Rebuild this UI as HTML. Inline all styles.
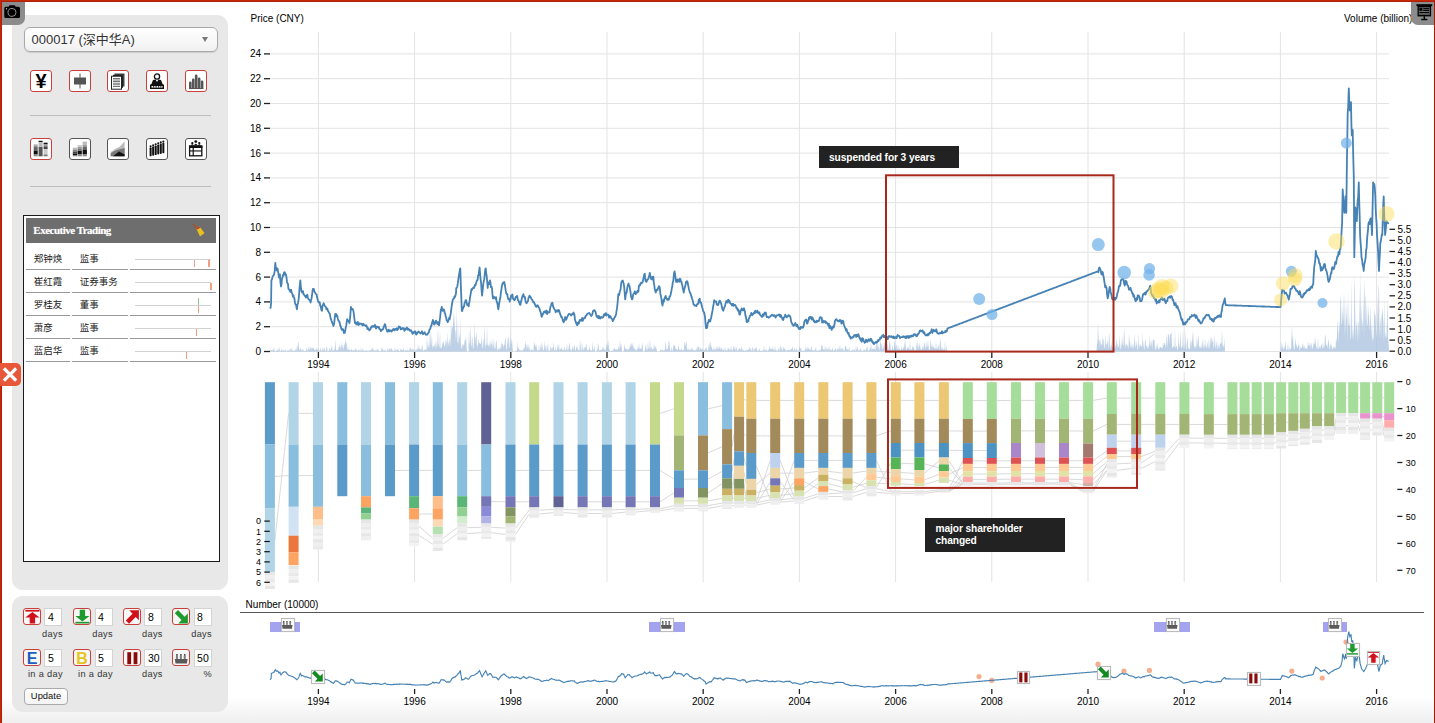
<!DOCTYPE html>
<html><head><meta charset="utf-8"><title>Stock</title>
<style>
*{box-sizing:border-box}
html,body{margin:0;padding:0}
body{width:1435px;height:723px;overflow:hidden;position:relative;background:#fff;font-family:"Liberation Sans","Noto Sans CJK SC",sans-serif;color:#000}
.abs{position:absolute}
#bt{left:0;top:0;width:1435px;height:2px;background:linear-gradient(#c92604 0,#c92604 1px,#a92209 1px)}
#bl{left:0;top:0;width:2px;height:723px;background:linear-gradient(90deg,#cb2503 0,#cb2503 1px,#ab2208 1px)}
#br{left:1434px;top:0;width:1px;height:723px;background:#a31d05}
#botg{left:2px;top:697px;width:1432px;height:26px;background:linear-gradient(#fff,#efefef)}
.panel{background:#e8e8e8;border-radius:11px}
#cam{left:2px;top:2px;width:23px;height:23px;background:#8c8c8c;border-bottom-right-radius:7px}
#pres{left:1411px;top:2px;width:23px;height:22.5px;background:#8c8c8c;border-bottom-left-radius:7px}
#sel{left:23.5px;top:27px;width:194px;height:24.5px;border:1px solid #a9a9a9;border-radius:6px;background:linear-gradient(#fff,#f1f1f1);box-shadow:0 1px 1px rgba(0,0,0,.12)}
#sel span{position:absolute;left:7px;top:1.3px;font-size:13px;color:#333;letter-spacing:0}
#sel i{position:absolute;left:177px;top:9px;width:0;height:0;border-left:3.5px solid transparent;border-right:3.5px solid transparent;border-top:5px solid #777}
.ic{position:absolute;width:22px;height:22px;border:1px solid #c9403a;border-radius:3px;background:#fff}
.ic.gb{border-color:#555}
.ic svg{position:absolute;left:0;top:0}
.sep{position:absolute;left:30px;width:181px;height:1px;background:#bdbdbd}
#tbl{left:23px;top:215px;width:197px;height:346.5px;border:1px solid #1a1a1a;background:#fff}
#thd{left:26.3px;top:218.2px;width:190px;height:25.2px;background:#6e6e6e}
#thd span{position:absolute;left:7px;top:5.5px;font-family:"Liberation Serif",serif;font-weight:bold;font-size:11px;color:#fff;text-shadow:0 0 1px rgba(255,255,255,.5);letter-spacing:-0.5px}
.row{position:absolute;left:26.3px;width:190px;height:23px}
.cell{position:absolute;top:0;height:22.5px;border-bottom:1.2px solid #9a9a9a;background:#fff;font-size:9.5px;line-height:24.6px;color:#222}
.c1{left:0;width:43.6px;padding-left:7.4px}
.c2{left:45.8px;width:55.6px;padding-left:7.6px}
.c3{left:103.9px;width:86.1px}
.tl{position:absolute;left:4.8px;top:11.3px;width:75.7px;height:1.6px;background:#d2d2d2}
.tk1{position:absolute;width:1.6px;background:#f0a080}
#xbtn{left:0;top:363.3px;width:21.3px;height:23px;background:#e9573b;border-radius:0 5px 5px 0}
.bi{position:absolute;width:17.5px;height:17px;border:1px solid #c9403a;border-radius:3px;background:#f7f7f7}
.bi svg{position:absolute;left:0;top:0}
.inp{position:absolute;width:18px;height:18px;border:1px solid #d3d3d3;background:#fff;font-size:10.5px;line-height:16px;padding-left:2.6px;color:#000}
.lb{position:absolute;font-size:9.2px;color:#333;text-align:right;letter-spacing:0.35px}
#upd{left:23.7px;top:687.5px;width:44.6px;height:17px;border:1px solid #aaa;border-radius:4px;background:linear-gradient(#fff,#f4f4f4);font-size:9.4px;line-height:14px;text-align:center;color:#111}
.note{position:absolute;background:#222;color:#fff;font-weight:bold;font-size:10.2px;line-height:12px;letter-spacing:-0.1px}
svg text{font-family:"Liberation Sans",sans-serif}
.al{font-size:10px;fill:#000}
.yl{font-size:9.6px}
.g{stroke:#e3e3e3;stroke-width:1}
.tk{stroke:#222;stroke-width:1.3}
.ob{position:absolute;width:13.5px;height:13.5px;border:1px solid #bbb;background:#fafafa;box-shadow:0 0 1px rgba(0,0,0,.15)}
.ob svg{position:absolute;left:0;top:0}
</style></head>
<body>
<div class="abs" id="botg"></div>
<svg class="abs" style="left:0;top:0" width="1435" height="723" viewBox="0 0 1435 723">
<line x1="270" y1="351.5" x2="1389" y2="351.5" class="g"/>
<line x1="270" y1="326.7" x2="1389" y2="326.7" class="g"/>
<line x1="270" y1="301.9" x2="1389" y2="301.9" class="g"/>
<line x1="270" y1="277.1" x2="1389" y2="277.1" class="g"/>
<line x1="270" y1="252.3" x2="1389" y2="252.3" class="g"/>
<line x1="270" y1="227.5" x2="1389" y2="227.5" class="g"/>
<line x1="270" y1="202.7" x2="1389" y2="202.7" class="g"/>
<line x1="270" y1="177.9" x2="1389" y2="177.9" class="g"/>
<line x1="270" y1="153.1" x2="1389" y2="153.1" class="g"/>
<line x1="270" y1="128.3" x2="1389" y2="128.3" class="g"/>
<line x1="270" y1="103.5" x2="1389" y2="103.5" class="g"/>
<line x1="270" y1="78.7" x2="1389" y2="78.7" class="g"/>
<line x1="270" y1="53.9" x2="1389" y2="53.9" class="g"/>
<line x1="318.4" y1="32" x2="318.4" y2="352" class="g"/>
<line x1="318.4" y1="372" x2="318.4" y2="582" class="g"/>
<line x1="414.6" y1="32" x2="414.6" y2="352" class="g"/>
<line x1="414.6" y1="372" x2="414.6" y2="582" class="g"/>
<line x1="510.8" y1="32" x2="510.8" y2="352" class="g"/>
<line x1="510.8" y1="372" x2="510.8" y2="582" class="g"/>
<line x1="607" y1="32" x2="607" y2="352" class="g"/>
<line x1="607" y1="372" x2="607" y2="582" class="g"/>
<line x1="703.2" y1="32" x2="703.2" y2="352" class="g"/>
<line x1="703.2" y1="372" x2="703.2" y2="582" class="g"/>
<line x1="799.4" y1="32" x2="799.4" y2="352" class="g"/>
<line x1="799.4" y1="372" x2="799.4" y2="582" class="g"/>
<line x1="895.6" y1="32" x2="895.6" y2="352" class="g"/>
<line x1="895.6" y1="372" x2="895.6" y2="582" class="g"/>
<line x1="991.8" y1="32" x2="991.8" y2="352" class="g"/>
<line x1="991.8" y1="372" x2="991.8" y2="582" class="g"/>
<line x1="1088" y1="32" x2="1088" y2="352" class="g"/>
<line x1="1088" y1="372" x2="1088" y2="582" class="g"/>
<line x1="1184.2" y1="32" x2="1184.2" y2="352" class="g"/>
<line x1="1184.2" y1="372" x2="1184.2" y2="582" class="g"/>
<line x1="1280.4" y1="32" x2="1280.4" y2="352" class="g"/>
<line x1="1280.4" y1="372" x2="1280.4" y2="582" class="g"/>
<line x1="1376.6" y1="32" x2="1376.6" y2="352" class="g"/>
<line x1="1376.6" y1="372" x2="1376.6" y2="582" class="g"/>
<path d="M270,351.5 L270,350.4 L270.5,350.1 L271,350.2 L271.5,350.7 L272,348.9 L272.5,351.1 L273,349.2 L273.5,350.7 L274,346.8 L274.5,349.9 L275,351.2 L275.5,350.9 L276,351.1 L276.5,350.9 L277,348.7 L277.5,350 L278,349.9 L278.5,350.9 L279,346.4 L279.5,349.2 L280,351.1 L280.5,351.1 L281,350.4 L281.5,350.4 L282,348.1 L282.5,351.2 L283,350.1 L283.5,350.2 L284,350.3 L284.5,350.6 L285,351.1 L285.5,348.7 L286,351.2 L286.5,351.2 L287,350.6 L287.5,350.6 L288,349.7 L288.5,350.2 L289,351 L289.5,351.1 L290,348.4 L290.5,348.4 L291,351 L291.5,349.6 L292,347.4 L292.5,351.1 L293,350.5 L293.5,351.1 L294,350.5 L294.5,350.4 L295,350.7 L295.5,350 L296,348.3 L296.5,351.2 L297,344.2 L297.5,350.7 L298,341.6 L298.5,342.4 L299,349.5 L299.5,351 L300,346.8 L300.5,349.5 L301,348.4 L301.5,350.7 L302,349.4 L302.5,351.2 L303,347.9 L303.5,350.7 L304,350.4 L304.5,351.2 L305,351 L305.5,351 L306,350.9 L306.5,347.6 L307,349.1 L307.5,349.8 L308,351.2 L308.5,347.5 L309,346.3 L309.5,350.1 L310,349.1 L310.5,346.1 L311,350.5 L311.5,347.1 L312,349.1 L312.5,346.9 L313,349.6 L313.5,347.3 L314,348.7 L314.5,349.7 L315,350.6 L315.5,349.8 L316,350 L316.5,347 L317,350.4 L317.5,349.8 L318,348.1 L318.5,349.2 L319,350.3 L319.5,350.9 L320,350.2 L320.5,347 L321,351.1 L321.5,349.7 L322,351.2 L322.5,349.2 L323,347.5 L323.5,349.7 L324,350.8 L324.5,346.8 L325,350.3 L325.5,350.7 L326,350.7 L326.5,347.6 L327,346.5 L327.5,351.1 L328,350.9 L328.5,350.9 L329,350.3 L329.5,348.2 L330,348.3 L330.5,351 L331,349.5 L331.5,347.9 L332,345 L332.5,351 L333,350.4 L333.5,349.5 L334,350.9 L334.5,349.2 L335,347 L335.5,339.2 L336,349.9 L336.5,350.4 L337,349.9 L337.5,349.9 L338,350.3 L338.5,348.5 L339,345.2 L339.5,344.9 L340,349.4 L340.5,345.1 L341,350 L341.5,341.2 L342,348.6 L342.5,343.7 L343,348.3 L343.5,350 L344,343.6 L344.5,345.9 L345,342.3 L345.5,338.1 L346,344.6 L346.5,341.8 L347,349.2 L347.5,350.1 L348,345.1 L348.5,350.4 L349,349.7 L349.5,349.7 L350,349.2 L350.5,351.2 L351,349.5 L351.5,349.3 L352,350 L352.5,350.4 L353,350.6 L353.5,349.7 L354,350.3 L354.5,349.9 L355,350.9 L355.5,347.7 L356,348.8 L356.5,349.9 L357,350.8 L357.5,350.5 L358,350.8 L358.5,349.9 L359,349.1 L359.5,350.5 L360,350.7 L360.5,350.7 L361,347.3 L361.5,350.8 L362,350.9 L362.5,347.7 L363,350.9 L363.5,350.3 L364,350.4 L364.5,350.6 L365,351.1 L365.5,350.6 L366,350.2 L366.5,349.8 L367,350.7 L367.5,351.1 L368,350.6 L368.5,350.8 L369,350.9 L369.5,350.2 L370,350.3 L370.5,349.7 L371,350.5 L371.5,348.6 L372,350.4 L372.5,348 L373,347.2 L373.5,350.5 L374,349.7 L374.5,351.1 L375,350.3 L375.5,350.6 L376,349.8 L376.5,351.2 L377,347.8 L377.5,350.4 L378,349.3 L378.5,349.7 L379,351.2 L379.5,351.2 L380,350.4 L380.5,350.9 L381,351.2 L381.5,346.7 L382,350.4 L382.5,347.8 L383,349.3 L383.5,350.7 L384,350.6 L384.5,350.8 L385,348.4 L385.5,350.9 L386,350.5 L386.5,351.2 L387,350.9 L387.5,348.5 L388,348.2 L388.5,350.6 L389,350.4 L389.5,348.4 L390,348.2 L390.5,348.9 L391,350.4 L391.5,347.8 L392,349 L392.5,350.4 L393,350.7 L393.5,350.7 L394,351.1 L394.5,349.9 L395,347.8 L395.5,350.6 L396,350.1 L396.5,350.7 L397,349.4 L397.5,349 L398,350.4 L398.5,349.3 L399,350.9 L399.5,351.2 L400,351 L400.5,348.2 L401,350.4 L401.5,349.7 L402,349.4 L402.5,350.6 L403,349.2 L403.5,348.1 L404,350.8 L404.5,350.8 L405,350.8 L405.5,350.2 L406,350.1 L406.5,351 L407,350.1 L407.5,349.7 L408,351.1 L408.5,351.1 L409,349.6 L409.5,348.2 L410,350.7 L410.5,347 L411,348.3 L411.5,350.6 L412,350.3 L412.5,347.7 L413,350.3 L413.5,348.3 L414,350.8 L414.5,350.5 L415,350.8 L415.5,350.3 L416,348.8 L416.5,350.4 L417,349.8 L417.5,349 L418,344.1 L418.5,349.8 L419,346.8 L419.5,348.4 L420,350.5 L420.5,349 L421,348.8 L421.5,349.8 L422,345.2 L422.5,345.5 L423,351 L423.5,350.4 L424,350.1 L424.5,350.3 L425,349.2 L425.5,348.9 L426,350 L426.5,350.6 L427,334 L427.5,349.9 L428,341.2 L428.5,346.2 L429,348.2 L429.5,345.2 L430,325.9 L430.5,345.8 L431,329.6 L431.5,347.6 L432,335.5 L432.5,349.9 L433,345.5 L433.5,346.5 L434,346.3 L434.5,343.6 L435,349.4 L435.5,339.8 L436,349.1 L436.5,340.9 L437,348.8 L437.5,343.1 L438,327.2 L438.5,343.7 L439,345.6 L439.5,347.9 L440,329.7 L440.5,348.5 L441,347.9 L441.5,347.6 L442,346 L442.5,343.1 L443,342.4 L443.5,340.5 L444,345.2 L444.5,347.3 L445,344.2 L445.5,339.3 L446,346.1 L446.5,337.6 L447,349.9 L447.5,330.9 L448,344.7 L448.5,341.1 L449,346.9 L449.5,340.1 L450,338.6 L450.5,348 L451,320.9 L451.5,336.1 L452,325.5 L452.5,329 L453,324.8 L453.5,317.3 L454,312.2 L454.5,322.4 L455,329.6 L455.5,331.7 L456,341.5 L456.5,305.9 L457,342.3 L457.5,342.9 L458,316.5 L458.5,345.5 L459,338.3 L459.5,334.1 L460,343.7 L460.5,316.3 L461,348.9 L461.5,348.2 L462,343.8 L462.5,344.8 L463,348.1 L463.5,343.4 L464,345.7 L464.5,341.2 L465,339.6 L465.5,340.7 L466,334.9 L466.5,345.9 L467,351.5 L467.5,351.5 L468,351.5 L468.5,351.5 L469,328.4 L469.5,343.2 L470,343.7 L470.5,324.2 L471,345.4 L471.5,347.2 L472,335.8 L472.5,340.1 L473,349 L473.5,347.9 L474,340.7 L474.5,321.4 L475,345.1 L475.5,338.2 L476,336.2 L476.5,330.5 L477,349 L477.5,345.1 L478,344.9 L478.5,338.2 L479,343.2 L479.5,342.9 L480,343.2 L480.5,343.9 L481,343.4 L481.5,335.2 L482,347.7 L482.5,348.8 L483,338.6 L483.5,340.4 L484,348 L484.5,324.8 L485,337.6 L485.5,348.4 L486,344.9 L486.5,344.4 L487,325.2 L487.5,344.2 L488,345.5 L488.5,344.4 L489,347.6 L489.5,340.9 L490,348.4 L490.5,344.3 L491,338.9 L491.5,344.3 L492,344.1 L492.5,349.1 L493,337.2 L493.5,347.6 L494,339.3 L494.5,349.1 L495,349 L495.5,347.6 L496,341.5 L496.5,340.7 L497,347.1 L497.5,350.4 L498,350.5 L498.5,348.9 L499,346.9 L499.5,349 L500,350 L500.5,345.7 L501,349.7 L501.5,341.7 L502,344.5 L502.5,343.4 L503,345.1 L503.5,348 L504,344.9 L504.5,345 L505,339.3 L505.5,336.8 L506,348.6 L506.5,350.2 L507,343.9 L507.5,337.2 L508,348.4 L508.5,335.7 L509,338.7 L509.5,346.5 L510,348.8 L510.5,331.8 L511,344.7 L511.5,341.7 L512,338.6 L512.5,347.4 L513,351.5 L513.5,351.5 L514,351.5 L514.5,351.5 L515,351.5 L515.5,351.5 L516,350.1 L516.5,350.6 L517,351.1 L517.5,341.6 L518,350.2 L518.5,346.6 L519,348.9 L519.5,350.2 L520,350.1 L520.5,350.6 L521,350.5 L521.5,350.5 L522,350.3 L522.5,350.4 L523,350.4 L523.5,347.9 L524,350.1 L524.5,347.4 L525,346.2 L525.5,340.8 L526,344 L526.5,350.1 L527,343.3 L527.5,349.3 L528,343.5 L528.5,350.9 L529,343.1 L529.5,348.4 L530,350 L530.5,350.5 L531,350.3 L531.5,350.1 L532,348 L532.5,350.5 L533,350.4 L533.5,351 L534,341 L534.5,344.1 L535,345.8 L535.5,347.1 L536,343.3 L536.5,346.3 L537,349.7 L537.5,349.9 L538,350.8 L538.5,350.9 L539,344.8 L539.5,350.4 L540,350.5 L540.5,344 L541,349.8 L541.5,340.6 L542,350.6 L542.5,343.2 L543,349.9 L543.5,349.7 L544,350.7 L544.5,340.2 L545,348.7 L545.5,344.4 L546,351.1 L546.5,350 L547,343.6 L547.5,350.3 L548,342.2 L548.5,350.7 L549,350.8 L549.5,350.3 L550,350.9 L550.5,345.7 L551,348.1 L551.5,348.2 L552,350.8 L552.5,347.2 L553,348.5 L553.5,341.6 L554,349.4 L554.5,350.6 L555,350.3 L555.5,346 L556,350.9 L556.5,350.1 L557,349.5 L557.5,344 L558,349.8 L558.5,346.7 L559,342.9 L559.5,350.6 L560,348.8 L560.5,349 L561,349.3 L561.5,346.5 L562,349.5 L562.5,349.8 L563,350.2 L563.5,350.4 L564,347.7 L564.5,346.9 L565,350.3 L565.5,349.8 L566,350.6 L566.5,348.1 L567,342.5 L567.5,350.8 L568,349.7 L568.5,349.6 L569,344.9 L569.5,342.2 L570,348.5 L570.5,349.6 L571,350.6 L571.5,350.7 L572,348.6 L572.5,348.6 L573,344.6 L573.5,350.7 L574,347.2 L574.5,344.1 L575,350.3 L575.5,350.5 L576,349.3 L576.5,345.4 L577,349.2 L577.5,345.8 L578,350.9 L578.5,349.5 L579,350.3 L579.5,350.5 L580,339.1 L580.5,345.3 L581,350.7 L581.5,350.1 L582,340.8 L582.5,350.2 L583,346.8 L583.5,350.3 L584,350.1 L584.5,346.9 L585,347.3 L585.5,348.5 L586,343.6 L586.5,345.1 L587,350.4 L587.5,349.1 L588,350.8 L588.5,349.8 L589,349.8 L589.5,345.7 L590,349.5 L590.5,350.6 L591,349.5 L591.5,350.7 L592,350.7 L592.5,341.3 L593,349.7 L593.5,350.6 L594,348.9 L594.5,345.5 L595,351.5 L595.5,351.5 L596,351.5 L596.5,351.5 L597,348.9 L597.5,349.9 L598,342.8 L598.5,345.2 L599,350 L599.5,350.2 L600,350.8 L600.5,349.8 L601,349.7 L601.5,350 L602,349.4 L602.5,346.2 L603,350.7 L603.5,346.5 L604,349.7 L604.5,349 L605,350.1 L605.5,350.6 L606,348.1 L606.5,343.8 L607,348.5 L607.5,340.5 L608,347 L608.5,339.3 L609,348.9 L609.5,349.7 L610,350.9 L610.5,351.1 L611,350.9 L611.5,351.1 L612,350.8 L612.5,350.6 L613,350.4 L613.5,349.4 L614,348.5 L614.5,347.4 L615,349.2 L615.5,349.6 L616,350 L616.5,349.4 L617,348.5 L617.5,350.1 L618,350.3 L618.5,346.5 L619,347.1 L619.5,349.5 L620,339.1 L620.5,348.1 L621,343 L621.5,346.8 L622,351.5 L622.5,351.5 L623,351.5 L623.5,351.5 L624,349.3 L624.5,343.8 L625,348 L625.5,348.4 L626,349.2 L626.5,349.8 L627,348.1 L627.5,350.4 L628,349.1 L628.5,349 L629,350 L629.5,346.8 L630,347 L630.5,343 L631,347.8 L631.5,342 L632,346.2 L632.5,345.6 L633,341.7 L633.5,348 L634,347.9 L634.5,349.9 L635,347.4 L635.5,350.3 L636,350.2 L636.5,349.7 L637,350.7 L637.5,346.7 L638,349.7 L638.5,347.8 L639,343 L639.5,348.6 L640,349 L640.5,348.2 L641,349 L641.5,348.8 L642,345.3 L642.5,342.1 L643,351.5 L643.5,351.5 L644,351.5 L644.5,351.5 L645,348.9 L645.5,346.7 L646,343.3 L646.5,350.1 L647,349.2 L647.5,350.5 L648,340.5 L648.5,348.2 L649,348.5 L649.5,348.8 L650,337.7 L650.5,347 L651,350.6 L651.5,346.3 L652,348.1 L652.5,350.2 L653,348.6 L653.5,349.9 L654,342.6 L654.5,349.8 L655,344.8 L655.5,347.6 L656,347.6 L656.5,348.8 L657,351.5 L657.5,351.5 L658,351.5 L658.5,351.5 L659,351.5 L659.5,351.5 L660,350.8 L660.5,349 L661,350.3 L661.5,350.6 L662,350.1 L662.5,349.8 L663,349.8 L663.5,350.4 L664,350.9 L664.5,349 L665,350.9 L665.5,340.4 L666,344.4 L666.5,349.7 L667,349 L667.5,349.4 L668,347.7 L668.5,342.5 L669,339.5 L669.5,344.8 L670,349.7 L670.5,350.9 L671,350.9 L671.5,346.5 L672,349.4 L672.5,350.9 L673,349.1 L673.5,345.1 L674,345.8 L674.5,345.5 L675,345.2 L675.5,349 L676,348.6 L676.5,349.7 L677,349.2 L677.5,350 L678,350.1 L678.5,344.8 L679,348.1 L679.5,350.4 L680,349 L680.5,350.6 L681,349.6 L681.5,348.2 L682,349.8 L682.5,350.9 L683,349.9 L683.5,349.8 L684,350.2 L684.5,341.6 L685,344.1 L685.5,346.5 L686,341.3 L686.5,341.5 L687,350.2 L687.5,349.7 L688,347.8 L688.5,348.9 L689,350.4 L689.5,349 L690,350.2 L690.5,350.4 L691,347.1 L691.5,348.9 L692,349.8 L692.5,348.2 L693,350 L693.5,350.1 L694,350.8 L694.5,349.7 L695,350.6 L695.5,350.1 L696,349.6 L696.5,349.9 L697,345.8 L697.5,350.1 L698,345.4 L698.5,347.6 L699,346.2 L699.5,350.6 L700,348.8 L700.5,347.2 L701,349.6 L701.5,349.8 L702,348.3 L702.5,348.4 L703,350 L703.5,350 L704,349.7 L704.5,350.3 L705,349.7 L705.5,348.5 L706,347.9 L706.5,346.9 L707,350.2 L707.5,350.8 L708,350.4 L708.5,343.5 L709,350.6 L709.5,344.8 L710,343 L710.5,342 L711,348.5 L711.5,345.3 L712,348 L712.5,350 L713,350 L713.5,349.3 L714,346.7 L714.5,350.5 L715,348.4 L715.5,350.6 L716,346.4 L716.5,350.1 L717,345.3 L717.5,348.7 L718,349.8 L718.5,348.5 L719,345.2 L719.5,349.3 L720,346.5 L720.5,349.2 L721,350.1 L721.5,347.7 L722,347.9 L722.5,350 L723,349.7 L723.5,349.3 L724,350.7 L724.5,350.7 L725,346.4 L725.5,349.4 L726,350.3 L726.5,350.8 L727,349.9 L727.5,350.6 L728,347.1 L728.5,349.8 L729,347.6 L729.5,350.9 L730,349 L730.5,350.2 L731,345.7 L731.5,350 L732,350.5 L732.5,350.6 L733,349.4 L733.5,345.2 L734,349.5 L734.5,348.8 L735,345.4 L735.5,350.7 L736,349.5 L736.5,346.1 L737,350.8 L737.5,350.8 L738,350.3 L738.5,349.8 L739,348.5 L739.5,348.4 L740,348.1 L740.5,350.6 L741,348 L741.5,346.4 L742,350.9 L742.5,349.9 L743,348.7 L743.5,350.3 L744,350.2 L744.5,351.1 L745,350.5 L745.5,350.1 L746,350.8 L746.5,350.6 L747,350.1 L747.5,350.1 L748,350.1 L748.5,349.2 L749,349.7 L749.5,345.6 L750,350.8 L750.5,348.4 L751,348.6 L751.5,350.4 L752,351.1 L752.5,346.4 L753,347.5 L753.5,350.8 L754,351 L754.5,347.3 L755,350.4 L755.5,347 L756,349.1 L756.5,347 L757,350.7 L757.5,350.2 L758,350.5 L758.5,350.5 L759,350.4 L759.5,348.3 L760,350.4 L760.5,350.4 L761,351.1 L761.5,350.8 L762,350.8 L762.5,349.9 L763,350.9 L763.5,350.2 L764,345.4 L764.5,349.8 L765,350.8 L765.5,349.6 L766,350.4 L766.5,348.4 L767,351.2 L767.5,351 L768,350 L768.5,350 L769,349.3 L769.5,345.5 L770,350.2 L770.5,347.8 L771,349 L771.5,348.7 L772,349.9 L772.5,346 L773,350.6 L773.5,347.8 L774,350.7 L774.5,350.1 L775,344.9 L775.5,350.3 L776,350 L776.5,350.2 L777,350.5 L777.5,351 L778,350.5 L778.5,347.8 L779,349.7 L779.5,351.2 L780,345.9 L780.5,346.1 L781,350.7 L781.5,347.4 L782,347.3 L782.5,350.8 L783,350.6 L783.5,345.9 L784,349 L784.5,348.2 L785,348.9 L785.5,350 L786,350.9 L786.5,350.9 L787,350 L787.5,349.9 L788,350.1 L788.5,350.1 L789,350 L789.5,350.5 L790,348.9 L790.5,350.7 L791,347.9 L791.5,348.9 L792,349.6 L792.5,345.2 L793,349.8 L793.5,350.8 L794,350.5 L794.5,347.5 L795,349.3 L795.5,349.8 L796,351 L796.5,347.7 L797,350.4 L797.5,350.4 L798,350.3 L798.5,350.7 L799,349.4 L799.5,345.6 L800,350.3 L800.5,348.1 L801,347.4 L801.5,350.4 L802,351.1 L802.5,350.7 L803,351 L803.5,350.6 L804,350.9 L804.5,350.3 L805,350.3 L805.5,346.7 L806,349.8 L806.5,349.7 L807,346 L807.5,350.4 L808,346.3 L808.5,348.2 L809,350.6 L809.5,348.8 L810,349.5 L810.5,350.5 L811,346 L811.5,346.2 L812,350.6 L812.5,350.3 L813,350.7 L813.5,350 L814,350.3 L814.5,350.6 L815,350.2 L815.5,348.4 L816,347.6 L816.5,350.8 L817,350.8 L817.5,350.6 L818,350.8 L818.5,350.2 L819,350.8 L819.5,349.9 L820,349.2 L820.5,351 L821,349.1 L821.5,344.7 L822,345.5 L822.5,345.5 L823,350.6 L823.5,348.9 L824,349.4 L824.5,350.2 L825,345.5 L825.5,351.2 L826,345.1 L826.5,351.2 L827,348.6 L827.5,349.7 L828,347.5 L828.5,351.2 L829,344.9 L829.5,350 L830,350.8 L830.5,348.6 L831,350 L831.5,350.6 L832,350.1 L832.5,347.1 L833,351.1 L833.5,350.5 L834,350.3 L834.5,349.5 L835,350.3 L835.5,347.1 L836,351.1 L836.5,350.8 L837,348.8 L837.5,349.6 L838,348.6 L838.5,351 L839,345.1 L839.5,350.7 L840,344.4 L840.5,350.9 L841,347.7 L841.5,348.2 L842,350.8 L842.5,348.4 L843,347.7 L843.5,350.5 L844,350.9 L844.5,350.2 L845,347.1 L845.5,345.4 L846,346.2 L846.5,349.1 L847,350.2 L847.5,349.4 L848,348.1 L848.5,349.7 L849,350.9 L849.5,346.1 L850,351.2 L850.5,351 L851,351 L851.5,350.4 L852,349.8 L852.5,349.7 L853,350.2 L853.5,351.1 L854,348.5 L854.5,349.6 L855,351 L855.5,350.6 L856,344.9 L856.5,349.7 L857,349.8 L857.5,346.1 L858,350.2 L858.5,350.2 L859,351.2 L859.5,348.9 L860,351.1 L860.5,348.2 L861,349.3 L861.5,350.8 L862,351.1 L862.5,351.1 L863,350.4 L863.5,349.5 L864,350.8 L864.5,349.2 L865,350.1 L865.5,350.7 L866,350.2 L866.5,346.6 L867,350.3 L867.5,345.1 L868,351 L868.5,350.5 L869,350.7 L869.5,350.1 L870,347.5 L870.5,348.7 L871,341.6 L871.5,349.6 L872,349.7 L872.5,348.7 L873,348.8 L873.5,349.6 L874,347.5 L874.5,348.5 L875,350.2 L875.5,349.2 L876,343.8 L876.5,342.7 L877,349.4 L877.5,340.7 L878,349 L878.5,344.2 L879,349.7 L879.5,350.6 L880,343.7 L880.5,340.4 L881,344.3 L881.5,343.9 L882,349.2 L882.5,349 L883,342.2 L883.5,349.6 L884,345.2 L884.5,341.6 L885,346.2 L885.5,347.8 L886,340.4 L886.5,348.8 L887,347.3 L887.5,338.9 L888,349.8 L888.5,349.5 L889,344.3 L889.5,342.2 L890,340.8 L890.5,348.6 L891,349.9 L891.5,350.8 L892,349.2 L892.5,344.8 L893,348.3 L893.5,350.3 L894,348 L894.5,340.5 L895,341.8 L895.5,348.7 L896,346.4 L896.5,343.9 L897,350.3 L897.5,348.9 L898,344 L898.5,349 L899,349.3 L899.5,348.7 L900,350.3 L900.5,350.8 L901,349 L901.5,346.2 L902,349.7 L902.5,349.6 L903,348.7 L903.5,346.9 L904,347.7 L904.5,340.7 L905,348.8 L905.5,339.1 L906,350 L906.5,349.4 L907,349.1 L907.5,346.7 L908,349.2 L908.5,346.6 L909,348.6 L909.5,350.2 L910,340.7 L910.5,349 L911,350.7 L911.5,348.8 L912,350.1 L912.5,345.6 L913,347.5 L913.5,347.3 L914,347.2 L914.5,350.8 L915,350.1 L915.5,350.3 L916,350.1 L916.5,342.2 L917,348.1 L917.5,340 L918,350.5 L918.5,343.7 L919,349.4 L919.5,342.8 L920,345.4 L920.5,348.7 L921,349.6 L921.5,349.9 L922,349.1 L922.5,345.7 L923,349.2 L923.5,348.1 L924,342.6 L924.5,343.6 L925,347.2 L925.5,349.2 L926,340.2 L926.5,346.6 L927,347.4 L927.5,345.9 L928,339.7 L928.5,346.7 L929,350.2 L929.5,349.2 L930,349.7 L930.5,339.5 L931,342.5 L931.5,348.9 L932,343 L932.5,348.3 L933,344.9 L933.5,347.5 L934,347 L934.5,348.4 L935,348.6 L935.5,349 L936,340.1 L936.5,348.8 L937,348.9 L937.5,348.3 L938,346 L938.5,345 L939,350.2 L939.5,348.9 L940,339.3 L940.5,340.5 L941,345.9 L941.5,350.6 L942,346.2 L942.5,348.7 L943,350.1 L943.5,350 L944,347.5 L944.5,350.5 L945,340.2 L945.5,350.6 L946,350.8 L946.5,345.1 L947,351.5 L947.5,351.5 L948,351.5 L948.5,351.5 L949,351.5 L949.5,351.5 L950,351.5 L950.5,351.5 L951,351.5 L951.5,351.5 L952,351.5 L952.5,351.5 L953,351.5 L953.5,351.5 L954,351.5 L954.5,351.5 L955,351.5 L955.5,351.5 L956,351.5 L956.5,351.5 L957,351.5 L957.5,351.5 L958,351.5 L958.5,351.5 L959,351.5 L959.5,351.5 L960,351.5 L960.5,351.5 L961,351.5 L961.5,351.5 L962,351.5 L962.5,351.5 L963,351.5 L963.5,351.5 L964,351.5 L964.5,351.5 L965,351.5 L965.5,351.5 L966,351.5 L966.5,351.5 L967,351.5 L967.5,351.5 L968,351.5 L968.5,351.5 L969,351.5 L969.5,351.5 L970,351.5 L970.5,351.5 L971,351.5 L971.5,351.5 L972,351.5 L972.5,351.5 L973,351.5 L973.5,351.5 L974,351.5 L974.5,351.5 L975,351.5 L975.5,351.5 L976,351.5 L976.5,351.5 L977,351.5 L977.5,351.5 L978,351.5 L978.5,351.5 L979,351.5 L979.5,351.5 L980,351.5 L980.5,351.5 L981,351.5 L981.5,351.5 L982,351.5 L982.5,351.5 L983,351.5 L983.5,351.5 L984,351.5 L984.5,351.5 L985,351.5 L985.5,351.5 L986,351.5 L986.5,351.5 L987,351.5 L987.5,351.5 L988,351.5 L988.5,351.5 L989,351.5 L989.5,351.5 L990,351.5 L990.5,351.5 L991,351.5 L991.5,351.5 L992,351.5 L992.5,351.5 L993,351.5 L993.5,351.5 L994,351.5 L994.5,351.5 L995,351.5 L995.5,351.5 L996,351.5 L996.5,351.5 L997,351.5 L997.5,351.5 L998,351.5 L998.5,351.5 L999,351.5 L999.5,351.5 L1000,351.5 L1000.5,351.5 L1001,351.5 L1001.5,351.5 L1002,351.5 L1002.5,351.5 L1003,351.5 L1003.5,351.5 L1004,351.5 L1004.5,351.5 L1005,351.5 L1005.5,351.5 L1006,351.5 L1006.5,351.5 L1007,351.5 L1007.5,351.5 L1008,351.5 L1008.5,351.5 L1009,351.5 L1009.5,351.5 L1010,351.5 L1010.5,351.5 L1011,351.5 L1011.5,351.5 L1012,351.5 L1012.5,351.5 L1013,351.5 L1013.5,351.5 L1014,351.5 L1014.5,351.5 L1015,351.5 L1015.5,351.5 L1016,351.5 L1016.5,351.5 L1017,351.5 L1017.5,351.5 L1018,351.5 L1018.5,351.5 L1019,351.5 L1019.5,351.5 L1020,351.5 L1020.5,351.5 L1021,351.5 L1021.5,351.5 L1022,351.5 L1022.5,351.5 L1023,351.5 L1023.5,351.5 L1024,351.5 L1024.5,351.5 L1025,351.5 L1025.5,351.5 L1026,351.5 L1026.5,351.5 L1027,351.5 L1027.5,351.5 L1028,351.5 L1028.5,351.5 L1029,351.5 L1029.5,351.5 L1030,351.5 L1030.5,351.5 L1031,351.5 L1031.5,351.5 L1032,351.5 L1032.5,351.5 L1033,351.5 L1033.5,351.5 L1034,351.5 L1034.5,351.5 L1035,351.5 L1035.5,351.5 L1036,351.5 L1036.5,351.5 L1037,351.5 L1037.5,351.5 L1038,351.5 L1038.5,351.5 L1039,351.5 L1039.5,351.5 L1040,351.5 L1040.5,351.5 L1041,351.5 L1041.5,351.5 L1042,351.5 L1042.5,351.5 L1043,351.5 L1043.5,351.5 L1044,351.5 L1044.5,351.5 L1045,351.5 L1045.5,351.5 L1046,351.5 L1046.5,351.5 L1047,351.5 L1047.5,351.5 L1048,351.5 L1048.5,351.5 L1049,351.5 L1049.5,351.5 L1050,351.5 L1050.5,351.5 L1051,351.5 L1051.5,351.5 L1052,351.5 L1052.5,351.5 L1053,351.5 L1053.5,351.5 L1054,351.5 L1054.5,351.5 L1055,351.5 L1055.5,351.5 L1056,351.5 L1056.5,351.5 L1057,351.5 L1057.5,351.5 L1058,351.5 L1058.5,351.5 L1059,351.5 L1059.5,351.5 L1060,351.5 L1060.5,351.5 L1061,351.5 L1061.5,351.5 L1062,351.5 L1062.5,351.5 L1063,351.5 L1063.5,351.5 L1064,351.5 L1064.5,351.5 L1065,351.5 L1065.5,351.5 L1066,351.5 L1066.5,351.5 L1067,351.5 L1067.5,351.5 L1068,351.5 L1068.5,351.5 L1069,351.5 L1069.5,351.5 L1070,351.5 L1070.5,351.5 L1071,351.5 L1071.5,351.5 L1072,351.5 L1072.5,351.5 L1073,351.5 L1073.5,351.5 L1074,351.5 L1074.5,351.5 L1075,351.5 L1075.5,351.5 L1076,351.5 L1076.5,351.5 L1077,351.5 L1077.5,351.5 L1078,351.5 L1078.5,351.5 L1079,351.5 L1079.5,351.5 L1080,351.5 L1080.5,351.5 L1081,351.5 L1081.5,351.5 L1082,351.5 L1082.5,351.5 L1083,351.5 L1083.5,351.5 L1084,351.5 L1084.5,351.5 L1085,351.5 L1085.5,351.5 L1086,351.5 L1086.5,351.5 L1087,351.5 L1087.5,351.5 L1088,351.5 L1088.5,351.5 L1089,351.5 L1089.5,351.5 L1090,351.5 L1090.5,351.5 L1091,351.5 L1091.5,351.5 L1092,351.5 L1092.5,351.5 L1093,351.5 L1093.5,351.5 L1094,351.5 L1094.5,351.5 L1095,351.5 L1095.5,351.5 L1096,351.5 L1096.5,351.5 L1097,344 L1097.5,342.2 L1098,322 L1098.5,337.7 L1099,341.3 L1099.5,339.4 L1100,347.8 L1100.5,339.2 L1101,344 L1101.5,344.6 L1102,345.5 L1102.5,333.7 L1103,347.6 L1103.5,338.6 L1104,340.1 L1104.5,349 L1105,346.7 L1105.5,333.9 L1106,348.7 L1106.5,343.2 L1107,344.3 L1107.5,339.6 L1108,344.6 L1108.5,349.8 L1109,331.7 L1109.5,336.3 L1110,349.9 L1110.5,344.3 L1111,349.3 L1111.5,341.4 L1112,347.4 L1112.5,346.3 L1113,348.2 L1113.5,349 L1114,349.3 L1114.5,345.7 L1115,349.2 L1115.5,344.2 L1116,347.6 L1116.5,338.2 L1117,342.6 L1117.5,344.9 L1118,347.7 L1118.5,346.5 L1119,345.5 L1119.5,333.7 L1120,349.4 L1120.5,349.1 L1121,342.3 L1121.5,349.1 L1122,335.5 L1122.5,341.4 L1123,345.1 L1123.5,345.9 L1124,328 L1124.5,335.1 L1125,349.7 L1125.5,342.3 L1126,347.6 L1126.5,343.5 L1127,344.7 L1127.5,344.7 L1128,348.8 L1128.5,347.2 L1129,333 L1129.5,340.9 L1130,344.3 L1130.5,348.1 L1131,340.3 L1131.5,348.1 L1132,347.3 L1132.5,343.5 L1133,349.8 L1133.5,347 L1134,342.4 L1134.5,333.3 L1135,347.7 L1135.5,347 L1136,339.6 L1136.5,346.4 L1137,341.2 L1137.5,349.6 L1138,349.9 L1138.5,332.5 L1139,348.8 L1139.5,345.9 L1140,343.5 L1140.5,345.1 L1141,346.9 L1141.5,345.7 L1142,346.7 L1142.5,331.9 L1143,349.1 L1143.5,340.1 L1144,349.8 L1144.5,349 L1145,340 L1145.5,339.8 L1146,346.5 L1146.5,344.8 L1147,348.1 L1147.5,346.3 L1148,349.9 L1148.5,344 L1149,348.9 L1149.5,334 L1150,347.6 L1150.5,340.4 L1151,347.5 L1151.5,343.1 L1152,338.6 L1152.5,349.9 L1153,337.8 L1153.5,340.3 L1154,340.1 L1154.5,340.2 L1155,349.6 L1155.5,350 L1156,344.7 L1156.5,349.9 L1157,342.3 L1157.5,345.3 L1158,349.5 L1158.5,349.5 L1159,345.2 L1159.5,349.6 L1160,347.1 L1160.5,346.7 L1161,347.2 L1161.5,348.2 L1162,347.3 L1162.5,348.9 L1163,342.2 L1163.5,346.1 L1164,345.1 L1164.5,342.8 L1165,342.8 L1165.5,345.3 L1166,348.8 L1166.5,338.2 L1167,332.8 L1167.5,348.7 L1168,338.1 L1168.5,332.9 L1169,335.2 L1169.5,345.2 L1170,332.2 L1170.5,335.2 L1171,334.3 L1171.5,331.3 L1172,348.7 L1172.5,347.7 L1173,346.3 L1173.5,347 L1174,345.4 L1174.5,348.2 L1175,328.5 L1175.5,348.6 L1176,346.8 L1176.5,345.7 L1177,347.2 L1177.5,350 L1178,349.5 L1178.5,331.7 L1179,347.2 L1179.5,346.6 L1180,341.8 L1180.5,331.2 L1181,348.1 L1181.5,348.2 L1182,345 L1182.5,346.9 L1183,330.1 L1183.5,345.7 L1184,349.6 L1184.5,348.5 L1185,343.6 L1185.5,330.8 L1186,349.9 L1186.5,348.5 L1187,340.6 L1187.5,336.9 L1188,348.8 L1188.5,347.2 L1189,349.4 L1189.5,349.6 L1190,347.9 L1190.5,337.8 L1191,348.9 L1191.5,340.5 L1192,342.8 L1192.5,336.4 L1193,330.4 L1193.5,341.2 L1194,345.7 L1194.5,348.3 L1195,345.7 L1195.5,345.9 L1196,349.9 L1196.5,342.2 L1197,336.1 L1197.5,347.7 L1198,339.1 L1198.5,334.8 L1199,347.2 L1199.5,347.5 L1200,344.6 L1200.5,348.6 L1201,346.9 L1201.5,348.5 L1202,339.9 L1202.5,348 L1203,336.5 L1203.5,349.5 L1204,343.7 L1204.5,349.7 L1205,338.3 L1205.5,344.8 L1206,348.1 L1206.5,347.5 L1207,344.6 L1207.5,341.6 L1208,349.8 L1208.5,345.5 L1209,336.9 L1209.5,349.5 L1210,345.9 L1210.5,335.5 L1211,345.1 L1211.5,335.9 L1212,341.2 L1212.5,342.6 L1213,336.7 L1213.5,347.9 L1214,347.1 L1214.5,333.7 L1215,346.6 L1215.5,349 L1216,339.1 L1216.5,347.8 L1217,340.4 L1217.5,348.3 L1218,349.8 L1218.5,344 L1219,346.5 L1219.5,348.7 L1220,341.2 L1220.5,343.9 L1221,343.7 L1221.5,342.7 L1222,329.3 L1222.5,344.1 L1223,347.7 L1223.5,344.3 L1224,348.2 L1224.5,337 L1225,351.5 L1225.5,351.5 L1226,351.5 L1226.5,351.5 L1227,351.5 L1227.5,351.5 L1228,351.5 L1228.5,351.5 L1229,351.5 L1229.5,351.5 L1230,351.5 L1230.5,351.5 L1231,351.5 L1231.5,351.5 L1232,351.5 L1232.5,351.5 L1233,351.5 L1233.5,351.5 L1234,351.5 L1234.5,351.5 L1235,351.5 L1235.5,351.5 L1236,351.5 L1236.5,351.5 L1237,351.5 L1237.5,351.5 L1238,351.5 L1238.5,351.5 L1239,351.5 L1239.5,351.5 L1240,351.5 L1240.5,351.5 L1241,351.5 L1241.5,351.5 L1242,351.5 L1242.5,351.5 L1243,351.5 L1243.5,351.5 L1244,351.5 L1244.5,351.5 L1245,351.5 L1245.5,351.5 L1246,351.5 L1246.5,351.5 L1247,351.5 L1247.5,351.5 L1248,351.5 L1248.5,351.5 L1249,351.5 L1249.5,351.5 L1250,351.5 L1250.5,351.5 L1251,351.5 L1251.5,351.5 L1252,351.5 L1252.5,351.5 L1253,351.5 L1253.5,351.5 L1254,351.5 L1254.5,351.5 L1255,351.5 L1255.5,351.5 L1256,351.5 L1256.5,351.5 L1257,351.5 L1257.5,351.5 L1258,351.5 L1258.5,351.5 L1259,351.5 L1259.5,351.5 L1260,351.5 L1260.5,351.5 L1261,351.5 L1261.5,351.5 L1262,351.5 L1262.5,351.5 L1263,351.5 L1263.5,351.5 L1264,351.5 L1264.5,351.5 L1265,351.5 L1265.5,351.5 L1266,351.5 L1266.5,351.5 L1267,351.5 L1267.5,351.5 L1268,351.5 L1268.5,351.5 L1269,351.5 L1269.5,351.5 L1270,351.5 L1270.5,351.5 L1271,351.5 L1271.5,351.5 L1272,351.5 L1272.5,351.5 L1273,351.5 L1273.5,351.5 L1274,351.5 L1274.5,351.5 L1275,351.5 L1275.5,351.5 L1276,351.5 L1276.5,351.5 L1277,351.5 L1277.5,351.5 L1278,351.5 L1278.5,351.5 L1279,351.5 L1279.5,351.5 L1280,351.5 L1280.5,351.5 L1281,340.5 L1281.5,346.5 L1282,350 L1282.5,343.4 L1283,348 L1283.5,350.1 L1284,347 L1284.5,348.5 L1285,344.2 L1285.5,340.6 L1286,348.8 L1286.5,350.2 L1287,349.8 L1287.5,349.1 L1288,342 L1288.5,350.2 L1289,350.6 L1289.5,345.9 L1290,349.6 L1290.5,349.1 L1291,349.8 L1291.5,336.5 L1292,326.1 L1292.5,341.5 L1293,334.9 L1293.5,345.5 L1294,350.1 L1294.5,349 L1295,344.1 L1295.5,337.8 L1296,344.8 L1296.5,344.3 L1297,347.8 L1297.5,347.9 L1298,345.2 L1298.5,346 L1299,341.7 L1299.5,350.1 L1300,350.2 L1300.5,345.8 L1301,348.1 L1301.5,348.2 L1302,346.9 L1302.5,341.8 L1303,348.8 L1303.5,343.4 L1304,350 L1304.5,345.4 L1305,347.2 L1305.5,348.5 L1306,348.7 L1306.5,347.7 L1307,350 L1307.5,346.7 L1308,340.7 L1308.5,346.4 L1309,344.5 L1309.5,345.9 L1310,342 L1310.5,346.1 L1311,350 L1311.5,342.6 L1312,345.4 L1312.5,349.7 L1313,347.2 L1313.5,343.1 L1314,343.5 L1314.5,344.7 L1315,335.8 L1315.5,342.6 L1316,345.1 L1316.5,347.2 L1317,348.8 L1317.5,349 L1318,337.1 L1318.5,349.6 L1319,348.5 L1319.5,347.1 L1320,345.2 L1320.5,349.6 L1321,344 L1321.5,344.4 L1322,346.2 L1322.5,349.2 L1323,341.1 L1323.5,348 L1324,347.6 L1324.5,346 L1325,335.3 L1325.5,335.2 L1326,345 L1326.5,344.6 L1327,346.1 L1327.5,348.1 L1328,341.8 L1328.5,339.6 L1329,344 L1329.5,349.7 L1330,348.3 L1330.5,342.4 L1331,346 L1331.5,344.2 L1332,348.8 L1332.5,349.9 L1333,346.5 L1333.5,346.4 L1334,349.2 L1334.5,346.6 L1335,347.5 L1335.5,349.2 L1336,338.5 L1336.5,342.9 L1337,335 L1337.5,319.7 L1338,329 L1338.5,343.9 L1339,316.8 L1339.5,332.8 L1340,320.3 L1340.5,294 L1341,301.5 L1341.5,324.4 L1342,323.9 L1342.5,304.7 L1343,322.5 L1343.5,314.7 L1344,291.1 L1344.5,338.6 L1345,291.4 L1345.5,333.4 L1346,320.2 L1346.5,314.2 L1347,302.4 L1347.5,343.5 L1348,290.7 L1348.5,324.6 L1349,325.1 L1349.5,327.1 L1350,312.5 L1350.5,338.6 L1351,338.7 L1351.5,277.2 L1352,338.7 L1352.5,324.7 L1353,341.4 L1353.5,331.9 L1354,325.7 L1354.5,275.6 L1355,290.5 L1355.5,340.4 L1356,322.2 L1356.5,329.3 L1357,316 L1357.5,343.9 L1358,321.2 L1358.5,323.2 L1359,340.3 L1359.5,286.2 L1360,340.3 L1360.5,268.2 L1361,322.6 L1361.5,303 L1362,333.3 L1362.5,319 L1363,325.9 L1363.5,292.5 L1364,341 L1364.5,280.4 L1365,294.1 L1365.5,298.9 L1366,332.5 L1366.5,301.8 L1367,323.3 L1367.5,327.1 L1368,303.4 L1368.5,314 L1369,316.8 L1369.5,326.6 L1370,330.2 L1370.5,305 L1371,320.8 L1371.5,338 L1372,322.3 L1372.5,343 L1373,336.7 L1373.5,340.7 L1374,322.7 L1374.5,307.5 L1375,315.4 L1375.5,314.6 L1376,329.4 L1376.5,338.7 L1377,329.4 L1377.5,295.4 L1378,323.2 L1378.5,288.6 L1379,284.3 L1379.5,337.7 L1380,323 L1380.5,316.9 L1381,339.9 L1381.5,317.3 L1382,313.6 L1382.5,306.9 L1383,318.1 L1383.5,322.8 L1384,343.7 L1384.5,296.2 L1385,338.5 L1385.5,331.5 L1386,338.7 L1386.5,335.3 L1387,316.3 L1387.5,298.6 L1388,337 L1388.5,342.5 L1389,351.5 L1389,351.5 Z" fill="#a3bedb" fill-opacity="0.72"/>
<line x1="264" y1="351.5" x2="270" y2="351.5" class="tk"/>
<text x="261" y="355" class="al" text-anchor="end">0</text>
<line x1="264" y1="326.7" x2="270" y2="326.7" class="tk"/>
<text x="261" y="330.2" class="al" text-anchor="end">2</text>
<line x1="264" y1="301.9" x2="270" y2="301.9" class="tk"/>
<text x="261" y="305.4" class="al" text-anchor="end">4</text>
<line x1="264" y1="277.1" x2="270" y2="277.1" class="tk"/>
<text x="261" y="280.6" class="al" text-anchor="end">6</text>
<line x1="264" y1="252.3" x2="270" y2="252.3" class="tk"/>
<text x="261" y="255.8" class="al" text-anchor="end">8</text>
<line x1="264" y1="227.5" x2="270" y2="227.5" class="tk"/>
<text x="261" y="231" class="al" text-anchor="end">10</text>
<line x1="264" y1="202.7" x2="270" y2="202.7" class="tk"/>
<text x="261" y="206.2" class="al" text-anchor="end">12</text>
<line x1="264" y1="177.9" x2="270" y2="177.9" class="tk"/>
<text x="261" y="181.4" class="al" text-anchor="end">14</text>
<line x1="264" y1="153.1" x2="270" y2="153.1" class="tk"/>
<text x="261" y="156.6" class="al" text-anchor="end">16</text>
<line x1="264" y1="128.3" x2="270" y2="128.3" class="tk"/>
<text x="261" y="131.8" class="al" text-anchor="end">18</text>
<line x1="264" y1="103.5" x2="270" y2="103.5" class="tk"/>
<text x="261" y="107" class="al" text-anchor="end">20</text>
<line x1="264" y1="78.7" x2="270" y2="78.7" class="tk"/>
<text x="261" y="82.2" class="al" text-anchor="end">22</text>
<line x1="264" y1="53.9" x2="270" y2="53.9" class="tk"/>
<text x="261" y="57.4" class="al" text-anchor="end">24</text>
<line x1="318.4" y1="352" x2="318.4" y2="358" class="tk"/>
<text x="318.4" y="367.8" class="al" text-anchor="middle">1994</text>
<line x1="318.4" y1="689" x2="318.4" y2="694" class="tk"/>
<text x="318.4" y="705" class="al" text-anchor="middle">1994</text>
<line x1="414.6" y1="352" x2="414.6" y2="358" class="tk"/>
<text x="414.6" y="367.8" class="al" text-anchor="middle">1996</text>
<line x1="414.6" y1="689" x2="414.6" y2="694" class="tk"/>
<text x="414.6" y="705" class="al" text-anchor="middle">1996</text>
<line x1="510.8" y1="352" x2="510.8" y2="358" class="tk"/>
<text x="510.8" y="367.8" class="al" text-anchor="middle">1998</text>
<line x1="510.8" y1="689" x2="510.8" y2="694" class="tk"/>
<text x="510.8" y="705" class="al" text-anchor="middle">1998</text>
<line x1="607" y1="352" x2="607" y2="358" class="tk"/>
<text x="607" y="367.8" class="al" text-anchor="middle">2000</text>
<line x1="607" y1="689" x2="607" y2="694" class="tk"/>
<text x="607" y="705" class="al" text-anchor="middle">2000</text>
<line x1="703.2" y1="352" x2="703.2" y2="358" class="tk"/>
<text x="703.2" y="367.8" class="al" text-anchor="middle">2002</text>
<line x1="703.2" y1="689" x2="703.2" y2="694" class="tk"/>
<text x="703.2" y="705" class="al" text-anchor="middle">2002</text>
<line x1="799.4" y1="352" x2="799.4" y2="358" class="tk"/>
<text x="799.4" y="367.8" class="al" text-anchor="middle">2004</text>
<line x1="799.4" y1="689" x2="799.4" y2="694" class="tk"/>
<text x="799.4" y="705" class="al" text-anchor="middle">2004</text>
<line x1="895.6" y1="352" x2="895.6" y2="358" class="tk"/>
<text x="895.6" y="367.8" class="al" text-anchor="middle">2006</text>
<line x1="895.6" y1="689" x2="895.6" y2="694" class="tk"/>
<text x="895.6" y="705" class="al" text-anchor="middle">2006</text>
<line x1="991.8" y1="352" x2="991.8" y2="358" class="tk"/>
<text x="991.8" y="367.8" class="al" text-anchor="middle">2008</text>
<line x1="991.8" y1="689" x2="991.8" y2="694" class="tk"/>
<text x="991.8" y="705" class="al" text-anchor="middle">2008</text>
<line x1="1088" y1="352" x2="1088" y2="358" class="tk"/>
<text x="1088" y="367.8" class="al" text-anchor="middle">2010</text>
<line x1="1088" y1="689" x2="1088" y2="694" class="tk"/>
<text x="1088" y="705" class="al" text-anchor="middle">2010</text>
<line x1="1184.2" y1="352" x2="1184.2" y2="358" class="tk"/>
<text x="1184.2" y="367.8" class="al" text-anchor="middle">2012</text>
<line x1="1184.2" y1="689" x2="1184.2" y2="694" class="tk"/>
<text x="1184.2" y="705" class="al" text-anchor="middle">2012</text>
<line x1="1280.4" y1="352" x2="1280.4" y2="358" class="tk"/>
<text x="1280.4" y="367.8" class="al" text-anchor="middle">2014</text>
<line x1="1280.4" y1="689" x2="1280.4" y2="694" class="tk"/>
<text x="1280.4" y="705" class="al" text-anchor="middle">2014</text>
<line x1="1376.6" y1="352" x2="1376.6" y2="358" class="tk"/>
<text x="1376.6" y="367.8" class="al" text-anchor="middle">2016</text>
<line x1="1376.6" y1="689" x2="1376.6" y2="694" class="tk"/>
<text x="1376.6" y="705" class="al" text-anchor="middle">2016</text>
<line x1="1389.5" y1="351.2" x2="1395" y2="351.2" class="tk"/>
<text x="1397.4" y="354.7" class="al">0.0</text>
<line x1="1389.5" y1="340.1" x2="1395" y2="340.1" class="tk"/>
<text x="1397.4" y="343.6" class="al">0.5</text>
<line x1="1389.5" y1="329" x2="1395" y2="329" class="tk"/>
<text x="1397.4" y="332.5" class="al">1.0</text>
<line x1="1389.5" y1="318" x2="1395" y2="318" class="tk"/>
<text x="1397.4" y="321.5" class="al">1.5</text>
<line x1="1389.5" y1="306.9" x2="1395" y2="306.9" class="tk"/>
<text x="1397.4" y="310.4" class="al">2.0</text>
<line x1="1389.5" y1="295.8" x2="1395" y2="295.8" class="tk"/>
<text x="1397.4" y="299.3" class="al">2.5</text>
<line x1="1389.5" y1="284.7" x2="1395" y2="284.7" class="tk"/>
<text x="1397.4" y="288.2" class="al">3.0</text>
<line x1="1389.5" y1="273.6" x2="1395" y2="273.6" class="tk"/>
<text x="1397.4" y="277.1" class="al">3.5</text>
<line x1="1389.5" y1="262.6" x2="1395" y2="262.6" class="tk"/>
<text x="1397.4" y="266.1" class="al">4.0</text>
<line x1="1389.5" y1="251.5" x2="1395" y2="251.5" class="tk"/>
<text x="1397.4" y="255" class="al">4.5</text>
<line x1="1389.5" y1="240.4" x2="1395" y2="240.4" class="tk"/>
<text x="1397.4" y="243.9" class="al">5.0</text>
<line x1="1389.5" y1="229.3" x2="1395" y2="229.3" class="tk"/>
<text x="1397.4" y="232.8" class="al">5.5</text>
<line x1="1397.3" y1="381.6" x2="1402.4" y2="381.6" class="tk"/>
<text x="1405.8" y="384.8" class="al" style="font-size:9px">0</text>
<line x1="1397.3" y1="408.6" x2="1402.4" y2="408.6" class="tk"/>
<text x="1405.8" y="411.8" class="al" style="font-size:9px">10</text>
<line x1="1397.3" y1="435.5" x2="1402.4" y2="435.5" class="tk"/>
<text x="1405.8" y="438.7" class="al" style="font-size:9px">20</text>
<line x1="1397.3" y1="462.5" x2="1402.4" y2="462.5" class="tk"/>
<text x="1405.8" y="465.7" class="al" style="font-size:9px">30</text>
<line x1="1397.3" y1="489.4" x2="1402.4" y2="489.4" class="tk"/>
<text x="1405.8" y="492.6" class="al" style="font-size:9px">40</text>
<line x1="1397.3" y1="516.4" x2="1402.4" y2="516.4" class="tk"/>
<text x="1405.8" y="519.6" class="al" style="font-size:9px">50</text>
<line x1="1397.3" y1="543.4" x2="1402.4" y2="543.4" class="tk"/>
<text x="1405.8" y="546.6" class="al" style="font-size:9px">60</text>
<line x1="1397.3" y1="570.3" x2="1402.4" y2="570.3" class="tk"/>
<text x="1405.8" y="573.5" class="al" style="font-size:9px">70</text>
<path d="M270,308.6 L270.6,307.7 L271.1,303.2 L271.4,280.4 L272,279.3 L272.6,276.6 L273.1,275.9 L273.6,275.4 L274.1,274.3 L274.7,271.1 L275.3,262.9 L275.9,268.1 L276.4,269.8 L276.9,270.5 L277.5,268.3 L278,271.2 L278.5,274.4 L279,277.4 L279.4,277.7 L279.9,274.3 L280.4,282 L281,286.5 L281.5,284.2 L282,278.6 L282.5,277.4 L283,274.8 L283.5,275.7 L284,272.5 L284.5,272.1 L285,273 L285.5,274.8 L286,274.3 L286.5,277.4 L287,281.7 L287.5,283.5 L288,283.9 L288.4,288.8 L288.9,289.2 L289.3,289.5 L289.8,291.1 L290.2,291.7 L290.7,289.8 L291.2,289.9 L291.6,292.6 L292.1,293.3 L292.5,294.6 L293,296.7 L293.4,295.3 L293.9,297.1 L294.4,298.2 L294.9,302.5 L295.4,304.2 L295.9,304.6 L296.4,306.9 L296.9,309.3 L297.4,305.2 L298,303 L298.5,300.2 L298.9,296.8 L299.4,289.9 L299.8,285.2 L300.3,280.4 L300.9,287.3 L301.5,291.1 L302,292.3 L302.5,292.1 L303,291.1 L303.5,294.1 L304,294.5 L304.5,295.6 L305,296 L305.5,295.7 L305.9,297.6 L306.4,297.2 L306.8,295.6 L307.3,294.7 L307.8,297.5 L308.3,298.7 L308.8,299.3 L309.3,299.8 L309.7,300.4 L310.2,300.9 L310.6,302.5 L311.1,299.9 L311.5,298.5 L312,295.5 L312.5,291 L312.9,288.8 L313.4,290 L313.8,288.9 L314.3,291.4 L314.7,292.1 L315.2,292.6 L315.6,293.8 L316.1,294.2 L316.6,294.5 L317,297.1 L317.5,298.7 L317.9,300.7 L318.4,302 L318.8,301.5 L319.3,302.6 L319.8,302.5 L320.2,305.6 L320.7,306.4 L321.1,308.7 L321.6,310.5 L322,310.8 L322.5,305.5 L323,305.1 L323.6,303.2 L324.1,304.2 L324.6,305.9 L325.1,306.3 L325.5,306.3 L326,307.5 L326.4,309.3 L326.9,308.5 L327.4,308.6 L327.9,310.7 L328.4,311.5 L328.9,312.4 L329.4,313.5 L329.9,313.8 L330.4,317.5 L330.9,318.9 L331.4,320.6 L331.9,321.5 L332.4,323.3 L332.9,323.9 L333.4,326 L333.9,324.6 L334.4,321.6 L334.8,317.4 L335.3,313.9 L335.8,316.4 L336.3,314.2 L336.7,316 L337.2,315.4 L337.8,318.4 L338.3,320.4 L338.8,320.9 L339.3,321.6 L339.8,323.1 L340.3,326 L340.7,326 L341.2,328.3 L341.7,329.8 L342.1,328.9 L342.6,329.8 L343,329.3 L343.5,331 L343.9,333.1 L344.4,332.8 L344.8,332.9 L345.3,330.1 L345.8,327.3 L346.2,325.9 L346.7,322.1 L347.1,319.2 L347.6,320.1 L348,320.6 L348.5,320.8 L349,322.2 L349.4,323 L349.9,319.6 L350.4,314.1 L350.9,307 L351.4,309.1 L351.8,309.4 L352.3,309 L352.8,309.1 L353.2,310.1 L353.7,312.7 L354.1,316.4 L354.6,320.2 L355,323 L355.6,322.3 L356.3,324.5 L356.8,323.5 L357.3,323.3 L357.8,321.9 L358.3,325.1 L358.8,324.2 L359.3,324.5 L359.8,323.3 L360.3,323.8 L360.8,323.8 L361.3,323.7 L361.8,323.6 L362.3,325.3 L362.8,325.4 L363.4,323.9 L363.9,325.1 L364.4,324.9 L364.9,325.3 L365.4,326 L365.9,325.3 L366.4,325.4 L366.9,326.7 L367.4,329 L367.9,327.9 L368.4,328.7 L368.9,329.6 L369.4,330.4 L369.9,329.8 L370.4,329.3 L371,327.2 L371.5,327.5 L372,326.1 L372.5,326.6 L373,326 L373.5,326.5 L374,326.9 L374.5,326.1 L375,324.9 L375.5,325.9 L376,328.6 L376.5,327.4 L377,326.6 L377.5,326.8 L378,327.5 L378.5,326.9 L379,327.1 L379.4,329.2 L379.9,329 L380.4,329.6 L380.9,331.1 L381.3,330.6 L381.8,330 L382.3,329.5 L382.8,329.6 L383.3,328.7 L383.7,326.7 L384.2,325.9 L384.7,324.2 L385.2,324.5 L385.7,327.1 L386.2,328.8 L386.7,329.8 L387.2,331.6 L387.7,331.6 L388.2,331 L388.7,329.6 L389.2,331.4 L389.7,331.4 L390.2,330.5 L390.7,330.4 L391.2,331.1 L391.7,331.5 L392.2,330.3 L392.8,329.6 L393.3,329 L393.8,330 L394.3,330.4 L394.8,329.2 L395.3,329 L395.8,329.8 L396.3,329.1 L396.8,328.2 L397.3,330.1 L397.8,329.4 L398.3,329.1 L398.8,326.4 L399.3,327 L399.9,326.8 L400.4,327.6 L400.9,329.4 L401.4,328.6 L401.9,329.1 L402.4,328 L402.9,328.5 L403.4,328.3 L403.9,328.2 L404.4,330.8 L404.9,329.6 L405.4,329.8 L405.9,328.3 L406.4,328.8 L407,327.5 L407.5,329.4 L408,329.8 L408.5,328.8 L409,329.3 L409.5,330 L410,330.9 L410.5,330.7 L411,330.2 L411.5,331.7 L412,332 L412.5,333.8 L413,333.6 L413.5,332 L414,332.9 L414.6,332.3 L415.1,331.2 L415.6,331.9 L416.1,334.6 L416.6,334 L417.1,333.7 L417.6,332.6 L418.1,331.8 L418.5,331.4 L419,332.1 L419.5,332.7 L420,332.9 L420.5,333.5 L421,333.1 L421.5,332.1 L422,331.3 L422.5,332.9 L423,334.2 L423.5,333.3 L424.1,333.3 L424.6,332.1 L425,333.4 L425.5,334.1 L425.9,334.8 L426.4,334.5 L426.8,334.4 L427.4,334.5 L427.9,333.5 L428.4,332.6 L428.9,332.4 L429.4,329.6 L429.9,329.1 L430.4,328.6 L430.9,325.9 L431.4,326 L431.9,323.4 L432.4,322.1 L432.9,320 L433.4,321.1 L433.9,324.2 L434.4,324.5 L435,323.3 L435.5,321.9 L436,320.7 L436.5,321.8 L437,323 L437.5,324 L438,322.2 L438.5,324 L439,325.3 L439.5,322.1 L439.9,319 L440.4,314.8 L440.8,310.1 L441.3,308.6 L441.8,306.8 L442.3,310.3 L442.8,310.9 L443.3,309.8 L443.8,309.3 L444.3,310.8 L444.8,313.3 L445.2,313.6 L445.7,316.7 L446.2,317.7 L446.6,320 L447.1,320.5 L447.6,322.1 L448.1,321.5 L448.6,320.2 L449.2,317.7 L449.7,319.2 L450.2,316.1 L450.7,313.4 L451.2,310 L451.7,306 L452.2,303 L452.7,300.2 L453.2,299 L453.6,298.4 L454.1,298.3 L454.5,296.3 L455,297.1 L455.4,295.6 L455.9,294 L456.3,288 L456.8,287.8 L457.3,286.5 L457.8,283.4 L458.3,279.5 L458.8,276.4 L459.3,273.1 L459.8,270.3 L460.3,268.3 L460.8,284.4 L461.3,297.6 L461.8,310.8 L462.3,311 L462.7,307.8 L463.2,308.3 L463.7,306.3 L464.1,306.3 L464.6,302.9 L465.1,302.2 L465.6,300.2 L466.1,300.2 L466.6,302.2 L467.1,304.8 L467.7,305.3 L468.2,304.3 L468.7,306.3 L469.1,303.2 L469.6,301.2 L470,297.6 L470.5,294.9 L471,291.8 L471.5,289.1 L472,289.8 L472.5,288.4 L473,288.3 L473.5,287.3 L474,288 L474.5,286.5 L475,284.8 L475.5,285.3 L476,283.6 L476.5,281.6 L477,280.4 L477.6,279.8 L478.1,275.6 L478.6,275.3 L479.1,270.8 L479.6,267.5 L480.1,273.9 L480.6,279.2 L481.1,283.1 L481.6,290.8 L482.1,295.6 L482.5,291.7 L483,286.8 L483.4,283.3 L483.9,280.4 L484.3,279.2 L484.8,273.7 L485.2,269.8 L485.7,268.3 L486.2,273.5 L486.7,275.8 L487.2,281.8 L487.7,288 L488.1,283.9 L488.6,282.8 L489,284.2 L489.5,282 L490,280.4 L490.5,283.2 L491,287.3 L491.5,286.5 L492,288.4 L492.5,294.4 L493,298.7 L493.5,297.7 L494,296.7 L494.5,297.8 L495,297.8 L495.5,298.7 L496,297.1 L496.5,300.5 L497,302.4 L497.4,303.4 L497.9,306.8 L498.3,309.3 L498.8,306.3 L499.3,302.5 L499.8,300.3 L500.4,297.3 L500.9,292.4 L501.4,289.5 L501.9,286 L502.5,283.7 L503,282.8 L503.6,283.6 L504.1,281.9 L504.6,283.3 L505.1,286.3 L505.7,290.4 L506.2,293.1 L506.7,294.1 L507.2,294 L507.7,296.9 L508.2,299 L508.7,298.6 L509.2,298.9 L509.7,301.7 L510.2,299.7 L510.6,299 L511.1,295.6 L511.6,295.2 L512,294.9 L512.5,294.5 L512.9,298.5 L513.4,299.1 L513.8,299.1 L514.3,300.2 L514.8,300 L515.2,298.9 L515.7,297 L516.1,297.2 L516.6,296.4 L517.1,295.9 L517.5,297.7 L518,300.3 L518.5,300.6 L519,302.4 L519.4,302 L519.9,304.7 L520.4,304.8 L520.9,302 L521.4,300.6 L521.9,298 L522.4,296 L522.9,295.8 L523.4,294.1 L523.9,296.4 L524.4,297.5 L524.9,297 L525.4,300.5 L526,302.5 L526.5,303.2 L527,302.4 L527.5,301.7 L528,300.9 L528.5,297.8 L529,297.1 L529.5,295.6 L530,297.1 L530.5,296.8 L531,298 L531.5,299 L532,299.6 L532.5,300.2 L533.1,302.1 L533.6,302.3 L534.1,302.2 L534.6,303.7 L535.1,304.6 L535.6,306.3 L536.1,305.6 L536.6,306.8 L537.1,306.1 L537.6,305.3 L538.1,306 L538.6,307 L539.1,307.8 L539.6,309.1 L540.2,311.4 L540.7,312.4 L541.2,314.8 L541.7,316.9 L542.2,315.7 L542.7,314.5 L543.2,313.5 L543.7,312.3 L544.2,311.5 L544.7,312.4 L545.2,311.3 L545.7,312.7 L546.1,312.3 L546.6,310.5 L547.1,314 L547.6,311.7 L548,312.8 L548.5,312.4 L549,312.1 L549.5,312.3 L550,309.4 L550.5,306.5 L551.1,305.3 L551.6,303.2 L552,303.8 L552.5,302.8 L552.9,305.8 L553.4,307.5 L553.8,307.8 L554.3,309.2 L554.8,309.7 L555.2,310.2 L555.7,312.4 L556.1,310.8 L556.6,310.5 L557.1,310.3 L557.6,311.5 L558.1,311.5 L558.7,309.9 L559.2,310.8 L559.7,312.5 L560.2,314.2 L560.7,315.3 L561.2,317.1 L561.7,316.8 L562.2,318.1 L562.7,319.9 L563.2,321.3 L563.7,322.2 L564.2,321.1 L564.7,319 L565.2,317 L565.6,319.5 L566.1,319.8 L566.6,318.7 L567.1,317.3 L567.5,316.2 L568,315.6 L568.5,314.2 L569,313.9 L569.6,314.2 L570.1,314.2 L570.6,314.7 L571.1,315.5 L571.6,314.7 L572.1,313.9 L572.5,314.2 L573,314.4 L573.5,312.5 L573.9,313.4 L574.4,314.6 L575,320 L575.5,321.1 L575.9,322.9 L576.4,322.5 L576.8,324.9 L577.3,325.3 L577.8,322.8 L578.3,322.3 L578.8,323.6 L579.3,321.7 L579.8,320 L580.3,320 L580.8,319.9 L581.3,320.7 L581.7,319.9 L582.2,317.8 L582.7,320.8 L583.2,319.6 L583.7,318.7 L584.1,318.4 L584.6,317.4 L585.1,317.9 L585.6,316 L586.2,315.5 L586.7,315 L587.2,313.9 L587.7,313.8 L588.2,313.4 L588.7,313.3 L589.2,312.9 L589.7,313.6 L590.2,314.5 L590.7,315.2 L591.2,316 L591.7,315.4 L592.3,314.5 L592.8,311.8 L593.4,310.5 L593.9,310.7 L594.5,310.1 L595,311.3 L595.5,311.7 L596,313.9 L596.5,316.1 L597.1,316.9 L597.6,317.6 L598.1,315.8 L598.6,318.2 L599.1,316.1 L599.6,318.3 L600.1,317.4 L600.6,318.5 L601.1,316.9 L601.6,316.9 L602.1,317.2 L602.6,317.7 L603,317.3 L603.5,316.5 L604,314.4 L604.5,314.1 L604.9,315.2 L605.4,313.9 L605.9,313.1 L606.3,315.7 L606.8,314.4 L607.2,314.5 L607.7,314.6 L608.2,314.6 L608.6,315.2 L609.1,317.7 L609.5,315.8 L610,316.9 L610.5,316.2 L610.9,317.7 L611.4,318.5 L611.9,318.8 L612.4,319.5 L612.8,321.2 L613.3,320.1 L613.8,319.2 L614.2,318.1 L614.7,317.4 L615.2,316.6 L615.6,315.7 L616.1,313.9 L616.5,311.2 L617,308.4 L617.4,304.6 L617.9,299.6 L618.3,294.1 L618.9,295.5 L619.4,293.8 L619.9,291.1 L620.4,290 L620.9,286.6 L621.3,282.7 L621.8,281.2 L622.3,281.6 L622.8,280.5 L623.2,282.4 L623.7,283.5 L624.2,287.3 L624.7,293.4 L625.2,299.4 L625.6,295.9 L626.1,292.7 L626.6,292.9 L627,289.7 L627.5,286.5 L628,285 L628.5,283.5 L629,285 L629.5,286.1 L630,288.9 L630.5,291.9 L631,296.3 L631.5,297.8 L632,299.4 L632.5,298.9 L632.9,296 L633.4,293.9 L633.9,293.4 L634.3,293.3 L634.8,291.3 L635.3,292.6 L635.8,294.1 L636.3,292.3 L636.9,292.7 L637.4,291.1 L637.9,290.8 L638.4,291.7 L638.9,285.8 L639.4,285.1 L639.9,285.5 L640.4,283.5 L640.9,282.8 L641.3,282.8 L641.8,283.3 L642.2,282.1 L642.7,281.9 L643.2,279.4 L643.7,277.1 L644.2,274.8 L644.7,273.6 L645.1,277.7 L645.6,281 L646,281.3 L646.5,281.9 L647,280.5 L647.4,279.4 L647.9,279.5 L648.4,278.4 L648.9,276.9 L649.4,274.8 L649.8,272.8 L650.4,275.9 L651,278.9 L651.5,278.8 L652,279.5 L652.4,277 L652.9,277.8 L653.3,276.6 L653.8,282.6 L654.3,285.3 L654.8,289.5 L655.3,290.9 L655.8,292.5 L656.2,290.7 L656.7,289.6 L657.1,290.3 L657.6,289.9 L658,288.6 L658.5,287.2 L659,286.3 L659.4,286.5 L659.9,288.8 L660.4,293.9 L660.9,296.2 L661.4,298.6 L661.9,302.5 L662.5,305.5 L662.9,303.3 L663.4,300.2 L663.8,301.9 L664.3,299.1 L664.7,297.9 L665.2,297 L665.7,295.9 L666.3,298.5 L666.8,298.6 L667.3,299.8 L667.8,298.7 L668.2,299.3 L668.7,299.9 L669.1,298.8 L669.6,296.3 L670.1,296.4 L670.5,295 L671,292.7 L671.4,291.1 L671.9,287.7 L672.3,286.5 L672.8,281.9 L673.3,281 L673.7,276.3 L674.2,272.5 L674.6,271.3 L675.1,274.5 L675.6,278.2 L676.1,281.9 L676.6,281.3 L677.1,282 L677.5,279.5 L678,279.5 L678.4,279.7 L678.9,281.4 L679.4,281.7 L679.9,278.7 L680.4,279.2 L681,281.5 L681.5,281.9 L681.9,284.4 L682.4,285.4 L682.8,288.7 L683.3,290.1 L683.7,292.6 L684.2,289.7 L684.7,288 L685.1,286.6 L685.6,284.6 L686,281.9 L686.5,282.6 L687,281.1 L687.5,281.9 L688,284.5 L688.5,286.9 L688.9,289.2 L689.4,290.6 L689.8,292.6 L690.3,292.9 L690.7,294.1 L691.2,296 L691.7,297 L692.1,298.7 L692.6,300.3 L693,301.3 L693.5,304.4 L693.9,304.3 L694.4,305.5 L694.9,305.6 L695.4,305.4 L695.9,305.7 L696.4,306.1 L696.9,304.4 L697.4,304 L697.9,303.5 L698.3,303.7 L698.8,299.6 L699.3,301.2 L699.7,298.7 L700.2,302.5 L700.7,302.2 L701.2,303 L701.7,305.6 L702.2,307.5 L702.8,309.3 L703.2,311.4 L703.7,311.8 L704.1,312.7 L704.6,315 L705,316.9 L705.6,324.5 L706.1,328.3 L706.7,328 L707.2,327.5 L707.7,322.9 L708.3,322.6 L708.8,320 L709.3,321 L709.8,320.8 L710.2,321.5 L710.7,318.6 L711.1,318.4 L711.6,315 L712.1,312.7 L712.6,310.2 L713.1,307 L713.7,303.7 L714.2,300.2 L714.7,301.7 L715.2,301.3 L715.7,301.9 L716.2,301.4 L716.7,304.3 L717.2,304.8 L717.7,305 L718.2,304.9 L718.7,303.4 L719.2,301.3 L719.7,300.7 L720.2,301 L720.8,302.7 L721.3,304.1 L721.8,306.4 L722.3,308.9 L722.8,310 L723.3,310.8 L723.8,308.9 L724.3,307.3 L724.8,306.9 L725.3,304.6 L725.8,302.8 L726.3,301 L726.8,301.5 L727.3,301.7 L727.8,302.6 L728.2,299.6 L728.7,300.4 L729.2,300.6 L729.7,301.5 L730.1,303.2 L730.7,303.6 L731.2,304.2 L731.7,305.2 L732.3,304 L732.7,305.5 L733.2,303.9 L733.7,305.8 L734.1,305.5 L734.6,304.8 L735,304.8 L735.5,305.5 L735.9,306 L736.4,308.1 L736.8,308.6 L737.4,308.3 L737.9,310.7 L738.4,309.8 L738.9,311 L739.4,314.5 L739.9,314.6 L740.3,313 L740.8,310.2 L741.3,310.2 L741.7,308.3 L742.2,309.3 L742.6,310.3 L743.1,310.4 L743.5,309.4 L744,308.3 L744.4,310.1 L744.9,311.4 L745.4,315.6 L745.8,316.1 L746.3,319 L746.7,322.2 L747.2,321.9 L747.7,320.3 L748.3,321.3 L748.8,318.8 L749.3,317.9 L749.8,316.2 L750.3,315.6 L750.8,314.6 L751.3,312.9 L751.8,314.3 L752.3,315.3 L752.8,313.9 L753.3,314 L753.8,312.9 L754.3,312.2 L754.8,313.2 L755.3,310.6 L755.9,312.2 L756.4,312.3 L756.9,311.9 L757.4,310.8 L757.9,311.9 L758.4,313.4 L758.9,313.3 L759.4,312.4 L759.9,314.5 L760.4,315.1 L760.9,315.3 L761.4,316.5 L761.9,316.9 L762.4,316.9 L763,314.2 L763.5,316 L764,314.5 L764.5,313 L765,312.4 L765.5,313.8 L765.9,312.9 L766.4,315.9 L766.9,317.2 L767.4,317.1 L767.8,316.9 L768.3,316.9 L768.8,317.7 L769.3,317 L769.7,316.9 L770.2,316.3 L770.7,315.9 L771.2,315.7 L771.6,314.8 L772.1,314.7 L772.6,315.4 L773.1,315.2 L773.6,316 L774.1,315.1 L774.6,315.4 L775.1,316.1 L775.6,317.7 L776.1,315.9 L776.6,315.4 L777.1,315.5 L777.7,315.3 L778.2,315.3 L778.7,314.6 L779.2,314.5 L779.7,316 L780.2,316.7 L780.7,315 L781.2,315.7 L781.7,317.7 L782.2,317.9 L782.7,319.8 L783.2,320 L783.7,317.7 L784.2,317.5 L784.8,316.3 L785.3,314.6 L785.8,316.4 L786.3,316.2 L786.7,317.4 L787.2,316.6 L787.7,316 L788.2,315.7 L788.7,315 L789.1,316.1 L789.6,316 L790.1,316.2 L790.5,317.6 L791,320.6 L791.4,322.5 L791.9,322.9 L792.4,324.5 L792.9,324.6 L793.4,325.9 L793.9,325.7 L794.4,324.5 L794.9,324 L795.4,323 L795.9,324.7 L796.3,326 L796.8,326.3 L797.3,324.9 L797.8,326.9 L798.3,326.8 L798.7,328.8 L799.2,329.1 L799.7,328.3 L800.2,329 L800.6,327.1 L801.1,326.8 L801.6,327.3 L802.1,327.9 L802.5,327 L803,327.6 L803.5,326.5 L803.9,324.8 L804.4,321.6 L804.8,320.8 L805.3,320 L805.7,320.6 L806.2,319.5 L806.7,322.1 L807.1,323.7 L807.6,323 L808,320.5 L808.5,320.3 L808.9,317.7 L809.4,319 L809.8,316.9 L810.4,317.1 L810.9,316.9 L811.4,318.5 L811.9,319.6 L812.4,317.3 L812.9,319.2 L813.3,319.2 L813.8,321.4 L814.3,320.8 L814.7,322.4 L815.2,322.2 L815.7,321.8 L816.2,322.2 L816.7,320.6 L817.2,321.9 L817.7,321.4 L818.2,320.7 L818.7,321 L819.2,320.2 L819.7,318 L820.2,317.1 L820.7,317.4 L821.3,317.7 L821.7,317.7 L822.2,322.7 L822.6,320.1 L823.1,321.1 L823.5,322.2 L824,321.4 L824.5,321.1 L825,321.9 L825.4,321.2 L825.9,323 L826.4,322.3 L826.9,322.7 L827.3,323.8 L827.8,324.2 L828.4,325.7 L828.9,323.7 L829.4,328.1 L829.9,327.9 L830.4,326 L830.8,326.7 L831.3,328.9 L831.7,329.9 L832.2,328 L832.7,327.6 L833.1,326.4 L833.6,327.7 L834,326.5 L834.5,324.6 L834.9,321.5 L835.4,320 L836,319.2 L836.5,319.2 L837,320.2 L837.5,320.9 L838,320.7 L838.5,321.3 L839,321.5 L839.4,321.3 L839.9,319.9 L840.4,320.5 L840.9,320.5 L841.4,323.6 L841.9,323.1 L842.3,322.3 L842.8,320.6 L843.3,321.5 L843.8,324.5 L844.2,325.5 L844.7,326.9 L845.1,327.8 L845.6,329.1 L846.1,330.7 L846.6,329.2 L847.1,331.6 L847.6,332.7 L848.1,333.6 L848.6,332.9 L849.1,335.4 L849.6,336.6 L850.2,336.4 L850.7,338.7 L851.2,337.8 L851.7,337.5 L852.2,337.3 L852.7,337.7 L853.2,336.4 L853.7,336.9 L854.2,335.2 L854.7,335.2 L855.2,335.4 L855.7,335 L856.2,337 L856.7,334.8 L857.2,336.2 L857.8,335.9 L858.3,334.2 L858.8,335.6 L859.3,337.6 L859.8,337.7 L860.3,339.8 L860.8,339 L861.3,341 L861.7,341.7 L862.2,338.2 L862.7,339.2 L863.2,338.8 L863.7,341.1 L864.1,341.3 L864.6,342.8 L865.1,341.9 L865.6,342.1 L866,339.6 L866.5,340.4 L867,340.4 L867.5,341.9 L867.9,340.6 L868.4,339.7 L868.9,339.2 L869.4,340.5 L869.8,341.1 L870.3,340.2 L870.8,338.8 L871.3,339.1 L871.7,340.2 L872.2,342 L872.7,341.8 L873.2,343.4 L873.6,342.6 L874.1,344.2 L874.6,343.2 L875.1,342.4 L875.5,342.5 L876,342 L876.5,342.7 L877,342.4 L877.4,341.3 L877.9,340.3 L878.4,341.2 L878.9,339.8 L879.3,339.6 L879.8,339.7 L880.3,337.5 L880.7,338.3 L881.2,338.1 L881.6,337.2 L882.1,335.9 L882.5,335.4 L883,335.7 L883.4,334.9 L883.9,337.2 L884.4,336.1 L884.8,337 L885.3,336.5 L885.8,336.8 L886.3,337 L886.8,336.9 L887.3,337.9 L887.7,339.2 L888.2,338 L888.7,336.2 L889.2,336.7 L889.7,336.2 L890.2,336.6 L890.7,336.5 L891.1,337.1 L891.6,336.3 L892.1,337.2 L892.6,337.3 L893.1,338 L893.6,336.3 L894,337.1 L894.5,338.3 L895,337.1 L895.5,337.2 L896,337.6 L896.5,338.1 L897,336.6 L897.6,335 L898.1,335.8 L898.6,335.7 L899.1,335.8 L899.6,337 L900.1,338.1 L900.7,337.1 L901.2,337.1 L901.7,337.2 L902.2,337.1 L902.7,337.2 L903.2,336.2 L903.8,336.6 L904.3,337.2 L904.8,336.8 L905.3,337.7 L905.8,336.4 L906.3,338.1 L906.9,336.2 L907.4,336.1 L907.9,337.1 L908.4,337.9 L908.9,335.9 L909.4,337.6 L910,336.7 L910.5,336 L911,336.8 L911.5,335.8 L912,335.4 L912.4,336 L912.9,336.4 L913.4,335.6 L913.9,334.4 L914.4,334.2 L914.9,334.8 L915.4,334.9 L915.8,334.5 L916.3,336.3 L916.8,336.2 L917.3,335.7 L917.8,334.4 L918.3,333.4 L918.7,333.7 L919.2,332.6 L919.7,330.8 L920.2,330.5 L920.7,330.4 L921.2,331.4 L921.6,331.1 L922.1,330.9 L922.6,330.4 L923.1,332.2 L923.6,333.2 L924.1,332.1 L924.6,333.4 L925,334.3 L925.5,335.3 L926,335.6 L926.5,334.8 L927,335.1 L927.5,334.1 L927.9,335.5 L928.4,333.8 L928.9,334.5 L929.4,332.9 L929.9,333.4 L930.4,332.3 L930.8,332.1 L931.3,330.7 L931.8,329.3 L932.3,333 L932.8,331.6 L933.3,331 L933.8,329.8 L934.2,330.4 L934.7,331.4 L935.2,331.4 L935.7,331.3 L936.2,329.4 L936.7,330.9 L937.1,332.9 L937.6,333.1 L938.1,333.3 L938.6,333.9 L939.1,333.3 L939.6,333.4 L940,332.6 L940.5,333.1 L941,333.4 L941.5,332.3 L942,331.3 L942.5,333.4 L943,332.7 L943.4,332.7 L943.9,332.3 L944.4,332.3 L944.9,332.4 L945.4,330.9 L945.9,331.9 L946.3,331.2 L946.8,331.4 L947.4,328.5 L947.9,328.3 L948.4,328.1 L948.9,327.9 L949.4,327.7 L949.9,327.5 L950.4,327.3 L950.9,327.1 L951.4,327 L951.9,326.8 L952.4,326.6 L952.9,326.4 L953.4,326.2 L953.9,326 L954.4,325.8 L954.9,325.6 L955.4,325.4 L955.9,325.2 L956.4,325.1 L956.9,324.9 L957.4,324.7 L957.9,324.5 L958.4,324.3 L958.9,324.1 L959.4,323.9 L959.9,323.7 L960.4,323.5 L960.9,323.3 L961.4,323.2 L961.9,323 L962.4,322.8 L962.9,322.6 L963.4,322.4 L963.9,322.2 L964.4,322 L964.9,321.8 L965.4,321.6 L965.9,321.5 L966.4,321.3 L966.9,321.1 L967.4,320.9 L967.9,320.7 L968.4,320.5 L968.9,320.3 L969.4,320.1 L969.9,319.9 L970.4,319.7 L970.9,319.6 L971.4,319.4 L971.9,319.2 L972.4,319 L972.9,318.8 L973.4,318.6 L973.9,318.4 L974.4,318.2 L974.9,318 L975.4,317.8 L975.9,317.7 L976.4,317.5 L976.9,317.3 L977.4,317.1 L977.9,316.9 L978.4,316.7 L978.9,316.5 L979.4,316.3 L979.9,316.1 L980.4,315.9 L980.9,315.8 L981.4,315.6 L981.9,315.4 L982.4,315.2 L982.9,315 L983.4,314.8 L983.9,314.6 L984.4,314.4 L984.9,314.2 L985.4,314 L985.9,313.9 L986.4,313.7 L986.9,313.5 L987.4,313.3 L987.9,313.1 L988.4,312.9 L988.9,312.7 L989.4,312.5 L989.9,312.3 L990.4,312.1 L990.9,312 L991.4,311.8 L991.9,311.6 L992.4,311.4 L992.9,311.2 L993.4,311 L993.9,310.8 L994.4,310.6 L994.9,310.4 L995.4,310.2 L995.9,310.1 L996.4,309.9 L996.9,309.7 L997.4,309.5 L997.9,309.3 L998.4,309.1 L998.9,308.9 L999.4,308.7 L999.9,308.5 L1000.4,308.4 L1000.9,308.2 L1001.4,308 L1001.9,307.8 L1002.4,307.6 L1002.9,307.4 L1003.4,307.2 L1003.9,307 L1004.4,306.8 L1004.9,306.6 L1005.4,306.5 L1005.9,306.3 L1006.4,306.1 L1006.9,305.9 L1007.4,305.7 L1007.9,305.5 L1008.4,305.3 L1008.9,305.1 L1009.4,304.9 L1009.9,304.7 L1010.4,304.6 L1010.9,304.4 L1011.4,304.2 L1011.9,304 L1012.4,303.8 L1012.9,303.6 L1013.4,303.4 L1013.9,303.2 L1014.4,303 L1014.9,302.8 L1015.4,302.7 L1015.9,302.5 L1016.4,302.3 L1016.9,302.1 L1017.4,301.9 L1017.9,301.7 L1018.4,301.5 L1018.9,301.3 L1019.4,301.1 L1019.9,300.9 L1020.4,300.8 L1020.9,300.6 L1021.4,300.4 L1021.9,300.2 L1022.4,300 L1022.9,299.8 L1023.4,299.6 L1023.9,299.4 L1024.4,299.2 L1024.9,299 L1025.4,298.9 L1025.9,298.7 L1026.4,298.5 L1026.9,298.3 L1027.4,298.1 L1027.9,297.9 L1028.4,297.7 L1028.9,297.5 L1029.4,297.3 L1029.9,297.2 L1030.4,297 L1030.9,296.8 L1031.4,296.6 L1031.9,296.4 L1032.4,296.2 L1032.9,296 L1033.4,295.8 L1033.9,295.6 L1034.4,295.4 L1034.9,295.3 L1035.4,295.1 L1035.9,294.9 L1036.4,294.7 L1036.9,294.5 L1037.4,294.3 L1037.9,294.1 L1038.4,293.9 L1038.9,293.7 L1039.4,293.5 L1039.9,293.4 L1040.4,293.2 L1040.9,293 L1041.4,292.8 L1041.9,292.6 L1042.4,292.4 L1042.9,292.2 L1043.4,292 L1043.9,291.8 L1044.4,291.6 L1044.9,291.5 L1045.4,291.3 L1045.9,291.1 L1046.4,290.9 L1046.9,290.7 L1047.4,290.5 L1047.9,290.3 L1048.4,290.1 L1048.9,289.9 L1049.4,289.7 L1049.9,289.6 L1050.4,289.4 L1050.9,289.2 L1051.4,289 L1051.9,288.8 L1052.4,288.6 L1052.9,288.4 L1053.4,288.2 L1053.9,288 L1054.4,287.8 L1054.9,287.7 L1055.4,287.5 L1055.9,287.3 L1056.4,287.1 L1056.9,286.9 L1057.4,286.7 L1057.9,286.5 L1058.4,286.3 L1058.9,286.1 L1059.4,285.9 L1059.9,285.8 L1060.4,285.6 L1060.9,285.4 L1061.4,285.2 L1061.9,285 L1062.4,284.8 L1062.9,284.6 L1063.4,284.4 L1063.9,284.2 L1064.4,284.1 L1064.9,283.9 L1065.4,283.7 L1065.9,283.5 L1066.4,283.3 L1066.9,283.1 L1067.4,282.9 L1067.9,282.7 L1068.4,282.5 L1068.9,282.3 L1069.4,282.2 L1069.9,282 L1070.4,281.8 L1070.9,281.6 L1071.4,281.4 L1071.9,281.2 L1072.4,281 L1072.9,280.8 L1073.4,280.6 L1073.9,280.4 L1074.4,280.3 L1074.9,280.1 L1075.4,279.9 L1075.9,279.7 L1076.4,279.5 L1076.9,279.3 L1077.4,279.1 L1077.9,278.9 L1078.4,278.7 L1078.9,278.5 L1079.4,278.4 L1079.9,278.2 L1080.4,278 L1080.9,277.8 L1081.4,277.6 L1081.9,277.4 L1082.4,277.2 L1082.9,277 L1083.4,276.8 L1083.9,276.6 L1084.4,276.5 L1084.9,276.3 L1085.4,276.1 L1085.9,275.9 L1086.4,275.7 L1086.9,275.5 L1087.4,275.3 L1087.9,275.1 L1088.4,274.9 L1088.9,274.7 L1089.4,274.6 L1089.9,274.4 L1090.4,274.2 L1090.9,274 L1091.4,273.8 L1091.9,273.6 L1092.4,273.4 L1092.9,273.2 L1093.4,273 L1093.9,272.9 L1094.4,272.7 L1094.9,272.5 L1095.4,272.3 L1095.9,272.1 L1096.4,271.9 L1096.9,271.7 L1097.4,271.5 L1097.9,271.3 L1098.4,272.2 L1098.9,268.4 L1099.4,267.5 L1099.9,268.4 L1100.3,269.7 L1100.8,270.9 L1101.3,273.9 L1101.8,274.5 L1102.3,271.8 L1102.8,272.3 L1103.2,275 L1103.7,277.2 L1104.2,280.5 L1104.7,283.9 L1105.2,287.3 L1105.7,285.8 L1106.2,287.9 L1106.6,287.8 L1107.1,294.8 L1107.6,297.5 L1107.7,298.4 L1108.2,296.2 L1108.7,292.9 L1109.2,289.7 L1109.7,286.8 L1110.2,288.1 L1110.6,291.9 L1111.1,293.5 L1111.6,295.5 L1112.1,298.8 L1112.6,298.7 L1113.1,299.8 L1113.5,299.4 L1114,297.8 L1114.5,298 L1115,299.8 L1115.5,297.8 L1116,298.7 L1116.5,297.4 L1116.9,295.7 L1117.4,293.2 L1117.9,292 L1118.4,289.9 L1118.9,286.4 L1119.4,285.8 L1119.8,286.2 L1120.3,285 L1120.8,280.9 L1121.3,279.6 L1121.8,279.8 L1122.3,279 L1122.7,278.4 L1123.2,279.3 L1123.7,280.5 L1124.2,283.9 L1124.7,285.6 L1125.2,283.6 L1125.6,280.8 L1126.1,281 L1126.6,281.8 L1127.1,284.4 L1127.6,285.5 L1128.1,285.8 L1128.5,287.4 L1129,289.7 L1129.5,289.4 L1130,289.5 L1130.5,287.8 L1131,290 L1131.5,291.1 L1131.9,292.3 L1132.4,293.8 L1132.9,293.5 L1133.4,296.5 L1133.9,295.2 L1134.4,297.2 L1134.8,298.5 L1135.3,300.4 L1135.8,301.3 L1136.3,299 L1136.8,298 L1137.3,299.7 L1137.7,295.4 L1138.2,296.5 L1138.7,295.5 L1139.2,296.8 L1139.7,297.6 L1140.2,301.4 L1140.6,300.3 L1141.1,300.5 L1141.6,301 L1142.1,299.5 L1142.6,296.6 L1143.1,294.1 L1143.5,294.5 L1144,293.8 L1144.5,293.2 L1145,292.7 L1145.5,294.7 L1146,293.2 L1146.5,291.3 L1146.9,291.7 L1147.4,290.6 L1147.9,290.4 L1148.4,289.8 L1148.9,289.4 L1149.4,288.1 L1149.8,286.6 L1150.3,285.8 L1150.8,289.4 L1151.3,293.6 L1151.8,293.9 L1152.3,295.5 L1152.7,296 L1153.2,295.4 L1153.7,297.4 L1154.2,298.3 L1154.7,298.5 L1155.2,299.4 L1155.6,300.9 L1156.1,299.4 L1156.6,303.5 L1157.1,302.8 L1157.6,301.7 L1158.1,302.3 L1158.5,302.5 L1159,300.3 L1159.5,302.3 L1160,300.1 L1160.5,299.8 L1161,298.3 L1161.5,298.7 L1161.9,297.4 L1162.4,299.5 L1162.9,300 L1163.4,299.2 L1163.9,299.8 L1164.4,298.6 L1164.8,300 L1165.3,302.2 L1165.8,303.2 L1166.3,301.1 L1166.8,300.6 L1167.3,301.1 L1167.7,298.5 L1168.2,297.4 L1168.7,297.4 L1169.2,296.8 L1169.7,296.4 L1170.2,297.8 L1170.6,296.8 L1171.1,296 L1171.6,296.5 L1172.1,297.1 L1172.6,300.2 L1173.1,299.6 L1173.5,301 L1174,303.2 L1174.5,305.2 L1175,304.5 L1175.5,303.1 L1176,304.8 L1176.5,307.6 L1176.9,307.2 L1177.4,306.1 L1177.9,307.6 L1178.4,309.5 L1178.9,310.3 L1179.4,311.9 L1179.8,312.4 L1180.3,314.8 L1180.8,316.9 L1181.3,319.1 L1181.8,320.1 L1182.3,319.3 L1182.7,322.1 L1183.2,324.5 L1183.7,322.7 L1184.2,324.3 L1184.7,323.4 L1185.2,324.2 L1185.6,322.2 L1186.1,322.8 L1186.6,322.3 L1187.1,321.6 L1187.6,320.1 L1188.1,319.2 L1188.5,319.4 L1189,319.4 L1189.5,318.7 L1190,317 L1190.5,317.2 L1191,316.8 L1191.5,316.2 L1191.9,315 L1192.4,315.6 L1192.9,315.8 L1193.4,315.8 L1193.9,314.9 L1194.4,314.6 L1194.8,314.8 L1195.3,316.9 L1195.8,317.9 L1196.3,315.6 L1196.8,316.6 L1197.3,317.8 L1197.7,318.7 L1198.2,320.4 L1198.7,321.3 L1199.2,320.1 L1199.7,321.7 L1200.2,322.3 L1200.6,323.5 L1201.1,323.3 L1201.6,322.9 L1202.1,322.3 L1202.6,321 L1203.1,319.9 L1203.5,318.1 L1204,318.2 L1204.5,318.4 L1205,317.1 L1205.5,315.8 L1206,315.7 L1206.5,314.7 L1206.9,315.3 L1207.4,315.4 L1207.9,315 L1208.4,314.8 L1208.9,315.1 L1209.4,316.8 L1209.8,317.1 L1210.3,319.1 L1210.8,318.4 L1211.3,318.8 L1211.8,320.4 L1212.3,319.3 L1212.7,320.9 L1213.2,321.6 L1213.7,321.6 L1214.2,318.6 L1214.7,317.9 L1215.2,318.8 L1215.6,318.2 L1216.1,317.7 L1216.6,317.8 L1217.1,316.3 L1217.6,317 L1218.1,315.7 L1218.5,316 L1219,316.7 L1219.5,315.3 L1220,316.7 L1220.5,316.8 L1221,316.8 L1221.4,312.3 L1221.9,310.8 L1222.3,307.1 L1222.8,304.5 L1223.3,303.9 L1223.8,301.9 L1224.3,300.2 L1224.8,298.4 L1225.3,303 L1225.8,305.2 L1226.3,305.2 L1226.8,305.2 L1227.3,305.2 L1227.8,305.2 L1228.3,305.3 L1228.8,305.3 L1229.3,305.3 L1229.8,305.3 L1230.3,305.3 L1230.8,305.3 L1231.3,305.4 L1231.8,305.4 L1232.3,305.4 L1232.8,305.4 L1233.3,305.4 L1233.8,305.4 L1234.3,305.5 L1234.8,305.5 L1235.3,305.5 L1235.8,305.5 L1236.3,305.5 L1236.8,305.6 L1237.3,305.6 L1237.8,305.6 L1238.4,305.6 L1238.9,305.6 L1239.4,305.6 L1239.9,305.7 L1240.4,305.7 L1240.9,305.7 L1241.4,305.7 L1241.9,305.7 L1242.4,305.8 L1242.9,305.8 L1243.4,305.8 L1243.9,305.8 L1244.4,305.8 L1244.9,305.8 L1245.4,305.9 L1245.9,305.9 L1246.4,305.9 L1246.9,305.9 L1247.4,305.9 L1247.9,305.9 L1248.4,306 L1248.9,306 L1249.4,306 L1249.9,306 L1250.4,306 L1250.9,306.1 L1251.4,306.1 L1251.9,306.1 L1252.4,306.1 L1252.9,306.1 L1253.4,306.1 L1253.9,306.2 L1254.4,306.2 L1254.9,306.2 L1255.4,306.2 L1255.9,306.2 L1256.4,306.3 L1256.9,306.3 L1257.4,306.3 L1257.9,306.3 L1258.4,306.3 L1258.9,306.3 L1259.4,306.4 L1259.9,306.4 L1260.4,306.4 L1260.9,306.4 L1261.4,306.4 L1261.9,306.5 L1262.4,306.5 L1262.9,306.5 L1263.4,306.5 L1263.9,306.5 L1264.4,306.5 L1264.9,306.6 L1265.4,306.6 L1265.9,306.6 L1266.5,306.6 L1267,306.6 L1267.5,306.6 L1268,306.7 L1268.5,306.7 L1269,306.7 L1269.5,306.7 L1270,306.7 L1270.5,306.8 L1271,306.8 L1271.5,306.8 L1272,306.8 L1272.5,306.8 L1273,306.8 L1273.5,306.9 L1274,306.9 L1274.5,306.9 L1275,306.9 L1275.5,306.9 L1276,307 L1276.5,307 L1277,307 L1277.5,307 L1278,307 L1278.5,307 L1279,307.1 L1279.5,307.1 L1280,307.1 L1280.6,306.8 L1281.1,301.4 L1281.7,294.7 L1282.2,289.7 L1282.7,290 L1283.1,290.5 L1283.6,290.4 L1284.1,290.9 L1284.6,293.5 L1285,293.1 L1285.5,293 L1286,292.6 L1286.5,293.8 L1286.9,295 L1287.4,295.2 L1287.9,297.1 L1288.4,298.3 L1288.8,299.7 L1289.4,296 L1289.9,294.3 L1290.5,289.3 L1291,288.6 L1291.5,288.8 L1292,288.4 L1292.5,286.2 L1292.9,286.6 L1293.4,285.7 L1293.9,286.5 L1294.4,286.4 L1294.8,288.1 L1295.3,288.6 L1295.8,289.2 L1296.3,290.8 L1296.7,290.7 L1297.2,290.7 L1297.7,291.9 L1298.2,292.2 L1298.7,293.7 L1299.2,294.5 L1299.7,291.1 L1300.1,292.6 L1300.6,294.4 L1301.1,296.7 L1301.6,297.1 L1302.1,297.5 L1302.6,297 L1303.1,296 L1303.6,293.8 L1304.1,294.9 L1304.6,292.8 L1305.1,293.3 L1305.6,293.2 L1306.1,291.9 L1306.5,290.8 L1307,290.2 L1307.5,290.7 L1308,289.9 L1308.5,290.2 L1309,288.8 L1309.5,290.1 L1310,289.5 L1310.5,287.1 L1311,287.5 L1311.5,286.7 L1312.1,287.8 L1312.6,285.1 L1313.2,284.2 L1313.7,274.8 L1314.3,266.4 L1314.8,263.4 L1315.3,259.8 L1315.8,250.9 L1316.3,254.3 L1316.8,255.7 L1317.3,256.3 L1317.8,257.9 L1318.2,257.9 L1318.7,259.8 L1319.3,263.5 L1319.8,263.3 L1320.4,266.8 L1320.9,270.9 L1321.4,267.2 L1321.9,269.4 L1322.4,270.1 L1322.8,268.2 L1323.3,268.1 L1323.8,265.2 L1324.3,264.2 L1324.8,264 L1325.4,267.9 L1325.9,270 L1326.5,270.9 L1327,273.1 L1327.6,276 L1328.1,280 L1328.7,281.9 L1329.2,280.6 L1329.8,279.2 L1330.4,276 L1330.9,273.1 L1331.4,273.2 L1331.9,268.8 L1332.4,267.1 L1332.9,269.4 L1333.4,268.2 L1333.9,268.9 L1334.4,266.7 L1334.8,264.7 L1335.3,262 L1335.8,262.8 L1336.2,263.7 L1336.6,259.9 L1337.1,257.4 L1337.5,256.1 L1338,256.4 L1338.5,252 L1338.9,254.1 L1339.4,254.4 L1339.8,249.7 L1340.3,248.9 L1340.8,246.1 L1341.2,238.4 L1341.7,229.1 L1342.1,223.9 L1342.7,189.3 L1343.3,199.9 L1343.8,206.2 L1344.4,212.9 L1344.9,205.7 L1345.5,196.3 L1345.9,209.4 L1346.3,212.9 L1346.9,163 L1347.3,139 L1347.7,113.2 L1348.2,106.8 L1348.8,88.3 L1349.3,102.5 L1349.9,110.4 L1350.4,106.5 L1351,102.1 L1351.4,124.4 L1351.8,135.4 L1352.2,133.9 L1352.7,129.8 L1353.2,154.7 L1353.8,176.9 L1354.3,257.2 L1354.9,230.4 L1355.4,207.3 L1355.9,213.7 L1356.4,219.9 L1356.8,221.2 L1357.2,210.7 L1357.6,201.8 L1358.2,196.4 L1358.8,182.4 L1359.2,200.9 L1359.7,217 L1360.1,235 L1360.6,243 L1361.1,249.2 L1361.5,257.2 L1362.1,259.9 L1362.6,264.7 L1363.2,266.7 L1363.7,271 L1364.2,264.9 L1364.7,262.8 L1365.2,260.1 L1365.7,257.2 L1366.1,250.1 L1366.6,248.2 L1367.1,238.5 L1367.5,234.7 L1368,229.8 L1368.4,223.9 L1369,222 L1369.6,224.2 L1370.1,219.5 L1370.7,218.4 L1371.1,222.9 L1371.6,226.4 L1372,235 L1372.6,207.6 L1373.1,182.4 L1373.7,185 L1374.3,184.1 L1374.8,188 L1375.3,195.8 L1375.7,209 L1376.2,218.4 L1376.6,223.6 L1377,235 L1377.6,243.4 L1378.1,251.6 L1378.5,261.2 L1379,271 L1379.4,261.9 L1379.9,253.1 L1380.3,243.3 L1380.8,241.3 L1381.3,238.1 L1381.8,234.5 L1382.3,235 L1382.7,221.3 L1383.2,206.4 L1383.7,196.3 L1384.1,210.7 L1384.6,224.1 L1385.1,235 L1385.5,232 L1386,226.8 L1386.4,221.2 L1387,221.8 L1387.5,222.9 L1388.1,223.1 L1388.7,223.9" fill="none" stroke="#4682b4" stroke-width="1.8" stroke-linejoin="round"/>
<circle cx="979.2" cy="299" r="6" fill="#74b3ea" fill-opacity="0.75"/>
<circle cx="992" cy="314.5" r="5.5" fill="#74b3ea" fill-opacity="0.75"/>
<circle cx="1098.3" cy="244.6" r="6.5" fill="#74b3ea" fill-opacity="0.75"/>
<circle cx="1124.2" cy="272.6" r="6.8" fill="#74b3ea" fill-opacity="0.75"/>
<circle cx="1149.5" cy="268.7" r="5.6" fill="#74b3ea" fill-opacity="0.75"/>
<circle cx="1149.1" cy="274.9" r="5.8" fill="#74b3ea" fill-opacity="0.75"/>
<circle cx="1346.3" cy="143.1" r="5.5" fill="#74b3ea" fill-opacity="0.75"/>
<circle cx="1322.5" cy="303" r="5" fill="#74b3ea" fill-opacity="0.75"/>
<circle cx="1291.3" cy="271.3" r="5.5" fill="#74b3ea" fill-opacity="0.75"/>
<circle cx="1155" cy="292" r="7" fill="#fcdc52" fill-opacity="0.45"/>
<circle cx="1158" cy="290" r="8" fill="#fcdc52" fill-opacity="0.45"/>
<circle cx="1161" cy="291" r="8" fill="#fcdc52" fill-opacity="0.45"/>
<circle cx="1162" cy="287" r="8" fill="#fcdc52" fill-opacity="0.45"/>
<circle cx="1166" cy="288" r="7.5" fill="#fcdc52" fill-opacity="0.45"/>
<circle cx="1171" cy="286" r="7.5" fill="#fcdc52" fill-opacity="0.45"/>
<circle cx="1336.5" cy="241.5" r="8.3" fill="#fcdc52" fill-opacity="0.45"/>
<circle cx="1386.4" cy="214" r="8" fill="#fcdc52" fill-opacity="0.45"/>
<circle cx="1295.1" cy="275.5" r="7.5" fill="#fcdc52" fill-opacity="0.45"/>
<circle cx="1295" cy="279.3" r="7" fill="#fcdc52" fill-opacity="0.45"/>
<circle cx="1282.9" cy="283.5" r="7" fill="#fcdc52" fill-opacity="0.45"/>
<circle cx="1280.6" cy="299.9" r="6.5" fill="#fcdc52" fill-opacity="0.45"/>
<circle cx="979" cy="676.6" r="2.6" fill="#f4a582" fill-opacity="0.9"/>
<circle cx="991.7" cy="680.4" r="2.6" fill="#f4a582" fill-opacity="0.9"/>
<circle cx="1098" cy="664.2" r="2.6" fill="#f4a582" fill-opacity="0.9"/>
<circle cx="1123.9" cy="671.1" r="2.6" fill="#f4a582" fill-opacity="0.9"/>
<circle cx="1149.4" cy="670.4" r="2.6" fill="#f4a582" fill-opacity="0.9"/>
<circle cx="1291.8" cy="671.1" r="2.6" fill="#f4a582" fill-opacity="0.9"/>
<circle cx="1322.2" cy="678" r="2.6" fill="#f4a582" fill-opacity="0.9"/>
<circle cx="1346" cy="642.1" r="2.6" fill="#f4a582" fill-opacity="0.9"/>
<path d="M274.9,476.4 L288.6,475.6 M274.9,540.2 L288.6,413.4 M298.6,413.4 L313,413.4 M298.6,475.6 L313,475.6 M395,470.4 L409.1,470.4 M419.1,470.4 L432.8,470.4 M419.1,514 L432.8,514 M419.1,526.3 L432.8,538.4 M419.1,535.6 L432.8,544.2 M442.8,538.4 L457.2,527.7 M442.8,544.2 L457.2,533.6 M467.2,470.4 L481.2,470.4 M467.2,527.7 L481.2,527.3 M467.2,533.6 L481.2,532.7 M491.2,501.5 L505.5,501.8 M491.2,527.3 L505.5,528.1 M491.2,532.7 L505.5,534.5 M515.5,470.4 L529.2,470.4 M515.5,501.8 L529.2,501.8 M515.5,528.1 L529.2,510.1 M515.5,534.5 L529.2,514 M539.2,470.4 L553.5,470.4 M539.2,510.1 L553.5,509.5 M539.2,514 L553.5,512.6 M563.5,413.4 L577.6,413.4 M563.5,470.4 L577.6,470.4 M563.5,509.5 L577.6,509.9 M563.5,512.6 L577.6,513.5 M587.6,413.4 L601.9,413.4 M587.6,470.4 L601.9,470.4 M587.6,501.8 L601.9,501.8 M587.6,509.9 L601.9,509.9 M587.6,513.5 L601.9,513.5 M611.9,413.4 L625.6,413.4 M611.9,470.4 L625.6,470.4 M611.9,501.8 L625.6,501.8 M611.9,509.9 L625.6,509.4 M611.9,513.5 L625.6,512.1 M635.6,470.4 L650,470.4 M635.6,501.8 L650,501.8 M635.6,509.4 L650,508.8 M635.6,512.1 L650,510.7 M660,413.4 L674,408.8 M660,470.4 L674,479.1 M660,501.8 L674,492.9 M660,508.8 L674,505.7 M660,510.7 L674,508.4 M684,479.1 L698,479.1 M684,500.8 L698,500.8 M684,505.7 L698,505.7 M684,508.4 L698,508.4 M708,408.8 L722.1,405.6 M708,452.9 L722.1,446.8 M708,479.1 L722.1,471.4 M708,492.9 L722.1,483.6 M708,500.8 L722.1,498.3 M708,505.7 L722.1,503.1 M708,508.4 L722.1,505.8 M732.1,446.8 L734.1,434 M732.1,471.4 L734.1,458.6 M732.1,483.6 L734.1,483.9 M732.1,492.1 L734.1,492.1 M732.1,498.3 L734.1,498.3 M732.1,502.3 L734.1,472.4 M732.1,503.1 L734.1,502.8 M732.1,505.8 L734.1,505.2 M744.1,399.4 L746.3,400.4 M744.1,434 L746.3,435.9 M744.1,458.6 L746.3,465.9 M744.1,472.4 L746.3,484.4 M744.1,492.1 L746.3,492.7 M744.1,498.3 L746.3,498.3 M744.1,483.9 L746.3,502.1 M744.1,502.8 L746.3,502.8 M744.1,505.2 L746.3,505.2 M756.3,400.4 L770.2,400.4 M756.3,435.9 L770.2,435.9 M756.3,484.4 L770.2,473.1 M756.3,492.7 L770.2,489 M756.3,498.3 L770.2,495.3 M756.3,465.9 L770.2,499.2 M756.3,502.1 L770.2,460.4 M756.3,504.5 L770.2,482 M756.3,502.8 L770.2,499.9 M756.3,505.2 L770.2,502.2 M780.2,400.4 L794.2,400.4 M780.2,435.9 L794.2,435.9 M780.2,473.1 L794.2,473.1 M780.2,489 L794.2,487.9 M780.2,495.3 L794.2,493.6 M780.2,460.4 L794.2,497.6 M780.2,482 L794.2,500.1 M780.2,499.2 L794.2,460.4 M780.2,501.5 L794.2,481.7 M780.2,499.9 L794.2,498.3 M780.2,502.2 L794.2,500.9 M804.2,400.4 L818.3,400.4 M804.2,435.9 L818.3,435.9 M804.2,460.4 L818.3,460.4 M804.2,473.1 L818.3,471.3 M804.2,481.7 L818.3,489 M804.2,487.9 L818.3,477.9 M804.2,493.6 L818.3,483.6 M804.2,498.3 L818.3,493.8 M804.2,500.9 L818.3,496.5 M828.3,400.4 L842.6,400.4 M828.3,435.9 L842.6,435.9 M828.3,460.4 L842.6,460.4 M828.3,471.3 L842.6,473.1 M828.3,477.9 L842.6,481.4 M828.3,483.6 L842.6,487.4 M828.3,489 L842.6,491.8 M828.3,493.8 L842.6,492.9 M828.3,496.5 L842.6,496.5 M852.6,400.4 L866.4,400.4 M852.6,435.9 L866.4,435.9 M852.6,460.4 L866.4,460.4 M852.6,473.1 L866.4,471 M852.6,487.4 L866.4,483.2 M852.6,481.4 L866.4,487.7 M852.6,491.8 L866.4,477.2 M852.6,492.9 L866.4,488.7 M852.6,496.5 L866.4,492.3 M876.4,400.4 L890.8,400.4 M876.4,435.9 L890.8,430.9 M876.4,471 L890.8,472.5 M876.4,477.2 L890.8,478.9 M876.4,483.2 L890.8,483.9 M876.4,460.4 L890.8,491.1 M876.4,487.7 L890.8,463.3 M876.4,488.7 L890.8,491.6 M876.4,492.3 L890.8,493.4 M900.8,400.4 L914.4,400.4 M900.8,430.9 L914.4,430.9 M900.8,450.2 L914.4,450.2 M900.8,463.3 L914.4,463.8 M900.8,472.5 L914.4,473.4 M900.8,478.9 L914.4,479.9 M900.8,483.9 L914.4,484.6 M900.8,491.6 L914.4,491.6 M900.8,493.4 L914.4,493.4 M924.4,400.4 L938.9,400.4 M924.4,430.9 L938.9,430.9 M924.4,450.2 L938.9,450.2 M924.4,463.8 L938.9,467.8 M924.4,473.4 L938.9,460.9 M924.4,479.9 L938.9,474.3 M924.4,484.6 L938.9,480.2 M924.4,491.6 L938.9,490 M924.4,493.4 L938.9,491.4 M948.9,430.9 L962.8,431.1 M948.9,450.2 L962.8,450.6 M948.9,474.3 L962.8,467.6 M948.9,460.9 L962.8,482.7 M948.9,467.8 L962.8,483.6 M948.9,480.2 L962.8,484.5 M948.9,489.6 L962.8,460.9 M948.9,490.5 L962.8,474 M948.9,491.5 L962.8,479.4 M948.9,490 L962.8,483.1 M948.9,491.4 L962.8,484.4 M972.8,400.6 L986.8,400.6 M972.8,431.1 L986.8,431.1 M972.8,450.6 L986.8,450.6 M972.8,460.9 L986.8,460.9 M972.8,467.6 L986.8,467.6 M972.8,474 L986.8,474 M972.8,479.4 L986.8,479.4 M972.8,483.1 L986.8,483.1 M972.8,484.4 L986.8,484.4 M996.8,400.6 L1011,400.4 M996.8,460.9 L1011,460.7 M996.8,467.6 L1011,467.4 M996.8,474 L1011,473.7 M996.8,479.4 L1011,479.2 M996.8,483.1 L1011,482.9 M996.8,484.4 L1011,484.1 M1021,400.4 L1035,400.4 M1021,430.9 L1035,430.9 M1021,460.7 L1035,460.7 M1021,467.4 L1035,467.4 M1021,473.7 L1035,473.7 M1021,479.2 L1035,479.2 M1021,482.9 L1035,482.9 M1021,484.1 L1035,484.1 M1045,400.4 L1059,400.4 M1045,430.9 L1059,430.9 M1045,460.7 L1059,460.7 M1045,467.4 L1059,467.4 M1045,473.7 L1059,473.7 M1045,479.2 L1059,479.2 M1045,482.9 L1059,482.9 M1045,484.1 L1059,484.1 M1069,400.4 L1083.1,400.4 M1069,430.9 L1083.1,431.1 M1069,460.7 L1083.1,460.7 M1069,467.4 L1083.1,467.4 M1069,473.7 L1083.1,473.7 M1069,479.2 L1083.1,479.7 M1069,482.5 L1083.1,484.6 M1069,482.9 L1083.1,490.2 M1069,484.1 L1083.1,491.7 M1093.1,400.4 L1106.8,398.1 M1093.1,431.1 L1106.8,424.4 M1093.1,460.7 L1106.8,450.9 M1093.1,467.4 L1106.8,456.6 M1093.1,473.7 L1106.8,462 M1093.1,479.7 L1106.8,466.3 M1093.1,484.6 L1106.8,470.7 M1093.1,490.2 L1106.8,463.9 M1093.1,491.7 L1106.8,470.4 M1116.8,398.1 L1131.2,398.1 M1116.8,424.4 L1131.2,424.4 M1116.8,441.2 L1131.2,441.2 M1116.8,450.9 L1131.2,450.9 M1116.8,456.6 L1131.2,456.6 M1116.8,463.9 L1131.2,463.1 M1116.8,470.4 L1131.2,468.5 M1141.2,398.1 L1155.3,398.1 M1141.2,424.4 L1155.3,424.4 M1141.2,441.2 L1155.3,441.2 M1141.2,456.6 L1155.3,451.2 M1141.2,463.1 L1155.3,453.5 M1141.2,468.5 L1155.3,461.5 M1165.3,398.1 L1179.4,398.1 M1165.3,424.4 L1179.4,424.4 M1165.3,453.5 L1179.4,438.1 M1165.3,461.5 L1179.4,442.9 M1189.4,398.1 L1203.8,398.1 M1189.4,424.4 L1203.8,424.5 M1189.4,438.1 L1203.8,438.2 M1189.4,442.9 L1203.8,443 M1213.8,398.1 L1227.4,398.1 M1213.8,424.5 L1227.4,424.5 M1213.8,438.2 L1227.4,438.4 M1213.8,443 L1227.4,443.4 M1237.4,398.1 L1239.6,398.1 M1237.4,424.5 L1239.6,424.5 M1237.4,438.4 L1239.6,438.4 M1237.4,443.4 L1239.6,443.4 M1249.6,398.1 L1251.7,398.1 M1249.6,424.5 L1251.7,424.5 M1249.6,438.4 L1251.7,438.4 M1249.6,443.4 L1251.7,443.4 M1261.7,398.1 L1263.9,398.1 M1261.7,424.5 L1263.9,424.5 M1261.7,438.4 L1263.9,438.4 M1261.7,443.4 L1263.9,443.4 M1273.9,398.1 L1276.1,397.7 M1273.9,424.5 L1276.1,422.8 M1273.9,438.4 L1276.1,436.4 M1273.9,443.4 L1276.1,442.1 M1286.1,397.7 L1288.3,397.7 M1286.1,422.8 L1288.3,422 M1286.1,436.4 L1288.3,434.7 M1286.1,442.1 L1288.3,440 M1298.3,397.7 L1299.8,397.7 M1298.3,422 L1299.8,421 M1298.3,434.7 L1299.8,432.8 M1298.3,440 L1299.8,438.3 M1309.8,397.7 L1312,397.7 M1309.8,421 L1312,419.8 M1309.8,432.8 L1312,430.5 M1309.8,438.3 L1312,436.4 M1322,397.7 L1324.2,397.7 M1322,419.8 L1324.2,419.8 M1322,430.5 L1324.2,429.7 M1322,436.4 L1324.2,434.5 M1334.2,397.7 L1336.1,397.7 M1334.2,429.7 L1336.1,418.4 M1334.2,434.5 L1336.1,425.6 M1346.1,397.7 L1348.2,397.7 M1346.1,418.4 L1348.2,418.4 M1346.1,425.6 L1348.2,425.6 M1358.2,397.7 L1360.1,397.7 M1358.2,418.4 L1360.1,424 M1358.2,425.6 L1360.1,431.5 M1370.1,397.7 L1372.3,397.7 M1370.1,415.9 L1372.3,415.9 M1370.1,424 L1372.3,422.9 M1370.1,431.5 L1372.3,428.7 M1382.3,397.7 L1384.2,397.7 M1382.3,415.9 L1384.2,416.7 M1382.3,422.9 L1384.2,431.2 M1382.3,428.7 L1384.2,436" fill="none" stroke="#cfcfcf" stroke-width="0.8"/>
<rect x="264.9" y="382.2" width="10" height="62.3" fill="#5a9bca"/>
<rect x="264.9" y="444.5" width="10" height="63.8" fill="#89bede"/>
<rect x="264.9" y="508.3" width="10" height="63.9" fill="#b1d5e7"/>
<rect x="264.9" y="572.2" width="10" height="3.4" fill="#e6e6e6"/>
<rect x="264.9" y="575.6" width="10" height="3.4" fill="#efefef"/>
<rect x="264.9" y="579" width="10" height="3.4" fill="#e9e9e9"/>
<rect x="264.9" y="582.4" width="10" height="3.4" fill="#f3f3f3"/>
<rect x="264.9" y="585.8" width="10" height="3.2" fill="#e6e6e6"/>
<rect x="288.6" y="382.2" width="10" height="62.3" fill="#b1d5e7"/>
<rect x="288.6" y="444.5" width="10" height="62.3" fill="#89bede"/>
<rect x="288.6" y="506.8" width="10" height="28.9" fill="#d1e2f2"/>
<rect x="288.6" y="535.7" width="10" height="16.7" fill="#eb773d"/>
<rect x="288.6" y="552.4" width="10" height="12.8" fill="#fda463"/>
<rect x="288.6" y="566" width="10" height="3.4" fill="#e6e6e6"/>
<rect x="288.6" y="569.4" width="10" height="3.4" fill="#efefef"/>
<rect x="288.6" y="572.8" width="10" height="3.4" fill="#e9e9e9"/>
<rect x="288.6" y="576.2" width="10" height="3.4" fill="#f3f3f3"/>
<rect x="288.6" y="579.6" width="10" height="3.2" fill="#e6e6e6"/>
<rect x="313" y="382.2" width="10" height="62.3" fill="#b1d5e7"/>
<rect x="313" y="444.5" width="10" height="62.3" fill="#89bede"/>
<rect x="313" y="506.8" width="10" height="12.8" fill="#fdbe89"/>
<rect x="313" y="519.6" width="10" height="6.1" fill="#fdd9b5"/>
<rect x="313" y="525.7" width="10" height="3.4" fill="#e6e6e6"/>
<rect x="313" y="529.1" width="10" height="3.4" fill="#efefef"/>
<rect x="313" y="532.5" width="10" height="3.4" fill="#e9e9e9"/>
<rect x="313" y="535.9" width="10" height="3.4" fill="#f3f3f3"/>
<rect x="313" y="539.3" width="10" height="3.4" fill="#e6e6e6"/>
<rect x="313" y="542.7" width="10" height="3.4" fill="#efefef"/>
<rect x="313" y="546.1" width="10" height="3.3" fill="#e9e9e9"/>
<rect x="337.3" y="382.2" width="10" height="62.3" fill="#89bede"/>
<rect x="337.3" y="444.5" width="10" height="51.7" fill="#5a9bca"/>
<rect x="361" y="382.2" width="10" height="62.3" fill="#b1d5e7"/>
<rect x="361" y="444.5" width="10" height="51.7" fill="#89bede"/>
<rect x="361" y="496.2" width="10" height="11.2" fill="#fda463"/>
<rect x="361" y="507.4" width="10" height="6.1" fill="#5ab576"/>
<rect x="361" y="513.5" width="10" height="6.1" fill="#90d091"/>
<rect x="361" y="519.6" width="10" height="3.4" fill="#e6e6e6"/>
<rect x="361" y="523" width="10" height="3.4" fill="#efefef"/>
<rect x="361" y="526.4" width="10" height="3.4" fill="#e9e9e9"/>
<rect x="361" y="529.8" width="10" height="3.4" fill="#f3f3f3"/>
<rect x="361" y="533.2" width="10" height="3.4" fill="#e6e6e6"/>
<rect x="361" y="536.6" width="10" height="3.4" fill="#efefef"/>
<rect x="361" y="540" width="10" height="0.3" fill="#e9e9e9"/>
<rect x="385" y="382.2" width="10" height="62.3" fill="#89bede"/>
<rect x="385" y="444.5" width="10" height="51.7" fill="#5a9bca"/>
<rect x="409.1" y="382.2" width="10" height="62.3" fill="#b1d5e7"/>
<rect x="409.1" y="444.5" width="10" height="51.7" fill="#5a9bca"/>
<rect x="409.1" y="496.2" width="10" height="12.1" fill="#5ab576"/>
<rect x="409.1" y="508.3" width="10" height="11.3" fill="#fda463"/>
<rect x="409.1" y="519.6" width="10" height="3.4" fill="#e6e6e6"/>
<rect x="409.1" y="523" width="10" height="3.4" fill="#efefef"/>
<rect x="409.1" y="526.4" width="10" height="3.4" fill="#e9e9e9"/>
<rect x="409.1" y="529.8" width="10" height="3.4" fill="#f3f3f3"/>
<rect x="409.1" y="533.2" width="10" height="3.4" fill="#e6e6e6"/>
<rect x="409.1" y="536.6" width="10" height="3.4" fill="#efefef"/>
<rect x="409.1" y="540" width="10" height="3.4" fill="#e9e9e9"/>
<rect x="409.1" y="543.4" width="10" height="2.9" fill="#f3f3f3"/>
<rect x="432.8" y="382.2" width="10" height="62.3" fill="#89bede"/>
<rect x="432.8" y="444.5" width="10" height="51.7" fill="#5a9bca"/>
<rect x="432.8" y="496.2" width="10" height="12.1" fill="#fdbe89"/>
<rect x="432.8" y="508.3" width="10" height="11.3" fill="#fda463"/>
<rect x="432.8" y="519.6" width="10" height="7" fill="#fdd9b5"/>
<rect x="432.8" y="526.6" width="10" height="7.6" fill="#b4e1af"/>
<rect x="432.8" y="534.2" width="10" height="3.4" fill="#e6e6e6"/>
<rect x="432.8" y="537.6" width="10" height="3.4" fill="#efefef"/>
<rect x="432.8" y="541" width="10" height="3.4" fill="#e9e9e9"/>
<rect x="432.8" y="544.4" width="10" height="3.4" fill="#f3f3f3"/>
<rect x="432.8" y="547.8" width="10" height="3.1" fill="#e6e6e6"/>
<rect x="457.2" y="382.2" width="10" height="62.3" fill="#b1d5e7"/>
<rect x="457.2" y="444.5" width="10" height="51.7" fill="#89bede"/>
<rect x="457.2" y="496.2" width="10" height="11.2" fill="#5ab576"/>
<rect x="457.2" y="507.4" width="10" height="9.1" fill="#90d091"/>
<rect x="457.2" y="516.5" width="10" height="7" fill="#d2edcd"/>
<rect x="457.2" y="523.5" width="10" height="3.4" fill="#e6e6e6"/>
<rect x="457.2" y="526.9" width="10" height="3.4" fill="#efefef"/>
<rect x="457.2" y="530.3" width="10" height="3.4" fill="#e9e9e9"/>
<rect x="457.2" y="533.7" width="10" height="3.4" fill="#f3f3f3"/>
<rect x="457.2" y="537.1" width="10" height="3.2" fill="#e6e6e6"/>
<rect x="481.2" y="382.2" width="10" height="62.3" fill="#616294"/>
<rect x="481.2" y="444.5" width="10" height="51.7" fill="#89bede"/>
<rect x="481.2" y="496.2" width="10" height="10.6" fill="#7576b5"/>
<rect x="481.2" y="506.8" width="10" height="9.7" fill="#898bd9"/>
<rect x="481.2" y="516.5" width="10" height="7" fill="#b0b1e5"/>
<rect x="481.2" y="523.5" width="10" height="3.4" fill="#e6e6e6"/>
<rect x="481.2" y="526.9" width="10" height="3.4" fill="#efefef"/>
<rect x="481.2" y="530.3" width="10" height="3.4" fill="#e9e9e9"/>
<rect x="481.2" y="533.7" width="10" height="3.4" fill="#f3f3f3"/>
<rect x="481.2" y="537.1" width="10" height="1.7" fill="#e6e6e6"/>
<rect x="505.5" y="382.2" width="10" height="62.3" fill="#b1d5e7"/>
<rect x="505.5" y="444.5" width="10" height="51.7" fill="#5a9bca"/>
<rect x="505.5" y="496.2" width="10" height="11.2" fill="#7576b5"/>
<rect x="505.5" y="507.4" width="10" height="9.1" fill="#829461"/>
<rect x="505.5" y="516.5" width="10" height="7" fill="#a3b575"/>
<rect x="505.5" y="523.5" width="10" height="3.4" fill="#e6e6e6"/>
<rect x="505.5" y="526.9" width="10" height="3.4" fill="#efefef"/>
<rect x="505.5" y="530.3" width="10" height="3.4" fill="#e9e9e9"/>
<rect x="505.5" y="533.7" width="10" height="3.4" fill="#f3f3f3"/>
<rect x="505.5" y="537.1" width="10" height="3.4" fill="#e6e6e6"/>
<rect x="505.5" y="540.5" width="10" height="1.3" fill="#efefef"/>
<rect x="529.2" y="382.2" width="10" height="62.3" fill="#c4d989"/>
<rect x="529.2" y="444.5" width="10" height="51.7" fill="#5a9bca"/>
<rect x="529.2" y="496.2" width="10" height="11.2" fill="#7576b5"/>
<rect x="529.2" y="507.4" width="10" height="3.4" fill="#e6e6e6"/>
<rect x="529.2" y="510.8" width="10" height="3.4" fill="#efefef"/>
<rect x="529.2" y="514.2" width="10" height="3.4" fill="#e9e9e9"/>
<rect x="529.2" y="517.6" width="10" height="0.8" fill="#f3f3f3"/>
<rect x="553.5" y="382.2" width="10" height="62.3" fill="#b1d5e7"/>
<rect x="553.5" y="444.5" width="10" height="51.7" fill="#5a9bca"/>
<rect x="553.5" y="496.2" width="10" height="11.2" fill="#616294"/>
<rect x="553.5" y="507.4" width="10" height="3.4" fill="#e6e6e6"/>
<rect x="553.5" y="510.8" width="10" height="3.4" fill="#efefef"/>
<rect x="553.5" y="514.2" width="10" height="1.8" fill="#e9e9e9"/>
<rect x="577.6" y="382.2" width="10" height="62.3" fill="#b1d5e7"/>
<rect x="577.6" y="444.5" width="10" height="51.7" fill="#5a9bca"/>
<rect x="577.6" y="496.2" width="10" height="11.2" fill="#7576b5"/>
<rect x="577.6" y="507.4" width="10" height="3.4" fill="#e6e6e6"/>
<rect x="577.6" y="510.8" width="10" height="3.4" fill="#efefef"/>
<rect x="577.6" y="514.2" width="10" height="3.3" fill="#e9e9e9"/>
<rect x="601.9" y="382.2" width="10" height="62.3" fill="#b1d5e7"/>
<rect x="601.9" y="444.5" width="10" height="51.7" fill="#5a9bca"/>
<rect x="601.9" y="496.2" width="10" height="11.2" fill="#7576b5"/>
<rect x="601.9" y="507.4" width="10" height="3.4" fill="#e6e6e6"/>
<rect x="601.9" y="510.8" width="10" height="3.4" fill="#efefef"/>
<rect x="601.9" y="514.2" width="10" height="3.3" fill="#e9e9e9"/>
<rect x="625.6" y="382.2" width="10" height="62.3" fill="#b1d5e7"/>
<rect x="625.6" y="444.5" width="10" height="51.7" fill="#5a9bca"/>
<rect x="625.6" y="496.2" width="10" height="11.2" fill="#7576b5"/>
<rect x="625.6" y="507.4" width="10" height="3.4" fill="#e6e6e6"/>
<rect x="625.6" y="510.8" width="10" height="3.4" fill="#efefef"/>
<rect x="625.6" y="514.2" width="10" height="1.1" fill="#e9e9e9"/>
<rect x="650" y="382.2" width="10" height="62.3" fill="#c4d989"/>
<rect x="650" y="444.5" width="10" height="51.7" fill="#5a9bca"/>
<rect x="650" y="496.2" width="10" height="11.2" fill="#7576b5"/>
<rect x="650" y="507.4" width="10" height="3.4" fill="#e6e6e6"/>
<rect x="650" y="510.8" width="10" height="2.1" fill="#efefef"/>
<rect x="674" y="382.2" width="10" height="53.2" fill="#c4d989"/>
<rect x="674" y="435.4" width="10" height="34.9" fill="#a3b575"/>
<rect x="674" y="470.3" width="10" height="17.7" fill="#5a9bca"/>
<rect x="674" y="488" width="10" height="9.7" fill="#7576b5"/>
<rect x="674" y="497.7" width="10" height="6.1" fill="#d8e2b0"/>
<rect x="674" y="503.8" width="10" height="3.4" fill="#e6e6e6"/>
<rect x="674" y="507.2" width="10" height="3.4" fill="#efefef"/>
<rect x="674" y="510.6" width="10" height="0.8" fill="#e9e9e9"/>
<rect x="698" y="382.2" width="10" height="53.2" fill="#89bede"/>
<rect x="698" y="435.4" width="10" height="34.9" fill="#a38a5a"/>
<rect x="698" y="470.3" width="10" height="17.7" fill="#5a9bca"/>
<rect x="698" y="488" width="10" height="9.7" fill="#829461"/>
<rect x="698" y="497.7" width="10" height="6.1" fill="#d8e2b0"/>
<rect x="698" y="503.8" width="10" height="3.4" fill="#e6e6e6"/>
<rect x="698" y="507.2" width="10" height="3.4" fill="#efefef"/>
<rect x="698" y="510.6" width="10" height="0.8" fill="#e9e9e9"/>
<rect x="722.1" y="382.2" width="10" height="46.9" fill="#89bede"/>
<rect x="722.1" y="429.1" width="10" height="35.3" fill="#a38a5a"/>
<rect x="722.1" y="464.4" width="10" height="13.9" fill="#5a9bca"/>
<rect x="722.1" y="478.3" width="10" height="10.5" fill="#829461"/>
<rect x="722.1" y="488.8" width="10" height="6.7" fill="#cab161"/>
<rect x="722.1" y="495.5" width="10" height="5.6" fill="#d8e2b0"/>
<rect x="722.1" y="501.1" width="10" height="3.4" fill="#e6e6e6"/>
<rect x="722.1" y="504.5" width="10" height="3.4" fill="#efefef"/>
<rect x="722.1" y="507.9" width="10" height="1" fill="#e9e9e9"/>
<rect x="734.1" y="382.2" width="10" height="34.5" fill="#ecc875"/>
<rect x="734.1" y="416.7" width="10" height="34.6" fill="#a38a5a"/>
<rect x="734.1" y="451.3" width="10" height="14.5" fill="#5a9bca"/>
<rect x="734.1" y="465.8" width="10" height="13.1" fill="#ecd5a9"/>
<rect x="734.1" y="478.9" width="10" height="9.9" fill="#829461"/>
<rect x="734.1" y="488.8" width="10" height="6.7" fill="#cab161"/>
<rect x="734.1" y="495.5" width="10" height="5.6" fill="#d8e2b0"/>
<rect x="734.1" y="501.1" width="10" height="3.4" fill="#e6e6e6"/>
<rect x="734.1" y="504.5" width="10" height="3.4" fill="#efefef"/>
<rect x="746.3" y="382.2" width="10" height="36.5" fill="#ecc875"/>
<rect x="746.3" y="418.7" width="10" height="34.3" fill="#a38a5a"/>
<rect x="746.3" y="453" width="10" height="25.9" fill="#5a9bca"/>
<rect x="746.3" y="478.9" width="10" height="11" fill="#ecd5a9"/>
<rect x="746.3" y="489.9" width="10" height="5.6" fill="#cab161"/>
<rect x="746.3" y="495.5" width="10" height="5.6" fill="#d8e2b0"/>
<rect x="746.3" y="501.1" width="10" height="3.4" fill="#e6e6e6"/>
<rect x="746.3" y="504.5" width="10" height="3.4" fill="#efefef"/>
<rect x="770.2" y="382.2" width="10" height="36.5" fill="#ecc875"/>
<rect x="770.2" y="418.7" width="10" height="34.3" fill="#a38a5a"/>
<rect x="770.2" y="453" width="10" height="14.9" fill="#bed2ed"/>
<rect x="770.2" y="467.9" width="10" height="10.4" fill="#ecd5a9"/>
<rect x="770.2" y="478.3" width="10" height="7.4" fill="#7576b5"/>
<rect x="770.2" y="485.7" width="10" height="6.7" fill="#cab161"/>
<rect x="770.2" y="492.4" width="10" height="5.8" fill="#d8e2b0"/>
<rect x="770.2" y="498.2" width="10" height="3.4" fill="#e6e6e6"/>
<rect x="770.2" y="501.6" width="10" height="3.2" fill="#efefef"/>
<rect x="794.2" y="382.2" width="10" height="36.5" fill="#ecc875"/>
<rect x="794.2" y="418.7" width="10" height="34.3" fill="#a38a5a"/>
<rect x="794.2" y="453" width="10" height="14.9" fill="#5a9bca"/>
<rect x="794.2" y="467.9" width="10" height="10.4" fill="#ecd5a9"/>
<rect x="794.2" y="478.3" width="10" height="6.8" fill="#fda463"/>
<rect x="794.2" y="485.1" width="10" height="5.6" fill="#cab161"/>
<rect x="794.2" y="490.7" width="10" height="5.8" fill="#d8e2b0"/>
<rect x="794.2" y="496.5" width="10" height="3.4" fill="#e6e6e6"/>
<rect x="794.2" y="499.9" width="10" height="3.4" fill="#efefef"/>
<rect x="794.2" y="503.3" width="10" height="0.5" fill="#e9e9e9"/>
<rect x="818.3" y="382.2" width="10" height="36.5" fill="#ecc875"/>
<rect x="818.3" y="418.7" width="10" height="34.3" fill="#a38a5a"/>
<rect x="818.3" y="453" width="10" height="14.9" fill="#5a9bca"/>
<rect x="818.3" y="467.9" width="10" height="6.8" fill="#ecd5a9"/>
<rect x="818.3" y="474.7" width="10" height="6.3" fill="#cab161"/>
<rect x="818.3" y="481" width="10" height="5.1" fill="#d8e2b0"/>
<rect x="818.3" y="486.1" width="10" height="5.8" fill="#fda463"/>
<rect x="818.3" y="491.9" width="10" height="3.4" fill="#e6e6e6"/>
<rect x="818.3" y="495.3" width="10" height="3.4" fill="#efefef"/>
<rect x="818.3" y="498.7" width="10" height="0.9" fill="#e9e9e9"/>
<rect x="842.6" y="382.2" width="10" height="36.5" fill="#ecc875"/>
<rect x="842.6" y="418.7" width="10" height="34.3" fill="#a38a5a"/>
<rect x="842.6" y="453" width="10" height="14.9" fill="#5a9bca"/>
<rect x="842.6" y="467.9" width="10" height="10.4" fill="#ecd5a9"/>
<rect x="842.6" y="478.3" width="10" height="6.2" fill="#cab161"/>
<rect x="842.6" y="484.5" width="10" height="5.8" fill="#d8e2b0"/>
<rect x="842.6" y="490.3" width="10" height="3.4" fill="#e6e6e6"/>
<rect x="842.6" y="493.7" width="10" height="3.4" fill="#efefef"/>
<rect x="842.6" y="497.1" width="10" height="3.4" fill="#e9e9e9"/>
<rect x="866.4" y="382.2" width="10" height="36.5" fill="#ecc875"/>
<rect x="866.4" y="418.7" width="10" height="34.3" fill="#a38a5a"/>
<rect x="866.4" y="453" width="10" height="14.9" fill="#5a9bca"/>
<rect x="866.4" y="467.9" width="10" height="6.2" fill="#ecd5a9"/>
<rect x="866.4" y="474.1" width="10" height="6.2" fill="#ffc993"/>
<rect x="866.4" y="480.3" width="10" height="5.8" fill="#d8e2b0"/>
<rect x="866.4" y="486.1" width="10" height="3.4" fill="#e6e6e6"/>
<rect x="866.4" y="489.5" width="10" height="3.4" fill="#efefef"/>
<rect x="866.4" y="492.9" width="10" height="3.4" fill="#e9e9e9"/>
<rect x="890.8" y="382.2" width="10" height="36.5" fill="#ecc875"/>
<rect x="890.8" y="418.7" width="10" height="24.3" fill="#a38a5a"/>
<rect x="890.8" y="443" width="10" height="14.5" fill="#4c92c3"/>
<rect x="890.8" y="457.5" width="10" height="11.6" fill="#56b356"/>
<rect x="890.8" y="469.1" width="10" height="6.7" fill="#ecd5a9"/>
<rect x="890.8" y="475.8" width="10" height="6.2" fill="#ffc993"/>
<rect x="890.8" y="482" width="10" height="3.7" fill="#d8e2b0"/>
<rect x="890.8" y="490.3" width="10" height="3.4" fill="#e6e6e6"/>
<rect x="890.8" y="493.7" width="10" height="1.8" fill="#efefef"/>
<rect x="914.4" y="382.2" width="10" height="36.5" fill="#ecc875"/>
<rect x="914.4" y="418.7" width="10" height="24.3" fill="#a38a5a"/>
<rect x="914.4" y="443" width="10" height="14.5" fill="#4c92c3"/>
<rect x="914.4" y="457.5" width="10" height="12.5" fill="#56b356"/>
<rect x="914.4" y="470" width="10" height="6.8" fill="#ecd5a9"/>
<rect x="914.4" y="476.8" width="10" height="6.2" fill="#ffc993"/>
<rect x="914.4" y="483" width="10" height="3.1" fill="#d8e2b0"/>
<rect x="914.4" y="490.3" width="10" height="3.4" fill="#e6e6e6"/>
<rect x="914.4" y="493.7" width="10" height="1.8" fill="#efefef"/>
<rect x="938.9" y="382.2" width="10" height="36.5" fill="#ecc875"/>
<rect x="938.9" y="418.7" width="10" height="24.3" fill="#a38a5a"/>
<rect x="938.9" y="443" width="10" height="14.5" fill="#4c92c3"/>
<rect x="938.9" y="457.5" width="10" height="6.9" fill="#ecd5a9"/>
<rect x="938.9" y="464.4" width="10" height="6.8" fill="#56b356"/>
<rect x="938.9" y="471.2" width="10" height="6.2" fill="#ffc993"/>
<rect x="938.9" y="477.4" width="10" height="5.6" fill="#d8e2b0"/>
<rect x="938.9" y="489" width="10" height="3.4" fill="#e6e6e6"/>
<rect x="938.9" y="492.4" width="10" height="0.6" fill="#efefef"/>
<rect x="962.8" y="382.2" width="10" height="36.8" fill="#a6dd9b"/>
<rect x="962.8" y="419" width="10" height="24.1" fill="#a38a5a"/>
<rect x="962.8" y="443.1" width="10" height="14.9" fill="#4c92c3"/>
<rect x="962.8" y="458" width="10" height="5.9" fill="#de5253"/>
<rect x="962.8" y="463.9" width="10" height="7.4" fill="#ffc993"/>
<rect x="962.8" y="471.3" width="10" height="5.4" fill="#e2e2a4"/>
<rect x="962.8" y="476.7" width="10" height="5.4" fill="#ffadab"/>
<rect x="962.8" y="482.1" width="10" height="3.4" fill="#e6e6e6"/>
<rect x="962.8" y="485.5" width="10" height="0.5" fill="#efefef"/>
<rect x="986.8" y="382.2" width="10" height="36.8" fill="#a6dd9b"/>
<rect x="986.8" y="419" width="10" height="24.1" fill="#a38a5a"/>
<rect x="986.8" y="443.1" width="10" height="14.9" fill="#4c92c3"/>
<rect x="986.8" y="458" width="10" height="5.9" fill="#de5253"/>
<rect x="986.8" y="463.9" width="10" height="7.4" fill="#ffc993"/>
<rect x="986.8" y="471.3" width="10" height="5.4" fill="#e2e2a4"/>
<rect x="986.8" y="476.7" width="10" height="5.4" fill="#ffadab"/>
<rect x="986.8" y="482.1" width="10" height="3.4" fill="#e6e6e6"/>
<rect x="986.8" y="485.5" width="10" height="0.5" fill="#efefef"/>
<rect x="1011" y="382.2" width="10" height="36.5" fill="#a6dd9b"/>
<rect x="1011" y="418.7" width="10" height="24.3" fill="#a3b575"/>
<rect x="1011" y="443" width="10" height="14.5" fill="#a985ca"/>
<rect x="1011" y="457.5" width="10" height="6.4" fill="#de5253"/>
<rect x="1011" y="463.9" width="10" height="7.1" fill="#ffc993"/>
<rect x="1011" y="471" width="10" height="5.4" fill="#e2e2a4"/>
<rect x="1011" y="476.4" width="10" height="5.6" fill="#ffadab"/>
<rect x="1011" y="482" width="10" height="3.4" fill="#e6e6e6"/>
<rect x="1035" y="382.2" width="10" height="36.5" fill="#a6dd9b"/>
<rect x="1035" y="418.7" width="10" height="24.3" fill="#a3b575"/>
<rect x="1035" y="443" width="10" height="14.5" fill="#d1c0dd"/>
<rect x="1035" y="457.5" width="10" height="6.4" fill="#de5253"/>
<rect x="1035" y="463.9" width="10" height="7.1" fill="#ffc993"/>
<rect x="1035" y="471" width="10" height="5.4" fill="#e2e2a4"/>
<rect x="1035" y="476.4" width="10" height="5.6" fill="#ffadab"/>
<rect x="1035" y="482" width="10" height="3.4" fill="#e6e6e6"/>
<rect x="1059" y="382.2" width="10" height="36.5" fill="#a6dd9b"/>
<rect x="1059" y="418.7" width="10" height="24.3" fill="#a3b575"/>
<rect x="1059" y="443" width="10" height="14.5" fill="#a985ca"/>
<rect x="1059" y="457.5" width="10" height="6.4" fill="#de5253"/>
<rect x="1059" y="463.9" width="10" height="7.1" fill="#ffc993"/>
<rect x="1059" y="471" width="10" height="5.4" fill="#e2e2a4"/>
<rect x="1059" y="476.4" width="10" height="5.6" fill="#ffadab"/>
<rect x="1059" y="482" width="10" height="3.4" fill="#e6e6e6"/>
<rect x="1083.1" y="382.2" width="10" height="36.5" fill="#a6dd9b"/>
<rect x="1083.1" y="418.7" width="10" height="24.9" fill="#a3b575"/>
<rect x="1083.1" y="443.6" width="10" height="13.9" fill="#a3786f"/>
<rect x="1083.1" y="457.5" width="10" height="6.4" fill="#de5253"/>
<rect x="1083.1" y="463.9" width="10" height="7.1" fill="#ffc993"/>
<rect x="1083.1" y="471" width="10" height="5.4" fill="#e2e2a4"/>
<rect x="1083.1" y="476.4" width="10" height="6.6" fill="#ffadab"/>
<rect x="1083.1" y="483" width="10" height="3.1" fill="#d0b0a9"/>
<rect x="1083.1" y="489.2" width="10" height="3.4" fill="#e6e6e6"/>
<rect x="1083.1" y="492.6" width="10" height="0.8" fill="#efefef"/>
<rect x="1106.8" y="382.2" width="10" height="31.8" fill="#a6dd9b"/>
<rect x="1106.8" y="414" width="10" height="20.7" fill="#a3b575"/>
<rect x="1106.8" y="434.7" width="10" height="13.1" fill="#bed2ed"/>
<rect x="1106.8" y="447.8" width="10" height="6.2" fill="#de5253"/>
<rect x="1106.8" y="454" width="10" height="5.2" fill="#ffc993"/>
<rect x="1106.8" y="459.2" width="10" height="3.4" fill="#e6e6e6"/>
<rect x="1106.8" y="462.6" width="10" height="3.4" fill="#efefef"/>
<rect x="1106.8" y="466" width="10" height="3.4" fill="#e9e9e9"/>
<rect x="1106.8" y="469.4" width="10" height="3.4" fill="#f3f3f3"/>
<rect x="1106.8" y="472.8" width="10" height="3.4" fill="#e6e6e6"/>
<rect x="1106.8" y="476.2" width="10" height="1.6" fill="#efefef"/>
<rect x="1131.2" y="382.2" width="10" height="31.8" fill="#a6dd9b"/>
<rect x="1131.2" y="414" width="10" height="20.7" fill="#a3b575"/>
<rect x="1131.2" y="434.7" width="10" height="13.1" fill="#bed2ed"/>
<rect x="1131.2" y="447.8" width="10" height="6.2" fill="#de5253"/>
<rect x="1131.2" y="454" width="10" height="5.2" fill="#ffc993"/>
<rect x="1131.2" y="459.2" width="10" height="3.4" fill="#e6e6e6"/>
<rect x="1131.2" y="462.6" width="10" height="3.4" fill="#efefef"/>
<rect x="1131.2" y="466" width="10" height="3.4" fill="#e9e9e9"/>
<rect x="1131.2" y="469.4" width="10" height="3.4" fill="#f3f3f3"/>
<rect x="1131.2" y="472.8" width="10" height="1.9" fill="#e6e6e6"/>
<rect x="1155.3" y="382.2" width="10" height="31.8" fill="#a6dd9b"/>
<rect x="1155.3" y="414" width="10" height="20.7" fill="#a3b575"/>
<rect x="1155.3" y="434.7" width="10" height="13.1" fill="#bed2ed"/>
<rect x="1155.3" y="447.8" width="10" height="3.4" fill="#e6e6e6"/>
<rect x="1155.3" y="451.2" width="10" height="3.4" fill="#efefef"/>
<rect x="1155.3" y="454.6" width="10" height="3.4" fill="#e9e9e9"/>
<rect x="1155.3" y="458" width="10" height="3.4" fill="#f3f3f3"/>
<rect x="1155.3" y="461.4" width="10" height="3.4" fill="#e6e6e6"/>
<rect x="1155.3" y="464.8" width="10" height="3.4" fill="#efefef"/>
<rect x="1155.3" y="468.2" width="10" height="2.4" fill="#e9e9e9"/>
<rect x="1179.4" y="382.2" width="10" height="31.8" fill="#a6dd9b"/>
<rect x="1179.4" y="414" width="10" height="20.7" fill="#a3b575"/>
<rect x="1179.4" y="434.7" width="10" height="3.4" fill="#e6e6e6"/>
<rect x="1179.4" y="438.1" width="10" height="3.4" fill="#efefef"/>
<rect x="1179.4" y="441.5" width="10" height="3.4" fill="#e9e9e9"/>
<rect x="1179.4" y="444.9" width="10" height="3.4" fill="#f3f3f3"/>
<rect x="1203.8" y="382.2" width="10" height="31.9" fill="#a6dd9b"/>
<rect x="1203.8" y="414.1" width="10" height="20.7" fill="#a3b575"/>
<rect x="1203.8" y="434.8" width="10" height="3.4" fill="#e6e6e6"/>
<rect x="1203.8" y="438.2" width="10" height="3.4" fill="#efefef"/>
<rect x="1203.8" y="441.6" width="10" height="3.4" fill="#e9e9e9"/>
<rect x="1203.8" y="445" width="10" height="3.4" fill="#f3f3f3"/>
<rect x="1227.4" y="382.2" width="10" height="31.9" fill="#a6dd9b"/>
<rect x="1227.4" y="414.1" width="10" height="20.7" fill="#a3b575"/>
<rect x="1227.4" y="434.8" width="10" height="3.4" fill="#e6e6e6"/>
<rect x="1227.4" y="438.2" width="10" height="3.4" fill="#efefef"/>
<rect x="1227.4" y="441.6" width="10" height="3.4" fill="#e9e9e9"/>
<rect x="1227.4" y="445" width="10" height="3.4" fill="#f3f3f3"/>
<rect x="1227.4" y="448.4" width="10" height="0.7" fill="#e6e6e6"/>
<rect x="1239.6" y="382.2" width="10" height="31.9" fill="#a6dd9b"/>
<rect x="1239.6" y="414.1" width="10" height="20.7" fill="#a3b575"/>
<rect x="1239.6" y="434.8" width="10" height="3.4" fill="#e6e6e6"/>
<rect x="1239.6" y="438.2" width="10" height="3.4" fill="#efefef"/>
<rect x="1239.6" y="441.6" width="10" height="3.4" fill="#e9e9e9"/>
<rect x="1239.6" y="445" width="10" height="3.4" fill="#f3f3f3"/>
<rect x="1239.6" y="448.4" width="10" height="0.7" fill="#e6e6e6"/>
<rect x="1251.7" y="382.2" width="10" height="31.9" fill="#a6dd9b"/>
<rect x="1251.7" y="414.1" width="10" height="20.7" fill="#a3b575"/>
<rect x="1251.7" y="434.8" width="10" height="3.4" fill="#e6e6e6"/>
<rect x="1251.7" y="438.2" width="10" height="3.4" fill="#efefef"/>
<rect x="1251.7" y="441.6" width="10" height="3.4" fill="#e9e9e9"/>
<rect x="1251.7" y="445" width="10" height="3.4" fill="#f3f3f3"/>
<rect x="1251.7" y="448.4" width="10" height="0.7" fill="#e6e6e6"/>
<rect x="1263.9" y="382.2" width="10" height="31.9" fill="#a6dd9b"/>
<rect x="1263.9" y="414.1" width="10" height="20.7" fill="#a3b575"/>
<rect x="1263.9" y="434.8" width="10" height="3.4" fill="#e6e6e6"/>
<rect x="1263.9" y="438.2" width="10" height="3.4" fill="#efefef"/>
<rect x="1263.9" y="441.6" width="10" height="3.4" fill="#e9e9e9"/>
<rect x="1263.9" y="445" width="10" height="3.4" fill="#f3f3f3"/>
<rect x="1263.9" y="448.4" width="10" height="0.7" fill="#e6e6e6"/>
<rect x="1276.1" y="382.2" width="10" height="31" fill="#a6dd9b"/>
<rect x="1276.1" y="413.2" width="10" height="19.2" fill="#a3b575"/>
<rect x="1276.1" y="432.4" width="10" height="3.4" fill="#e6e6e6"/>
<rect x="1276.1" y="435.8" width="10" height="3.4" fill="#efefef"/>
<rect x="1276.1" y="439.2" width="10" height="3.4" fill="#e9e9e9"/>
<rect x="1276.1" y="442.6" width="10" height="3.4" fill="#f3f3f3"/>
<rect x="1276.1" y="446" width="10" height="2.5" fill="#e6e6e6"/>
<rect x="1288.3" y="382.2" width="10" height="31" fill="#a6dd9b"/>
<rect x="1288.3" y="413.2" width="10" height="17.7" fill="#a3b575"/>
<rect x="1288.3" y="430.9" width="10" height="3.4" fill="#e6e6e6"/>
<rect x="1288.3" y="434.3" width="10" height="3.4" fill="#efefef"/>
<rect x="1288.3" y="437.7" width="10" height="3.4" fill="#e9e9e9"/>
<rect x="1288.3" y="441.1" width="10" height="3.4" fill="#f3f3f3"/>
<rect x="1288.3" y="444.5" width="10" height="1.6" fill="#e6e6e6"/>
<rect x="1299.8" y="382.2" width="10" height="31" fill="#a6dd9b"/>
<rect x="1299.8" y="413.2" width="10" height="15.6" fill="#a3b575"/>
<rect x="1299.8" y="428.8" width="10" height="3.4" fill="#e6e6e6"/>
<rect x="1299.8" y="432.2" width="10" height="3.4" fill="#efefef"/>
<rect x="1299.8" y="435.6" width="10" height="3.4" fill="#e9e9e9"/>
<rect x="1299.8" y="439" width="10" height="3.4" fill="#f3f3f3"/>
<rect x="1299.8" y="442.4" width="10" height="2.2" fill="#e6e6e6"/>
<rect x="1312" y="382.2" width="10" height="31" fill="#a6dd9b"/>
<rect x="1312" y="413.2" width="10" height="13.1" fill="#a3b575"/>
<rect x="1312" y="426.3" width="10" height="3.4" fill="#e6e6e6"/>
<rect x="1312" y="429.7" width="10" height="3.4" fill="#efefef"/>
<rect x="1312" y="433.1" width="10" height="3.4" fill="#e9e9e9"/>
<rect x="1312" y="436.5" width="10" height="3.4" fill="#f3f3f3"/>
<rect x="1312" y="439.9" width="10" height="3.2" fill="#e6e6e6"/>
<rect x="1324.2" y="382.2" width="10" height="31" fill="#a6dd9b"/>
<rect x="1324.2" y="413.2" width="10" height="13.1" fill="#a3b575"/>
<rect x="1324.2" y="426.3" width="10" height="3.4" fill="#e6e6e6"/>
<rect x="1324.2" y="429.7" width="10" height="3.4" fill="#efefef"/>
<rect x="1324.2" y="433.1" width="10" height="3.4" fill="#e9e9e9"/>
<rect x="1324.2" y="436.5" width="10" height="3.4" fill="#f3f3f3"/>
<rect x="1336.1" y="382.2" width="10" height="31" fill="#a6dd9b"/>
<rect x="1336.1" y="413.2" width="10" height="3.4" fill="#e6e6e6"/>
<rect x="1336.1" y="416.6" width="10" height="3.4" fill="#efefef"/>
<rect x="1336.1" y="420" width="10" height="3.4" fill="#e9e9e9"/>
<rect x="1336.1" y="423.4" width="10" height="3.4" fill="#f3f3f3"/>
<rect x="1336.1" y="426.8" width="10" height="3.4" fill="#e6e6e6"/>
<rect x="1336.1" y="430.2" width="10" height="3.4" fill="#efefef"/>
<rect x="1336.1" y="433.6" width="10" height="0.3" fill="#e9e9e9"/>
<rect x="1348.2" y="382.2" width="10" height="31" fill="#a6dd9b"/>
<rect x="1348.2" y="413.2" width="10" height="3.4" fill="#e6e6e6"/>
<rect x="1348.2" y="416.6" width="10" height="3.4" fill="#efefef"/>
<rect x="1348.2" y="420" width="10" height="3.4" fill="#e9e9e9"/>
<rect x="1348.2" y="423.4" width="10" height="3.4" fill="#f3f3f3"/>
<rect x="1348.2" y="426.8" width="10" height="3.4" fill="#e6e6e6"/>
<rect x="1348.2" y="430.2" width="10" height="3.4" fill="#efefef"/>
<rect x="1348.2" y="433.6" width="10" height="0.3" fill="#e9e9e9"/>
<rect x="1360.1" y="382.2" width="10" height="31" fill="#a6dd9b"/>
<rect x="1360.1" y="413.2" width="10" height="5.5" fill="#e992ce"/>
<rect x="1360.1" y="418.7" width="10" height="3.4" fill="#e6e6e6"/>
<rect x="1360.1" y="422.1" width="10" height="3.4" fill="#efefef"/>
<rect x="1360.1" y="425.5" width="10" height="3.4" fill="#e9e9e9"/>
<rect x="1360.1" y="428.9" width="10" height="3.4" fill="#f3f3f3"/>
<rect x="1360.1" y="432.3" width="10" height="3.4" fill="#e6e6e6"/>
<rect x="1360.1" y="435.7" width="10" height="3.4" fill="#efefef"/>
<rect x="1360.1" y="439.1" width="10" height="0.9" fill="#e9e9e9"/>
<rect x="1372.3" y="382.2" width="10" height="31" fill="#a6dd9b"/>
<rect x="1372.3" y="413.2" width="10" height="5.5" fill="#e992ce"/>
<rect x="1372.3" y="418.7" width="10" height="3.4" fill="#e6e6e6"/>
<rect x="1372.3" y="422.1" width="10" height="3.4" fill="#efefef"/>
<rect x="1372.3" y="425.5" width="10" height="3.4" fill="#e9e9e9"/>
<rect x="1372.3" y="428.9" width="10" height="3.4" fill="#f3f3f3"/>
<rect x="1372.3" y="432.3" width="10" height="3.1" fill="#e6e6e6"/>
<rect x="1384.2" y="382.2" width="10" height="31" fill="#a6dd9b"/>
<rect x="1384.2" y="413.2" width="10" height="7" fill="#e992ce"/>
<rect x="1384.2" y="420.2" width="10" height="7.6" fill="#ffadab"/>
<rect x="1384.2" y="427.8" width="10" height="3.4" fill="#e6e6e6"/>
<rect x="1384.2" y="431.2" width="10" height="3.4" fill="#efefef"/>
<rect x="1384.2" y="434.6" width="10" height="3.4" fill="#e9e9e9"/>
<rect x="1384.2" y="438" width="10" height="3.4" fill="#f3f3f3"/>
<path d="M270,679.7 L270.6,679.2 L271.1,678.5 L271.4,673.5 L272,673.3 L272.6,672.7 L273.1,672.7 L273.6,672.2 L274.1,672.2 L274.7,670.8 L275.3,669.7 L275.9,670.4 L276.4,671.2 L276.9,671 L277.5,670.9 L278,671.5 L278.5,671.9 L279,672.9 L279.4,672.4 L279.9,672.2 L280.4,673.7 L281,674.8 L281.5,674.1 L282,673.5 L282.5,672.9 L283,672.5 L283.5,672.4 L284,671.7 L284.5,671.7 L285,671.7 L285.5,672.1 L286,672.2 L286.5,672.9 L287,673.7 L287.5,674.2 L288,674.6 L288.4,675 L288.9,675.2 L289.3,675.5 L289.8,675.6 L290.2,676 L290.7,676 L291.2,676 L291.6,676.2 L292.1,676.4 L292.5,676.6 L293,676.9 L293.4,677.2 L293.9,677.2 L294.4,677.6 L294.9,678 L295.4,678.4 L295.9,678.9 L296.4,679.4 L296.9,679.8 L297.4,679.2 L298,678.5 L298.5,677.8 L298.9,676.9 L299.4,675.6 L299.8,674.6 L300.3,673.5 L300.9,674.4 L301.5,675.8 L302,675.6 L302.5,675.6 L303,675.8 L303.5,676 L304,676.3 L304.5,676.8 L305,676.9 L305.5,676.9 L305.9,676.9 L306.4,676.8 L306.8,676.8 L307.3,677.1 L307.8,677.4 L308.3,677.5 L308.8,677.7 L309.3,677.9 L309.7,678 L310.2,678.1 L310.6,678.3 L311.1,677.8 L311.5,677.2 L312,676.7 L312.5,675.9 L312.9,675.3 L313.4,675.5 L313.8,675.6 L314.3,675.9 L314.7,675.9 L315.2,676.2 L315.6,676.6 L316.1,676.7 L316.6,676.9 L317,677.3 L317.5,677.5 L317.9,677.5 L318.4,677.7 L318.8,678 L319.3,678 L319.8,678.3 L320.2,678.8 L320.7,679 L321.1,679.5 L321.6,679.8 L322,680.1 L322.5,679.5 L323,679 L323.6,678.5 L324.1,679 L324.6,679 L325.1,679.2 L325.5,679.4 L326,679.6 L326.4,679.6 L326.9,679.7 L327.4,679.7 L327.9,680 L328.4,680.2 L328.9,680.5 L329.4,680.8 L329.9,681.1 L330.4,681.5 L330.9,681.9 L331.4,682.1 L331.9,682.5 L332.4,682.7 L332.9,683 L333.4,683.5 L333.9,682.9 L334.4,682.2 L334.8,681.6 L335.3,680.8 L335.8,680.9 L336.3,680.9 L336.7,681.1 L337.2,681.1 L337.8,681.5 L338.3,681.7 L338.8,682.2 L339.3,682.6 L339.8,683 L340.3,683.5 L340.7,683.6 L341.2,683.9 L341.7,684.2 L342.1,684.3 L342.6,684.3 L343,684.3 L343.5,684.5 L343.9,684.6 L344.4,684.7 L344.8,684.9 L345.3,684.4 L345.8,683.9 L346.2,683.4 L346.7,682.8 L347.1,682 L347.6,682.2 L348,682.1 L348.5,682.3 L349,682.4 L349.4,682.8 L349.9,681.4 L350.4,680.5 L350.9,679.3 L351.4,679.4 L351.8,679.6 L352.3,680 L352.8,679.9 L353.2,680 L353.7,680.7 L354.1,681.3 L354.6,682 L355,682.8 L355.6,683 L356.3,683.1 L356.8,683.1 L357.3,683 L357.8,683.2 L358.3,683.1 L358.8,683.2 L359.3,683 L359.8,683.2 L360.3,682.9 L360.8,683 L361.3,682.9 L361.8,683 L362.3,682.9 L362.8,683.4 L363.4,683.2 L363.9,683.4 L364.4,683.4 L364.9,683.4 L365.4,683.5 L365.9,683.6 L366.4,683.5 L366.9,683.8 L367.4,683.8 L367.9,683.6 L368.4,683.8 L368.9,684.2 L369.4,684.2 L369.9,684.3 L370.4,684.1 L371,683.9 L371.5,684 L372,683.9 L372.5,683.5 L373,683.5 L373.5,683.3 L374,683.5 L374.5,683.6 L375,683.4 L375.5,683.4 L376,683.8 L376.5,683.8 L377,683.6 L377.5,683.6 L378,683.7 L378.5,683.6 L379,683.8 L379.4,684.1 L379.9,684 L380.4,684.2 L380.9,684.4 L381.3,684.5 L381.8,684.3 L382.3,684.2 L382.8,684 L383.3,683.9 L383.7,683.7 L384.2,683.4 L384.7,683.2 L385.2,683.1 L385.7,683.6 L386.2,684 L386.7,684.3 L387.2,684.4 L387.7,684.3 L388.2,684.5 L388.7,684.4 L389.2,684.5 L389.7,684.6 L390.2,684.5 L390.7,684.6 L391.2,684.7 L391.7,684.6 L392.2,684.5 L392.8,684.6 L393.3,684.5 L393.8,684.2 L394.3,684.3 L394.8,684.3 L395.3,684.4 L395.8,684.3 L396.3,684.4 L396.8,684.1 L397.3,684.1 L397.8,684.3 L398.3,684.2 L398.8,684.1 L399.3,683.9 L399.9,684.1 L400.4,684.1 L400.9,684 L401.4,684 L401.9,684.1 L402.4,684.1 L402.9,684.2 L403.4,684.2 L403.9,684.2 L404.4,684.2 L404.9,684.1 L405.4,684 L405.9,684.2 L406.4,684.3 L407,684.2 L407.5,684.4 L408,684.3 L408.5,684.4 L409,684.3 L409.5,684.3 L410,684.2 L410.5,684.4 L411,684.6 L411.5,684.6 L412,684.7 L412.5,684.8 L413,684.8 L413.5,685 L414,684.9 L414.6,685 L415.1,685 L415.6,685.2 L416.1,685 L416.6,685 L417.1,685.1 L417.6,685 L418.1,685 L418.5,685 L419,685 L419.5,685 L420,684.9 L420.5,684.8 L421,685 L421.5,684.9 L422,684.8 L422.5,684.7 L423,684.6 L423.5,684.9 L424.1,684.7 L424.6,684.8 L425,684.8 L425.5,685 L425.9,684.9 L426.4,685.1 L426.8,685.3 L427.4,685 L427.9,684.7 L428.4,684.9 L428.9,684.5 L429.4,684.5 L429.9,684.1 L430.4,683.9 L430.9,683.7 L431.4,683.5 L431.9,683.1 L432.4,682.6 L432.9,682.1 L433.4,682.6 L433.9,682.9 L434.4,683.1 L435,682.8 L435.5,682.6 L436,682.3 L436.5,682.5 L437,682.7 L437.5,682.8 L438,682.8 L438.5,683.1 L439,683.3 L439.5,682.5 L439.9,681.9 L440.4,681.1 L440.8,680.2 L441.3,679.7 L441.8,679.6 L442.3,680 L442.8,679.8 L443.3,679.9 L443.8,680.1 L444.3,680.1 L444.8,680.6 L445.2,680.9 L445.7,681.5 L446.2,681.7 L446.6,682.1 L447.1,682.1 L447.6,681.9 L448.1,682.1 L448.6,681.9 L449.2,682.1 L449.7,682 L450.2,681.3 L450.7,680.8 L451.2,679.9 L451.7,679.2 L452.2,678.4 L452.7,677.8 L453.2,677.8 L453.6,677.4 L454.1,677.4 L454.5,677.1 L455,677.2 L455.4,676.7 L455.9,676.3 L456.3,675.7 L456.8,675.4 L457.3,674.8 L457.8,674.1 L458.3,673.4 L458.8,673.2 L459.3,672.4 L459.8,671.4 L460.3,670.9 L460.8,674.2 L461.3,677 L461.8,680.1 L462.3,680 L462.7,679.6 L463.2,679.6 L463.7,679.4 L464.1,679.2 L464.6,678.8 L465.1,678.3 L465.6,677.8 L466.1,678.1 L466.6,678.3 L467.1,678.5 L467.7,678.9 L468.2,679.2 L468.7,679.2 L469.1,678.5 L469.6,677.9 L470,677.4 L470.5,676.5 L471,676 L471.5,676 L472,675.6 L472.5,675.5 L473,675.5 L473.5,675.2 L474,675.2 L474.5,675 L475,674.6 L475.5,674.2 L476,673.9 L476.5,673.6 L477,673.5 L477.6,672.9 L478.1,672.6 L478.6,671.6 L479.1,671.3 L479.6,670.7 L480.1,671.9 L480.6,673.2 L481.1,674.5 L481.6,675.5 L482.1,676.8 L482.5,676 L483,675.3 L483.4,674.5 L483.9,673.5 L484.3,672.9 L484.8,672.1 L485.2,671.6 L485.7,670.9 L486.2,671.8 L486.7,672.9 L487.2,674.2 L487.7,675.2 L488.1,674.8 L488.6,674.7 L489,674.4 L489.5,673.6 L490,673.5 L490.5,673.8 L491,674.2 L491.5,674.8 L492,675.7 L492.5,676.7 L493,677.5 L493.5,677.3 L494,677.2 L494.5,677.3 L495,677.4 L495.5,677.2 L496,677.2 L496.5,677.8 L497,678.2 L497.4,678.7 L497.9,679.3 L498.3,679.8 L498.8,679 L499.3,678.5 L499.8,677.7 L500.4,676.9 L500.9,676.2 L501.4,675.5 L501.9,675.2 L502.5,675.2 L503,674.4 L503.6,674 L504.1,673.9 L504.6,674.4 L505.1,675 L505.7,675.4 L506.2,675.9 L506.7,676.5 L507.2,676.7 L507.7,677 L508.2,677.1 L508.7,677.6 L509.2,678.1 L509.7,678.2 L510.2,677.8 L510.6,677.7 L511.1,677.3 L511.6,677.1 L512,676.7 L512.5,676.8 L512.9,677.1 L513.4,677.2 L513.8,677.5 L514.3,677.8 L514.8,677.6 L515.2,677.4 L515.7,677.5 L516.1,677.2 L516.6,677 L517.1,677.3 L517.5,677.6 L518,677.5 L518.5,677.8 L519,678 L519.4,678.3 L519.9,678.7 L520.4,678.8 L520.9,678.5 L521.4,678.4 L521.9,677.9 L522.4,677.2 L522.9,677 L523.4,676.5 L523.9,676.9 L524.4,677.1 L524.9,677.7 L525.4,677.9 L526,678.1 L526.5,678.5 L527,678.2 L527.5,677.9 L528,677.7 L528.5,677.1 L529,677.1 L529.5,676.8 L530,677 L530.5,677 L531,677.2 L531.5,677.4 L532,677.7 L532.5,677.8 L533.1,678 L533.6,678.1 L534.1,678.4 L534.6,678.7 L535.1,679 L535.6,679.2 L536.1,679.2 L536.6,679.3 L537.1,679.1 L537.6,679.3 L538.1,679.4 L538.6,679.3 L539.1,679.7 L539.6,680 L540.2,680.3 L540.7,680.7 L541.2,681.1 L541.7,681.5 L542.2,681.3 L542.7,681.2 L543.2,681 L543.7,680.9 L544.2,680.8 L544.7,680.5 L545.2,680.5 L545.7,680.6 L546.1,680.4 L546.6,680.2 L547.1,680.3 L547.6,680.4 L548,680.6 L548.5,680.5 L549,680.1 L549.5,679.6 L550,679.4 L550.5,679.3 L551.1,678.8 L551.6,678.5 L552,678.8 L552.5,679 L552.9,679.2 L553.4,679.3 L553.8,679.5 L554.3,679.5 L554.8,679.8 L555.2,680 L555.7,680.1 L556.1,680.1 L556.6,680.1 L557.1,680.2 L557.6,680.3 L558.1,680.2 L558.7,680.1 L559.2,680.1 L559.7,680.5 L560.2,680.6 L560.7,681 L561.2,681.3 L561.7,681.4 L562.2,681.6 L562.7,682 L563.2,682.3 L563.7,682.6 L564.2,682.5 L564.7,682.4 L565.2,682 L565.6,682 L566.1,681.8 L566.6,681.7 L567.1,681.3 L567.5,681.3 L568,681.3 L568.5,681.2 L569,681.3 L569.6,681.2 L570.1,680.9 L570.6,680.9 L571.1,680.7 L571.6,680.7 L572.1,680.8 L572.5,680.8 L573,681 L573.5,680.9 L573.9,680.8 L574.4,681 L575,682.1 L575.5,682.3 L575.9,682.6 L576.4,682.9 L576.8,683.1 L577.3,683.3 L577.8,683.1 L578.3,683 L578.8,682.6 L579.3,682.5 L579.8,682.3 L580.3,682.1 L580.8,682.1 L581.3,682 L581.7,681.9 L582.2,681.9 L582.7,682.1 L583.2,681.9 L583.7,681.9 L584.1,681.8 L584.6,681.5 L585.1,681.3 L585.6,681.5 L586.2,681.3 L586.7,681.1 L587.2,680.8 L587.7,680.7 L588.2,680.9 L588.7,680.9 L589.2,681.1 L589.7,681 L590.2,681.1 L590.7,681.2 L591.2,681 L591.7,681.1 L592.3,680.7 L592.8,680.6 L593.4,680.6 L593.9,680.2 L594.5,680 L595,680.2 L595.5,680.6 L596,680.8 L596.5,681.3 L597.1,681.5 L597.6,681.3 L598.1,681.4 L598.6,681.3 L599.1,681.6 L599.6,681.5 L600.1,681.6 L600.6,681.5 L601.1,681.4 L601.6,681.5 L602.1,681.3 L602.6,681.3 L603,681.2 L603.5,681.1 L604,681.2 L604.5,681 L604.9,680.9 L605.4,680.8 L605.9,680.9 L606.3,680.9 L606.8,680.8 L607.2,681 L607.7,681 L608.2,681 L608.6,681.1 L609.1,681.2 L609.5,681.4 L610,681.5 L610.5,681.5 L610.9,681.4 L611.4,681.7 L611.9,681.7 L612.4,682 L612.8,682 L613.3,682 L613.8,682 L614.2,681.5 L614.7,681.6 L615.2,681.4 L615.6,681 L616.1,680.8 L616.5,680 L617,679.1 L617.4,678.2 L617.9,677.3 L618.3,676.5 L618.9,676.3 L619.4,676.4 L619.9,675.8 L620.4,675.3 L620.9,675 L621.3,674.2 L621.8,673.7 L622.3,673.8 L622.8,673.8 L623.2,674.1 L623.7,674.2 L624.2,675.4 L624.7,676.5 L625.2,677.7 L625.6,677 L626.1,676.6 L626.6,676.1 L627,675.6 L627.5,674.8 L628,674.7 L628.5,674.7 L629,674.5 L629.5,675 L630,675.5 L630.5,676.2 L631,676.6 L631.5,677 L632,677.7 L632.5,677.5 L632.9,677 L633.4,676.8 L633.9,676.7 L634.3,676.3 L634.8,676.2 L635.3,676 L635.8,676 L636.3,676 L636.9,676 L637.4,675.8 L637.9,675.7 L638.4,675.1 L638.9,674.9 L639.4,674.7 L639.9,674.5 L640.4,674.2 L640.9,674.2 L641.3,674.3 L641.8,674.1 L642.2,674 L642.7,673.9 L643.2,673.6 L643.7,673.1 L644.2,672.5 L644.7,672 L645.1,672.7 L645.6,672.9 L646,673.4 L646.5,673.9 L647,673.5 L647.4,673.2 L647.9,673.1 L648.4,672.9 L648.9,672.4 L649.4,672.1 L649.8,671.9 L650.4,673 L651,673.2 L651.5,673 L652,673 L652.4,673 L652.9,672.8 L653.3,672.7 L653.8,673.8 L654.3,674.8 L654.8,675.5 L655.3,675.4 L655.8,675.6 L656.2,675.5 L656.7,675.6 L657.1,675.7 L657.6,675.4 L658,675.2 L658.5,675 L659,675 L659.4,674.8 L659.9,675.6 L660.4,676.1 L660.9,677 L661.4,677.5 L661.9,678.2 L662.5,679 L662.9,678.6 L663.4,678.1 L663.8,678.1 L664.3,677.7 L664.7,677.3 L665.2,677.4 L665.7,677.6 L666.3,677.7 L666.8,677.2 L667.3,677.5 L667.8,677.5 L668.2,677.5 L668.7,677.2 L669.1,677.1 L669.6,677.1 L670.1,677 L670.5,676.5 L671,676 L671.4,675.8 L671.9,675.5 L672.3,674.8 L672.8,674.2 L673.3,673.5 L673.7,672.7 L674.2,672.2 L674.6,671.5 L675.1,672.2 L675.6,673.2 L676.1,673.9 L676.6,673.9 L677.1,673.9 L677.5,673.5 L678,673.7 L678.4,673.4 L678.9,673.5 L679.4,673.6 L679.9,673.8 L680.4,673.9 L681,673.9 L681.5,673.9 L681.9,674.2 L682.4,674.7 L682.8,675.3 L683.3,675.6 L683.7,676.2 L684.2,675.7 L684.7,675.1 L685.1,674.7 L685.6,674.2 L686,673.9 L686.5,673.6 L687,673.8 L687.5,673.9 L688,674.3 L688.5,674.8 L688.9,675.2 L689.4,675.9 L689.8,676.2 L690.3,676.5 L690.7,676.6 L691.2,676.9 L691.7,677.2 L692.1,677.5 L692.6,677.8 L693,678.2 L693.5,678.5 L693.9,678.6 L694.4,679 L694.9,678.8 L695.4,678.8 L695.9,678.7 L696.4,678.8 L696.9,678.7 L697.4,678.7 L697.9,678.3 L698.3,678.2 L698.8,677.9 L699.3,677.8 L699.7,677.5 L700.2,677.7 L700.7,678.4 L701.2,678.8 L701.7,679 L702.2,679.4 L702.8,679.8 L703.2,680.1 L703.7,680.7 L704.1,680.8 L704.6,681.2 L705,681.5 L705.6,682.7 L706.1,684 L706.7,683.6 L707.2,683.3 L707.7,682.9 L708.3,682.5 L708.8,682.1 L709.3,682.1 L709.8,681.8 L710.2,681.7 L710.7,681.8 L711.1,681.8 L711.6,681.1 L712.1,680.5 L712.6,679.8 L713.1,679.3 L713.7,678.3 L714.2,677.8 L714.7,678.1 L715.2,678 L715.7,678.1 L716.2,678.5 L716.7,678.6 L717.2,678.8 L717.7,678.6 L718.2,678.8 L718.7,678.4 L719.2,678.4 L719.7,678.3 L720.2,678 L720.8,678.5 L721.3,678.8 L721.8,679.1 L722.3,679.5 L722.8,679.9 L723.3,680.1 L723.8,679.6 L724.3,679.4 L724.8,678.9 L725.3,678.6 L725.8,678.2 L726.3,678 L726.8,678.1 L727.3,678 L727.8,678.3 L728.2,678.1 L728.7,678.3 L729.2,678.4 L729.7,678.4 L730.1,678.5 L730.7,678.5 L731.2,678.7 L731.7,678.5 L732.3,678.7 L732.7,678.8 L733.2,678.8 L733.7,678.9 L734.1,678.8 L734.6,678.8 L735,678.8 L735.5,679 L735.9,679.3 L736.4,679.5 L736.8,679.7 L737.4,679.9 L737.9,680.3 L738.4,680.3 L738.9,680.6 L739.4,680.8 L739.9,681 L740.3,680.8 L740.8,680.5 L741.3,680.1 L741.7,680 L742.2,679.8 L742.6,679.7 L743.1,679.9 L743.5,679.7 L744,680.2 L744.4,680 L744.9,680.3 L745.4,680.9 L745.8,681.6 L746.3,682.3 L746.7,682.6 L747.2,682.3 L747.7,682 L748.3,681.7 L748.8,681.6 L749.3,681.6 L749.8,681.3 L750.3,681.1 L750.8,681.1 L751.3,680.9 L751.8,681 L752.3,680.9 L752.8,680.8 L753.3,680.7 L753.8,680.8 L754.3,680.6 L754.8,680.9 L755.3,680.7 L755.9,680.7 L756.4,680.2 L756.9,680.3 L757.4,680.1 L757.9,680.3 L758.4,680.5 L758.9,680.6 L759.4,680.9 L759.9,681.1 L760.4,681 L760.9,681.1 L761.4,681.2 L761.9,681.5 L762.4,681.3 L763,681.3 L763.5,680.8 L764,680.7 L764.5,680.6 L765,680.5 L765.5,680.5 L765.9,680.9 L766.4,680.8 L766.9,680.9 L767.4,681 L767.8,681.3 L768.3,681.6 L768.8,681.6 L769.3,681.6 L769.7,681.3 L770.2,681.5 L770.7,681.7 L771.2,681.3 L771.6,681.3 L772.1,681.3 L772.6,681.1 L773.1,681.3 L773.6,681.3 L774.1,681.6 L774.6,681.6 L775.1,681.5 L775.6,681.6 L776.1,681.4 L776.6,681.1 L777.1,681.2 L777.7,681.1 L778.2,681 L778.7,681 L779.2,681.1 L779.7,681.2 L780.2,681.3 L780.7,681.4 L781.2,681.6 L781.7,681.6 L782.2,681.8 L782.7,682 L783.2,682.1 L783.7,682 L784.2,681.9 L784.8,681.9 L785.3,681.5 L785.8,681.4 L786.3,681.3 L786.7,681.3 L787.2,681.4 L787.7,681.3 L788.2,681.2 L788.7,681.6 L789.1,681.4 L789.6,681.2 L790.1,681.3 L790.5,681.7 L791,682 L791.4,682.6 L791.9,682.7 L792.4,683.1 L792.9,683.1 L793.4,683.1 L793.9,682.8 L794.4,682.9 L794.9,682.8 L795.4,682.8 L795.9,683 L796.3,683.2 L796.8,683.4 L797.3,683.5 L797.8,683.5 L798.3,683.9 L798.7,684 L799.2,684.1 L799.7,684 L800.2,684.1 L800.6,684 L801.1,684.1 L801.6,684 L802.1,684 L802.5,683.9 L803,683.8 L803.5,683.4 L803.9,683.3 L804.4,683 L804.8,682.5 L805.3,682.1 L805.7,682.2 L806.2,682.3 L806.7,682.6 L807.1,682.6 L807.6,682.8 L808,682.6 L808.5,682.2 L808.9,681.8 L809.4,681.6 L809.8,681.5 L810.4,681.6 L810.9,681.5 L811.4,681.5 L811.9,681.6 L812.4,682 L812.9,682 L813.3,682.2 L813.8,682.4 L814.3,682.4 L814.7,682.4 L815.2,682.6 L815.7,682.6 L816.2,682.6 L816.7,682.6 L817.2,682.2 L817.7,682.3 L818.2,682.3 L818.7,682.2 L819.2,682 L819.7,682 L820.2,682 L820.7,681.9 L821.3,681.6 L821.7,681.9 L822.2,682 L822.6,682.3 L823.1,682.5 L823.5,682.6 L824,682.6 L824.5,682.6 L825,682.7 L825.4,682.9 L825.9,683 L826.4,682.9 L826.9,682.9 L827.3,683 L827.8,683 L828.4,683.2 L828.9,683.3 L829.4,683.3 L829.9,683.3 L830.4,683.5 L830.8,683.6 L831.3,683.4 L831.7,683.5 L832.2,683.5 L832.7,683.8 L833.1,683.5 L833.6,683.3 L834,683 L834.5,682.7 L834.9,682.5 L835.4,682.6 L836,682.3 L836.5,682.3 L837,682.1 L837.5,682.4 L838,682.3 L838.5,682.3 L839,682.3 L839.4,682.3 L839.9,682.4 L840.4,682.3 L840.9,682.4 L841.4,682.5 L841.9,682.5 L842.3,682.5 L842.8,682.5 L843.3,682.5 L843.8,682.9 L844.2,683.4 L844.7,683.6 L845.1,683.8 L845.6,684.1 L846.1,684.5 L846.6,684.4 L847.1,684.4 L847.6,684.6 L848.1,684.6 L848.6,684.9 L849.1,685.1 L849.6,685.5 L850.2,685.4 L850.7,685.7 L851.2,685.6 L851.7,685.9 L852.2,685.8 L852.7,685.7 L853.2,685.5 L853.7,685.6 L854.2,685.5 L854.7,685.4 L855.2,685.4 L855.7,685.6 L856.2,685.4 L856.7,685.7 L857.2,685.7 L857.8,685.6 L858.3,685.7 L858.8,685.9 L859.3,686 L859.8,686 L860.3,686.3 L860.8,686.3 L861.3,686.4 L861.7,686.5 L862.2,686.3 L862.7,686.7 L863.2,686.8 L863.7,687 L864.1,687 L864.6,687.1 L865.1,686.9 L865.6,686.8 L866,686.6 L866.5,686.9 L867,686.8 L867.5,686.6 L867.9,686.5 L868.4,686.4 L868.9,686.6 L869.4,686.6 L869.8,686.5 L870.3,686.5 L870.8,686.7 L871.3,686.7 L871.7,686.8 L872.2,686.9 L872.7,687 L873.2,686.9 L873.6,687.1 L874.1,687 L874.6,686.7 L875.1,687 L875.5,686.9 L876,686.9 L876.5,686.8 L877,686.7 L877.4,686.6 L877.9,686.6 L878.4,686.6 L878.9,686.4 L879.3,686.4 L879.8,686.4 L880.3,686.1 L880.7,686.2 L881.2,685.8 L881.6,685.7 L882.1,685.6 L882.5,685.8 L883,685.9 L883.4,685.9 L883.9,685.9 L884.4,686 L884.8,685.9 L885.3,685.7 L885.8,685.8 L886.3,686 L886.8,685.7 L887.3,685.8 L887.7,685.9 L888.2,685.8 L888.7,685.8 L889.2,685.8 L889.7,685.7 L890.2,685.7 L890.7,685.8 L891.1,685.7 L891.6,685.6 L892.1,685.9 L892.6,685.7 L893.1,686.1 L893.6,685.9 L894,685.9 L894.5,686 L895,685.9 L895.5,685.9 L896,685.9 L896.5,685.8 L897,685.8 L897.6,685.7 L898.1,685.9 L898.6,685.7 L899.1,685.7 L899.6,685.8 L900.1,685.8 L900.7,685.7 L901.2,685.6 L901.7,685.6 L902.2,685.7 L902.7,685.7 L903.2,685.7 L903.8,685.7 L904.3,685.7 L904.8,685.6 L905.3,685.6 L905.8,685.6 L906.3,685.7 L906.9,685.8 L907.4,685.7 L907.9,685.6 L908.4,685.6 L908.9,685.8 L909.4,685.8 L910,685.7 L910.5,685.8 L911,685.8 L911.5,685.9 L912,685.8 L912.4,685.6 L912.9,685.9 L913.4,685.7 L913.9,685.4 L914.4,685.6 L914.9,685.6 L915.4,685.8 L915.8,685.7 L916.3,685.8 L916.8,685.7 L917.3,685.5 L917.8,685.4 L918.3,685.3 L918.7,684.9 L919.2,684.9 L919.7,684.8 L920.2,684.6 L920.7,684.4 L921.2,684.5 L921.6,684.7 L922.1,684.9 L922.6,684.5 L923.1,684.6 L923.6,685 L924.1,685.3 L924.6,685.4 L925,685.6 L925.5,685.5 L926,685.5 L926.5,685.3 L927,685.2 L927.5,685.1 L927.9,685.5 L928.4,685.3 L928.9,685 L929.4,685.1 L929.9,684.9 L930.4,684.8 L930.8,684.8 L931.3,684.8 L931.8,684.6 L932.3,684.7 L932.8,684.6 L933.3,684.5 L933.8,684.5 L934.2,684.4 L934.7,684.5 L935.2,684.5 L935.7,684.5 L936.2,684.5 L936.7,684.6 L937.1,684.8 L937.6,684.9 L938.1,685 L938.6,685 L939.1,685.1 L939.6,685 L940,685.1 L940.5,685 L941,685.1 L941.5,685.1 L942,685 L942.5,684.9 L943,684.9 L943.4,684.9 L943.9,684.8 L944.4,684.9 L944.9,684.8 L945.4,684.6 L945.9,684.7 L946.3,684.6 L946.8,684.6 L947.4,684 L947.9,683.9 L948.4,683.9 L948.9,683.9 L949.4,683.8 L949.9,683.8 L950.4,683.7 L950.9,683.7 L951.4,683.7 L951.9,683.6 L952.4,683.6 L952.9,683.5 L953.4,683.5 L953.9,683.5 L954.4,683.4 L954.9,683.4 L955.4,683.3 L955.9,683.3 L956.4,683.2 L956.9,683.2 L957.4,683.2 L957.9,683.1 L958.4,683.1 L958.9,683 L959.4,683 L959.9,683 L960.4,682.9 L960.9,682.9 L961.4,682.8 L961.9,682.8 L962.4,682.7 L962.9,682.7 L963.4,682.7 L963.9,682.6 L964.4,682.6 L964.9,682.5 L965.4,682.5 L965.9,682.5 L966.4,682.4 L966.9,682.4 L967.4,682.3 L967.9,682.3 L968.4,682.3 L968.9,682.2 L969.4,682.2 L969.9,682.1 L970.4,682.1 L970.9,682 L971.4,682 L971.9,682 L972.4,681.9 L972.9,681.9 L973.4,681.8 L973.9,681.8 L974.4,681.8 L974.9,681.7 L975.4,681.7 L975.9,681.6 L976.4,681.6 L976.9,681.5 L977.4,681.5 L977.9,681.5 L978.4,681.4 L978.9,681.4 L979.4,681.3 L979.9,681.3 L980.4,681.3 L980.9,681.2 L981.4,681.2 L981.9,681.1 L982.4,681.1 L982.9,681.1 L983.4,681 L983.9,681 L984.4,680.9 L984.9,680.9 L985.4,680.8 L985.9,680.8 L986.4,680.8 L986.9,680.7 L987.4,680.7 L987.9,680.6 L988.4,680.6 L988.9,680.6 L989.4,680.5 L989.9,680.5 L990.4,680.4 L990.9,680.4 L991.4,680.4 L991.9,680.3 L992.4,680.3 L992.9,680.2 L993.4,680.2 L993.9,680.1 L994.4,680.1 L994.9,680.1 L995.4,680 L995.9,680 L996.4,679.9 L996.9,679.9 L997.4,679.9 L997.9,679.8 L998.4,679.8 L998.9,679.7 L999.4,679.7 L999.9,679.6 L1000.4,679.6 L1000.9,679.6 L1001.4,679.5 L1001.9,679.5 L1002.4,679.4 L1002.9,679.4 L1003.4,679.4 L1003.9,679.3 L1004.4,679.3 L1004.9,679.2 L1005.4,679.2 L1005.9,679.2 L1006.4,679.1 L1006.9,679.1 L1007.4,679 L1007.9,679 L1008.4,678.9 L1008.9,678.9 L1009.4,678.9 L1009.9,678.8 L1010.4,678.8 L1010.9,678.7 L1011.4,678.7 L1011.9,678.7 L1012.4,678.6 L1012.9,678.6 L1013.4,678.5 L1013.9,678.5 L1014.4,678.4 L1014.9,678.4 L1015.4,678.4 L1015.9,678.3 L1016.4,678.3 L1016.9,678.2 L1017.4,678.2 L1017.9,678.2 L1018.4,678.1 L1018.9,678.1 L1019.4,678 L1019.9,678 L1020.4,678 L1020.9,677.9 L1021.4,677.9 L1021.9,677.8 L1022.4,677.8 L1022.9,677.7 L1023.4,677.7 L1023.9,677.7 L1024.4,677.6 L1024.9,677.6 L1025.4,677.5 L1025.9,677.5 L1026.4,677.5 L1026.9,677.4 L1027.4,677.4 L1027.9,677.3 L1028.4,677.3 L1028.9,677.3 L1029.4,677.2 L1029.9,677.2 L1030.4,677.1 L1030.9,677.1 L1031.4,677 L1031.9,677 L1032.4,677 L1032.9,676.9 L1033.4,676.9 L1033.9,676.8 L1034.4,676.8 L1034.9,676.8 L1035.4,676.7 L1035.9,676.7 L1036.4,676.6 L1036.9,676.6 L1037.4,676.5 L1037.9,676.5 L1038.4,676.5 L1038.9,676.4 L1039.4,676.4 L1039.9,676.3 L1040.4,676.3 L1040.9,676.3 L1041.4,676.2 L1041.9,676.2 L1042.4,676.1 L1042.9,676.1 L1043.4,676.1 L1043.9,676 L1044.4,676 L1044.9,675.9 L1045.4,675.9 L1045.9,675.8 L1046.4,675.8 L1046.9,675.8 L1047.4,675.7 L1047.9,675.7 L1048.4,675.6 L1048.9,675.6 L1049.4,675.6 L1049.9,675.5 L1050.4,675.5 L1050.9,675.4 L1051.4,675.4 L1051.9,675.3 L1052.4,675.3 L1052.9,675.3 L1053.4,675.2 L1053.9,675.2 L1054.4,675.1 L1054.9,675.1 L1055.4,675.1 L1055.9,675 L1056.4,675 L1056.9,674.9 L1057.4,674.9 L1057.9,674.9 L1058.4,674.8 L1058.9,674.8 L1059.4,674.7 L1059.9,674.7 L1060.4,674.6 L1060.9,674.6 L1061.4,674.6 L1061.9,674.5 L1062.4,674.5 L1062.9,674.4 L1063.4,674.4 L1063.9,674.4 L1064.4,674.3 L1064.9,674.3 L1065.4,674.2 L1065.9,674.2 L1066.4,674.2 L1066.9,674.1 L1067.4,674.1 L1067.9,674 L1068.4,674 L1068.9,673.9 L1069.4,673.9 L1069.9,673.9 L1070.4,673.8 L1070.9,673.8 L1071.4,673.7 L1071.9,673.7 L1072.4,673.7 L1072.9,673.6 L1073.4,673.6 L1073.9,673.5 L1074.4,673.5 L1074.9,673.4 L1075.4,673.4 L1075.9,673.4 L1076.4,673.3 L1076.9,673.3 L1077.4,673.2 L1077.9,673.2 L1078.4,673.2 L1078.9,673.1 L1079.4,673.1 L1079.9,673 L1080.4,673 L1080.9,673 L1081.4,672.9 L1081.9,672.9 L1082.4,672.8 L1082.9,672.8 L1083.4,672.7 L1083.9,672.7 L1084.4,672.7 L1084.9,672.6 L1085.4,672.6 L1085.9,672.5 L1086.4,672.5 L1086.9,672.5 L1087.4,672.4 L1087.9,672.4 L1088.4,672.3 L1088.9,672.3 L1089.4,672.2 L1089.9,672.2 L1090.4,672.2 L1090.9,672.1 L1091.4,672.1 L1091.9,672 L1092.4,672 L1092.9,672 L1093.4,671.9 L1093.9,671.9 L1094.4,671.8 L1094.9,671.8 L1095.4,671.8 L1095.9,671.7 L1096.4,671.7 L1096.9,671.6 L1097.4,671.6 L1097.9,671.5 L1098.4,671.1 L1098.9,670.9 L1099.4,670.9 L1099.9,670.9 L1100.3,671 L1100.8,671.4 L1101.3,671.4 L1101.8,671.7 L1102.3,671.8 L1102.8,671.8 L1103.2,672.4 L1103.7,673.1 L1104.2,673.7 L1104.7,674.3 L1105.2,674.7 L1105.7,674.8 L1106.2,674.7 L1106.6,675.1 L1107.1,675.9 L1107.6,677.2 L1107.7,677.4 L1108.2,676.8 L1108.7,676.1 L1109.2,675.4 L1109.7,674.9 L1110.2,675.5 L1110.6,676 L1111.1,676.5 L1111.6,676.8 L1112.1,677.2 L1112.6,677.4 L1113.1,677.4 L1113.5,677.6 L1114,677.6 L1114.5,677.7 L1115,677.4 L1115.5,677.4 L1116,677.2 L1116.5,677.2 L1116.9,676.7 L1117.4,676.4 L1117.9,676.1 L1118.4,675.5 L1118.9,675.1 L1119.4,674.7 L1119.8,674.3 L1120.3,674.1 L1120.8,674.1 L1121.3,673.7 L1121.8,673.5 L1122.3,673.2 L1122.7,673.6 L1123.2,673.8 L1123.7,674.2 L1124.2,674.3 L1124.7,674.1 L1125.2,673.9 L1125.6,673.7 L1126.1,673.6 L1126.6,674.1 L1127.1,674.3 L1127.6,674.4 L1128.1,674.8 L1128.5,675.3 L1129,675.5 L1129.5,675.7 L1130,675.7 L1130.5,675.9 L1131,675.9 L1131.5,676 L1131.9,676.2 L1132.4,676.3 L1132.9,676.4 L1133.4,676.5 L1133.9,676.8 L1134.4,677.1 L1134.8,677.7 L1135.3,677.8 L1135.8,678.1 L1136.3,677.8 L1136.8,677.5 L1137.3,677.4 L1137.7,677.2 L1138.2,677 L1138.7,676.8 L1139.2,677.1 L1139.7,677.3 L1140.2,677.7 L1140.6,677.9 L1141.1,677.7 L1141.6,677.6 L1142.1,677 L1142.6,676.9 L1143.1,676.9 L1143.5,676.6 L1144,676.5 L1144.5,676.6 L1145,676.3 L1145.5,676 L1146,676 L1146.5,676 L1146.9,675.9 L1147.4,675.8 L1147.9,675.5 L1148.4,675.5 L1148.9,675.2 L1149.4,675.1 L1149.8,674.9 L1150.3,674.7 L1150.8,675.2 L1151.3,675.7 L1151.8,676.4 L1152.3,676.8 L1152.7,676.9 L1153.2,677.1 L1153.7,677.3 L1154.2,677.1 L1154.7,677.5 L1155.2,677.6 L1155.6,677.6 L1156.1,677.7 L1156.6,678.1 L1157.1,678 L1157.6,678.2 L1158.1,678.3 L1158.5,678.3 L1159,678.1 L1159.5,678.1 L1160,678 L1160.5,677.6 L1161,677.4 L1161.5,677.4 L1161.9,677.2 L1162.4,677.4 L1162.9,677.7 L1163.4,677.7 L1163.9,678 L1164.4,678 L1164.8,678.2 L1165.3,678.2 L1165.8,678.5 L1166.3,678.3 L1166.8,678 L1167.3,678 L1167.7,677.6 L1168.2,677.5 L1168.7,677.2 L1169.2,677.2 L1169.7,677.1 L1170.2,677.2 L1170.6,677.3 L1171.1,677 L1171.6,677 L1172.1,677.3 L1172.6,677.6 L1173.1,678 L1173.5,678.4 L1174,678.7 L1174.5,678.9 L1175,678.9 L1175.5,678.9 L1176,679 L1176.5,678.9 L1176.9,679.3 L1177.4,679.1 L1177.9,679.5 L1178.4,679.7 L1178.9,679.9 L1179.4,680.3 L1179.8,680.5 L1180.3,681 L1180.8,681.3 L1181.3,681.6 L1181.8,681.9 L1182.3,682.4 L1182.7,682.7 L1183.2,683.1 L1183.7,683 L1184.2,683 L1184.7,682.8 L1185.2,682.8 L1185.6,682.8 L1186.1,682.5 L1186.6,682.5 L1187.1,682.5 L1187.6,682.4 L1188.1,682.3 L1188.5,682.2 L1189,682.1 L1189.5,682 L1190,681.6 L1190.5,681.6 L1191,681.4 L1191.5,681.4 L1191.9,681.3 L1192.4,681.5 L1192.9,681.2 L1193.4,681 L1193.9,681.1 L1194.4,681.1 L1194.8,681 L1195.3,681.2 L1195.8,681.4 L1196.3,681.3 L1196.8,681.6 L1197.3,681.8 L1197.7,681.9 L1198.2,682 L1198.7,682.2 L1199.2,682.5 L1199.7,682.4 L1200.2,682.6 L1200.6,682.9 L1201.1,682.9 L1201.6,682.6 L1202.1,682.5 L1202.6,682.3 L1203.1,682 L1203.5,681.9 L1204,681.6 L1204.5,681.7 L1205,681.4 L1205.5,681.2 L1206,681.1 L1206.5,681.3 L1206.9,681.6 L1207.4,681.2 L1207.9,681.4 L1208.4,681.5 L1208.9,681.4 L1209.4,681.4 L1209.8,681.6 L1210.3,681.8 L1210.8,681.9 L1211.3,682.3 L1211.8,682 L1212.3,682.2 L1212.7,682.3 L1213.2,682.5 L1213.7,682.4 L1214.2,682.2 L1214.7,682.2 L1215.2,682.1 L1215.6,681.9 L1216.1,681.7 L1216.6,681.8 L1217.1,681.7 L1217.6,681.6 L1218.1,681.8 L1218.5,681.5 L1219,681.6 L1219.5,681.6 L1220,681.5 L1220.5,681.6 L1221,681.4 L1221.4,680.9 L1221.9,680 L1222.3,679.3 L1222.8,679 L1223.3,678.6 L1223.8,678.2 L1224.3,677.6 L1224.8,677.4 L1225.3,678.2 L1225.8,678.9 L1226.3,678.9 L1226.8,678.9 L1227.3,678.9 L1227.8,678.9 L1228.3,678.9 L1228.8,678.9 L1229.3,678.9 L1229.8,678.9 L1230.3,678.9 L1230.8,679 L1231.3,679 L1231.8,679 L1232.3,679 L1232.8,679 L1233.3,679 L1233.8,679 L1234.3,679 L1234.8,679 L1235.3,679 L1235.8,679 L1236.3,679 L1236.8,679 L1237.3,679 L1237.8,679 L1238.4,679 L1238.9,679 L1239.4,679 L1239.9,679 L1240.4,679 L1240.9,679 L1241.4,679 L1241.9,679 L1242.4,679 L1242.9,679 L1243.4,679 L1243.9,679.1 L1244.4,679.1 L1244.9,679.1 L1245.4,679.1 L1245.9,679.1 L1246.4,679.1 L1246.9,679.1 L1247.4,679.1 L1247.9,679.1 L1248.4,679.1 L1248.9,679.1 L1249.4,679.1 L1249.9,679.1 L1250.4,679.1 L1250.9,679.1 L1251.4,679.1 L1251.9,679.1 L1252.4,679.1 L1252.9,679.1 L1253.4,679.1 L1253.9,679.1 L1254.4,679.1 L1254.9,679.1 L1255.4,679.1 L1255.9,679.1 L1256.4,679.1 L1256.9,679.2 L1257.4,679.2 L1257.9,679.2 L1258.4,679.2 L1258.9,679.2 L1259.4,679.2 L1259.9,679.2 L1260.4,679.2 L1260.9,679.2 L1261.4,679.2 L1261.9,679.2 L1262.4,679.2 L1262.9,679.2 L1263.4,679.2 L1263.9,679.2 L1264.4,679.2 L1264.9,679.2 L1265.4,679.2 L1265.9,679.2 L1266.5,679.2 L1267,679.2 L1267.5,679.2 L1268,679.2 L1268.5,679.2 L1269,679.2 L1269.5,679.3 L1270,679.3 L1270.5,679.3 L1271,679.3 L1271.5,679.3 L1272,679.3 L1272.5,679.3 L1273,679.3 L1273.5,679.3 L1274,679.3 L1274.5,679.3 L1275,679.3 L1275.5,679.3 L1276,679.3 L1276.5,679.3 L1277,679.3 L1277.5,679.3 L1278,679.3 L1278.5,679.3 L1279,679.3 L1279.5,679.3 L1280,679.3 L1280.6,679.3 L1281.1,677.9 L1281.7,676.9 L1282.2,675.5 L1282.7,675.7 L1283.1,675.8 L1283.6,675.8 L1284.1,675.9 L1284.6,676.1 L1285,676.2 L1285.5,676.3 L1286,676.5 L1286.5,676.7 L1286.9,676.9 L1287.4,677.1 L1287.9,677.3 L1288.4,677.6 L1288.8,677.7 L1289.4,677.2 L1289.9,676.4 L1290.5,676 L1291,675.3 L1291.5,675.4 L1292,675.2 L1292.5,675.1 L1292.9,675.1 L1293.4,675.1 L1293.9,675 L1294.4,674.8 L1294.8,674.9 L1295.3,674.9 L1295.8,675.3 L1296.3,675.4 L1296.7,675.5 L1297.2,675.8 L1297.7,676 L1298.2,676.1 L1298.7,676.5 L1299.2,676.3 L1299.7,676.5 L1300.1,676.8 L1300.6,676.7 L1301.1,677 L1301.6,677.2 L1302.1,677.2 L1302.6,677.1 L1303.1,676.9 L1303.6,676.8 L1304.1,676.4 L1304.6,676.4 L1305.1,676.5 L1305.6,676 L1306.1,675.9 L1306.5,675.8 L1307,675.7 L1307.5,675.8 L1308,675.5 L1308.5,675.2 L1309,675.3 L1309.5,675.1 L1310,675.1 L1310.5,675.2 L1311,675.1 L1311.5,674.9 L1312.1,674.9 L1312.6,674.6 L1313.2,674.3 L1313.7,672.3 L1314.3,670.5 L1314.8,669.4 L1315.3,668.4 L1315.8,667.1 L1316.3,667.6 L1316.8,667.9 L1317.3,668 L1317.8,668.6 L1318.2,668.8 L1318.7,669 L1319.3,669.7 L1319.8,670.2 L1320.4,670.7 L1320.9,671.4 L1321.4,671.1 L1321.9,671 L1322.4,670.7 L1322.8,670.6 L1323.3,670.4 L1323.8,670.2 L1324.3,670 L1324.8,670.4 L1325.4,670.5 L1325.9,671.2 L1326.5,671.4 L1327,672.3 L1327.6,672.8 L1328.1,673.6 L1328.7,673.9 L1329.2,673.5 L1329.8,672.7 L1330.4,672.5 L1330.9,671.9 L1331.4,671.8 L1331.9,671.6 L1332.4,671.1 L1332.9,671.1 L1333.4,670.5 L1333.9,670 L1334.4,670 L1334.8,669.7 L1335.3,669.5 L1335.8,669.4 L1336.2,669.2 L1336.6,669.1 L1337.1,668.8 L1337.5,668.7 L1338,668.4 L1338.5,668.2 L1338.9,668.1 L1339.4,667.9 L1339.8,667.3 L1340.3,666.5 L1340.8,666.1 L1341.2,664.4 L1341.7,662.9 L1342.1,661.2 L1342.7,653.7 L1343.3,655.5 L1343.8,657.4 L1344.4,658.8 L1344.9,656.9 L1345.5,655.2 L1345.9,657.1 L1346.3,658.8 L1346.9,648 L1347.3,642.1 L1347.7,637.1 L1348.2,634.5 L1348.8,631.7 L1349.3,634.3 L1349.9,636.5 L1350.4,635.1 L1351,634.7 L1351.4,638.5 L1351.8,641.9 L1352.2,640.9 L1352.7,640.7 L1353.2,646.2 L1353.8,651 L1354.3,668.5 L1354.9,663.4 L1355.4,657.6 L1355.9,658.5 L1356.4,659.9 L1356.8,660.6 L1357.2,658.8 L1357.6,656.4 L1358.2,654.3 L1358.8,652.2 L1359.2,655.9 L1359.7,659.9 L1360.1,663.6 L1360.6,665 L1361.1,666.9 L1361.5,668.5 L1362.1,669.3 L1362.6,670 L1363.2,670.7 L1363.7,671.5 L1364.2,670.8 L1364.7,670.1 L1365.2,669.2 L1365.7,668.5 L1366.1,667.2 L1366.6,666.3 L1367.1,665.1 L1367.5,663.7 L1368,662.4 L1368.4,661.2 L1369,661.1 L1369.6,660.6 L1370.1,660.3 L1370.7,660 L1371.1,661.2 L1371.6,662.7 L1372,663.6 L1372.6,658.4 L1373.1,652.2 L1373.7,652.8 L1374.3,652.5 L1374.8,653.4 L1375.3,655.3 L1375.7,657.7 L1376.2,660 L1376.6,662 L1377,663.6 L1377.6,665.2 L1378.1,667.3 L1378.5,669.6 L1379,671.5 L1379.4,669.4 L1379.9,667.3 L1380.3,665.4 L1380.8,664.7 L1381.3,664.7 L1381.8,664.3 L1382.3,663.6 L1382.7,660.6 L1383.2,657.9 L1383.7,655.2 L1384.1,657.9 L1384.6,660.7 L1385.1,663.6 L1385.5,662.8 L1386,661.6 L1386.4,660.6 L1387,661.1 L1387.5,660.8 L1388.1,661.2 L1388.7,661.2" fill="none" stroke="#4682b4" stroke-width="1.15"/>
<line x1="264.3" y1="521.1" x2="269.8" y2="521.1" stroke="#111" stroke-width="1.2"/>
<text x="261" y="524.4" class="al" text-anchor="end" style="font-size:9px">0</text>
<line x1="264.3" y1="531.3" x2="269.8" y2="531.3" stroke="#111" stroke-width="1.2"/>
<text x="261" y="534.6" class="al" text-anchor="end" style="font-size:9px">1</text>
<line x1="264.3" y1="541.5" x2="269.8" y2="541.5" stroke="#111" stroke-width="1.2"/>
<text x="261" y="544.8" class="al" text-anchor="end" style="font-size:9px">2</text>
<line x1="264.3" y1="551.7" x2="269.8" y2="551.7" stroke="#111" stroke-width="1.2"/>
<text x="261" y="555" class="al" text-anchor="end" style="font-size:9px">3</text>
<line x1="264.3" y1="561.9" x2="269.8" y2="561.9" stroke="#111" stroke-width="1.2"/>
<text x="261" y="565.2" class="al" text-anchor="end" style="font-size:9px">4</text>
<line x1="264.3" y1="572.1" x2="269.8" y2="572.1" stroke="#111" stroke-width="1.2"/>
<text x="261" y="575.4" class="al" text-anchor="end" style="font-size:9px">5</text>
<line x1="264.3" y1="582.3" x2="269.8" y2="582.3" stroke="#111" stroke-width="1.2"/>
<text x="261" y="585.6" class="al" text-anchor="end" style="font-size:9px">6</text>
<text x="250.5" y="21.7" style="font-size:10px">Price (CNY)</text>
<text x="1344" y="21.7" style="font-size:10px">Volume (billion)</text>
<text x="245.6" y="607.5" style="font-size:10px">Number (10000)</text>
<line x1="240" y1="612.5" x2="1424" y2="612.5" stroke="#555" stroke-width="1"/>
<rect x="886" y="175.3" width="227.5" height="176.3" fill="none" stroke="#a8281c" stroke-width="2"/>
<rect x="888" y="379.4" width="249" height="108.5" fill="none" stroke="#a8281c" stroke-width="2"/>
</svg>

<div class="note" style="left:819px;top:146.2px;width:140px;height:21.4px;padding:5.5px 0 0 10px">suspended for 3 years</div>
<div class="note" style="left:925px;top:518px;width:140px;height:33.8px;padding:4.5px 0 0 10.5px">major shareholder<br>changed</div>

<!-- overview markers -->
<div class="abs" style="left:270px;top:622.2px;width:30px;height:9.5px;background:#a3a3ef"></div>
<div class="abs" style="left:649px;top:622.2px;width:36px;height:9.5px;background:#a3a3ef"></div>
<div class="abs" style="left:1154px;top:622.2px;width:36px;height:9.5px;background:#a3a3ef"></div>
<div class="abs" style="left:1323px;top:622.2px;width:23.5px;height:9.5px;background:#a3a3ef"></div>
<div class="ob" style="left:281.4px;top:618.2px;width:13.5px;height:13.5px"><svg width="11.5" height="11.5" viewBox="1.8 1.8 14 13.6"><path d="M1.8,8.9 h12.8 l-0.7,4.6 h-11.4z" fill="#5a5a5a"/><rect x="2.9" y="5.3" width="2.1" height="3.7" rx="0.6" fill="#808080"/><rect x="3.15" y="3.9" width="1.6" height="1.7" rx="0.5" fill="#3a3a3a"/><rect x="6.8" y="5.3" width="2.1" height="3.7" rx="0.6" fill="#808080"/><rect x="7.05" y="3.9" width="1.6" height="1.7" rx="0.5" fill="#3a3a3a"/><rect x="10.7" y="5.3" width="2.1" height="3.7" rx="0.6" fill="#808080"/><rect x="10.95" y="3.9" width="1.6" height="1.7" rx="0.5" fill="#3a3a3a"/></svg></div>
<div class="ob" style="left:660.0px;top:618.2px;width:13.5px;height:13.5px"><svg width="11.5" height="11.5" viewBox="1.8 1.8 14 13.6"><path d="M1.8,8.9 h12.8 l-0.7,4.6 h-11.4z" fill="#5a5a5a"/><rect x="2.9" y="5.3" width="2.1" height="3.7" rx="0.6" fill="#808080"/><rect x="3.15" y="3.9" width="1.6" height="1.7" rx="0.5" fill="#3a3a3a"/><rect x="6.8" y="5.3" width="2.1" height="3.7" rx="0.6" fill="#808080"/><rect x="7.05" y="3.9" width="1.6" height="1.7" rx="0.5" fill="#3a3a3a"/><rect x="10.7" y="5.3" width="2.1" height="3.7" rx="0.6" fill="#808080"/><rect x="10.95" y="3.9" width="1.6" height="1.7" rx="0.5" fill="#3a3a3a"/></svg></div>
<div class="ob" style="left:1166.0px;top:618.2px;width:13.5px;height:13.5px"><svg width="11.5" height="11.5" viewBox="1.8 1.8 14 13.6"><path d="M1.8,8.9 h12.8 l-0.7,4.6 h-11.4z" fill="#5a5a5a"/><rect x="2.9" y="5.3" width="2.1" height="3.7" rx="0.6" fill="#808080"/><rect x="3.15" y="3.9" width="1.6" height="1.7" rx="0.5" fill="#3a3a3a"/><rect x="6.8" y="5.3" width="2.1" height="3.7" rx="0.6" fill="#808080"/><rect x="7.05" y="3.9" width="1.6" height="1.7" rx="0.5" fill="#3a3a3a"/><rect x="10.7" y="5.3" width="2.1" height="3.7" rx="0.6" fill="#808080"/><rect x="10.95" y="3.9" width="1.6" height="1.7" rx="0.5" fill="#3a3a3a"/></svg></div>
<div class="ob" style="left:1328.0px;top:618.2px;width:13.5px;height:13.5px"><svg width="11.5" height="11.5" viewBox="1.8 1.8 14 13.6"><path d="M1.8,8.9 h12.8 l-0.7,4.6 h-11.4z" fill="#5a5a5a"/><rect x="2.9" y="5.3" width="2.1" height="3.7" rx="0.6" fill="#808080"/><rect x="3.15" y="3.9" width="1.6" height="1.7" rx="0.5" fill="#3a3a3a"/><rect x="6.8" y="5.3" width="2.1" height="3.7" rx="0.6" fill="#808080"/><rect x="7.05" y="3.9" width="1.6" height="1.7" rx="0.5" fill="#3a3a3a"/><rect x="10.7" y="5.3" width="2.1" height="3.7" rx="0.6" fill="#808080"/><rect x="10.95" y="3.9" width="1.6" height="1.7" rx="0.5" fill="#3a3a3a"/></svg></div>
<div class="ob" style="left:311.4px;top:670.4px;width:13.5px;height:13.5px"><svg width="11.5" height="11.5" viewBox="1.8 1.8 14 13.6"><path d="M14.9,14.5 L14.9,4.5 L11.7,7.7 L5,1 L1.8,4.2 L8.5,10.9 L5.3,14.5z" fill="#118a22"/></svg></div>
<div class="ob" style="left:1097.0px;top:666.2px;width:13.5px;height:13.5px"><svg width="11.5" height="11.5" viewBox="1.8 1.8 14 13.6"><path d="M14.9,14.5 L14.9,4.5 L11.7,7.7 L5,1 L1.8,4.2 L8.5,10.9 L5.3,14.5z" fill="#118a22"/></svg></div>
<div class="ob" style="left:1016.6px;top:670.7px;width:13.5px;height:13.5px"><svg width="11.5" height="11.5" viewBox="1.8 1.8 14 13.6"><rect x="3.3" y="2.2" width="3.8" height="12" fill="#8b0a0a"/><rect x="9.6" y="2.2" width="3.8" height="12" fill="#8b0a0a"/></svg></div>
<div class="ob" style="left:1247.0px;top:672.4px;width:13.5px;height:13.5px"><svg width="11.5" height="11.5" viewBox="1.8 1.8 14 13.6"><rect x="3.3" y="2.2" width="3.8" height="12" fill="#8b0a0a"/><rect x="9.6" y="2.2" width="3.8" height="12" fill="#8b0a0a"/></svg></div>
<div class="ob" style="left:1346.4px;top:643.1px;width:13.5px;height:13.5px"><svg width="11.5" height="11.5" viewBox="1.8 1.8 14 13.6"><rect x="1.4" y="12.8" width="14" height="1.7" fill="#1f9a2e"/><path d="M8.4,12.5 L15.5,7 L11.1,7 L11.1,0.8 L5.7,0.8 L5.7,7 L1.3,7z" fill="#1f9a2e"/></svg></div>
<div class="ob" style="left:1366.7px;top:651.0px;width:13.5px;height:13.5px"><svg width="11.5" height="11.5" viewBox="1.8 1.8 14 13.6"><rect x="1.4" y="0.9" width="14" height="1.7" fill="#d0101a"/><path d="M8.4,2.9 L15.5,8.4 L11.1,8.4 L11.1,14.6 L5.7,14.6 L5.7,8.4 L1.3,8.4z" fill="#d0101a"/></svg></div>

<div class="abs" id="bt"></div><div class="abs" id="bl"></div><div class="abs" id="br"></div>



<div class="abs panel" style="left:12px;top:15px;width:216px;height:575px"></div>
<div class="abs panel" style="left:12px;top:596px;width:216px;height:116px"></div>

<div class="abs" id="sel"><span>000017 (深中华A)</span><i></i></div>

<div class="ic" style="left:29.9px;top:70.2px"><svg width="20" height="20" viewBox="0 0 20 20"><text x="10" y="17.3" text-anchor="middle" style="font-family:Liberation Sans,sans-serif;font-weight:bold;font-size:20px" fill="#000">¥</text></svg></div>
<div class="ic" style="left:69.0px;top:70.2px"><svg width="20" height="20" viewBox="0 0 20 20"><rect x="9.3" y="2.5" width="1.4" height="15" fill="#888"/><rect x="4" y="6.5" width="12" height="7" fill="#555"/></svg></div>
<div class="ic" style="left:107.0px;top:70.2px"><svg width="20" height="20" viewBox="0 0 20 20"><rect x="6.5" y="2.5" width="10" height="13" fill="#444"/><rect x="5" y="3.8" width="10" height="13" fill="#222"/><rect x="3.5" y="5.2" width="10" height="13" fill="#fff" stroke="#222" stroke-width="1"/><rect x="5" y="7.0" width="7" height="0.8" fill="#555"/><rect x="5" y="8.6" width="7" height="0.8" fill="#555"/><rect x="5" y="10.2" width="7" height="0.8" fill="#555"/><rect x="5" y="11.8" width="7" height="0.8" fill="#555"/><rect x="5" y="13.4" width="7" height="0.8" fill="#555"/><rect x="5" y="15.0" width="7" height="0.8" fill="#555"/></svg></div>
<div class="ic" style="left:146.0px;top:70.2px"><svg width="20" height="20" viewBox="0 0 20 20"><circle cx="10" cy="5.5" r="2.6" fill="#fff" stroke="#111" stroke-width="1.3"/><path d="M4,14 L6,9 L8.5,8.5 L10,11 L11.5,8.5 L14,9 L16,14z" fill="#111"/><rect x="3" y="13.5" width="14" height="4.5" fill="#111"/><rect x="4.5" y="15" width="11" height="1.6" fill="#fff"/><rect x="6" y="15.2" width="1.2" height="1.2" fill="#111"/><rect x="8.5" y="15.2" width="1.2" height="1.2" fill="#111"/><rect x="11" y="15.2" width="1.2" height="1.2" fill="#111"/><rect x="13.2" y="15.2" width="1.2" height="1.2" fill="#111"/></svg></div>
<div class="ic" style="left:185.1px;top:70.2px"><svg width="20" height="20" viewBox="0 0 20 20"><rect x="3.0" y="10.5" width="2.6" height="7" rx="1.2" fill="#555"/><rect x="5.95" y="7.5" width="2.6" height="10" rx="1.2" fill="#555"/><rect x="8.9" y="3.5" width="2.6" height="14" rx="1.2" fill="#555"/><rect x="11.850000000000001" y="6.5" width="2.6" height="11" rx="1.2" fill="#555"/><rect x="14.8" y="9.5" width="2.6" height="8" rx="1.2" fill="#555"/><rect x="3" y="17" width="14.5" height="1" fill="#555"/></svg></div>
<div class="sep" style="top:114.5px"></div>
<div class="ic" style="left:29.9px;top:138.2px"><svg width="20" height="20" viewBox="0 0 20 20"><rect x="2.7" y="5.4" width="4" height="2.0" fill="#aaa"/><rect x="2.7" y="7.4" width="4" height="4.1" fill="#666"/><rect x="2.7" y="11.5" width="4" height="4.0" fill="#111"/><rect x="2.7" y="15.5" width="4" height="1.8000000000000007" fill="#888"/><rect x="7.6" y="1.8" width="4" height="1.4000000000000001" fill="#111"/><rect x="7.6" y="3.2" width="4" height="4.8" fill="#bbb"/><rect x="7.6" y="8" width="4" height="9.3" fill="#555"/><rect x="12.6" y="3.7" width="4" height="1.7000000000000002" fill="#111"/><rect x="12.6" y="5.4" width="4" height="2.0" fill="#999"/><rect x="12.6" y="7.4" width="4" height="2.5999999999999996" fill="#444"/><rect x="12.6" y="10" width="4" height="5.5" fill="#ccc"/><rect x="12.6" y="15.5" width="4" height="1.8000000000000007" fill="#777"/></svg></div>
<div class="ic gb" style="left:69.0px;top:138.2px"><svg width="20" height="20" viewBox="0 0 20 20"><rect x="2.8" y="8.7" width="4.4" height="1.8000000000000007" fill="#bbb"/><rect x="2.8" y="10.5" width="4.4" height="2.0" fill="#888"/><rect x="2.8" y="12.5" width="4.4" height="2.0" fill="#444"/><rect x="2.8" y="14.5" width="4.4" height="1.5" fill="#111"/><rect x="2.8" y="16" width="4.4" height="1.3000000000000007" fill="#888"/><rect x="7.6" y="6" width="4.2" height="2" fill="#ccc"/><rect x="7.6" y="8" width="4.2" height="2" fill="#999"/><rect x="7.6" y="10" width="4.2" height="2" fill="#777"/><rect x="7.6" y="12" width="4.2" height="3" fill="#111"/><rect x="7.6" y="15" width="4.2" height="2.3000000000000007" fill="#888"/><rect x="12.6" y="2.7" width="4.3" height="3.3" fill="#bbb"/><rect x="12.6" y="6" width="4.3" height="2" fill="#999"/><rect x="12.6" y="8" width="4.3" height="2.5" fill="#666"/><rect x="12.6" y="10.5" width="4.3" height="4.5" fill="#111"/><rect x="12.6" y="15" width="4.3" height="2.3000000000000007" fill="#888"/></svg></div>
<div class="ic gb" style="left:107.0px;top:138.2px"><svg width="20" height="20" viewBox="0 0 20 20"><path d="M2.7,13 L8,9.5 L12,7.5 L16.6,2.2 L16.6,17.3 L2.7,17.3z" fill="#bbb"/><path d="M2.7,14.2 L7,11.8 L11,10.5 L16.6,9 L16.6,17.3 L2.7,17.3z" fill="#777"/><path d="M5,17.3 L11,12.6 L16.6,15.5 L16.6,17.3z" fill="#111"/></svg></div>
<div class="ic gb" style="left:146.0px;top:138.2px"><svg width="20" height="20" viewBox="0 0 20 20"><circle cx="3.60" cy="7.20" r="1.05" fill="#111"/><rect x="2.60" y="8.30" width="2" height="9.00" rx="0.9" fill="#111"/><circle cx="6.15" cy="6.25" r="1.05" fill="#111"/><rect x="5.15" y="7.35" width="2" height="9.35" rx="0.9" fill="#111"/><circle cx="8.70" cy="5.30" r="1.05" fill="#111"/><rect x="7.70" y="6.40" width="2" height="9.70" rx="0.9" fill="#111"/><circle cx="11.25" cy="4.35" r="1.05" fill="#111"/><rect x="10.25" y="5.45" width="2" height="10.05" rx="0.9" fill="#111"/><circle cx="13.80" cy="3.40" r="1.05" fill="#111"/><rect x="12.80" y="4.50" width="2" height="10.40" rx="0.9" fill="#111"/><circle cx="16.35" cy="2.45" r="1.05" fill="#111"/><rect x="15.35" y="3.55" width="2" height="10.75" rx="0.9" fill="#111"/></svg></div>
<div class="ic gb" style="left:185.1px;top:138.2px"><svg width="20" height="20" viewBox="0 0 20 20"><rect x="3.6" y="7.2" width="12.2" height="9.6" fill="#fff" stroke="#111" stroke-width="1.3"/><rect x="3" y="6.4" width="13.4" height="2.6" fill="#111"/><rect x="6.6" y="7" width="1.2" height="10" fill="#111"/><rect x="3.6" y="11.4" width="12.2" height="1.1" fill="#111"/><circle cx="9.8" cy="2.6" r="1.4" fill="#111"/><path d="M7.9,6.4 Q9.8,3 11.7,6.4z" fill="#111"/><circle cx="6.3" cy="4.2" r="1.1" fill="#111"/><path d="M4.8,6.4 Q6.3,4 7.8,6.4z" fill="#111"/><circle cx="13.3" cy="4.2" r="1.1" fill="#111"/><path d="M11.8,6.4 Q13.3,4 14.8,6.4z" fill="#111"/></svg></div>
<div class="sep" style="top:186.3px"></div>
<div class="abs" id="tbl"></div>
<div class="abs" id="thd"><span>Executive Trading</span><svg style="position:absolute;left:165px;top:4.5px" width="15" height="15" viewBox="0 0 15 15"><path d="M2,1 L6.5,6" stroke="#a0522d" stroke-width="1.6"/><path d="M5,5 L8.5,3.5 L13.5,10 L9,13.5z" fill="#e8c020"/><path d="M5,5 L8.5,3.5 L9,5 L6,6.5z" fill="#b33"/></svg></div>
<div class="row" style="top:247.3px"><div class="cell c1">郑钟焕</div><div class="cell c2">监事</div><div class="cell c3"><div class="tl"></div><div class="tk1" style="left:63.7px;top:12.6px;height:7.6px"></div><div class="tk1" style="left:78.1px;top:12.6px;height:7.6px"></div></div></div>
<div class="row" style="top:270.3px"><div class="cell c1">崔红霞</div><div class="cell c2">证券事务</div><div class="cell c3"><div class="tl"></div><div class="tk1" style="left:80.0px;top:12.6px;height:7.6px"></div></div></div>
<div class="row" style="top:293.3px"><div class="cell c1">罗桂友</div><div class="cell c2">董事</div><div class="cell c3"><div class="tl"></div><div class="tk1" style="left:67.5px;top:4.6px;height:7.5px;background:#8fc49a"></div><div class="tk1" style="left:67.5px;top:12.6px;height:7.6px"></div></div></div>
<div class="row" style="top:316.3px"><div class="cell c1">萧彦</div><div class="cell c2">监事</div><div class="cell c3"><div class="tl"></div><div class="tk1" style="left:65.4px;top:12.6px;height:7.6px"></div></div></div>
<div class="row" style="top:339.3px"><div class="cell c1">蓝启华</div><div class="cell c2">监事</div><div class="cell c3"><div class="tl"></div><div class="tk1" style="left:55.7px;top:12.6px;height:7.6px"></div></div></div>
<div class="bi" style="left:23.3px;top:608.3px"><svg width="17.5" height="17" viewBox="0 0 17.5 17"><rect x="1.4" y="0.9" width="14" height="1.7" fill="#d0101a"/><path d="M8.4,2.9 L15.5,8.4 L11.1,8.4 L11.1,14.6 L5.7,14.6 L5.7,8.4 L1.3,8.4z" fill="#d0101a"/></svg></div>
<div class="inp" style="left:44.4px;top:608.3px">4</div>
<div class="lb" style="left:2.9px;top:629.3px;width:60px">days</div>
<div class="bi" style="left:73.0px;top:608.3px"><svg width="17.5" height="17" viewBox="0 0 17.5 17"><rect x="1.4" y="12.8" width="14" height="1.7" fill="#1f9a2e"/><path d="M8.4,12.5 L15.5,7 L11.1,7 L11.1,0.8 L5.7,0.8 L5.7,7 L1.3,7z" fill="#1f9a2e"/></svg></div>
<div class="inp" style="left:94.5px;top:608.3px">4</div>
<div class="lb" style="left:53.0px;top:629.3px;width:60px">days</div>
<div class="bi" style="left:123.2px;top:608.3px"><svg width="17.5" height="17" viewBox="0 0 17.5 17"><path d="M14.9,1.2 L14.9,11.2 L11.7,8 L5,14.7 L1.8,11.5 L8.5,4.8 L5.3,1.2z" fill="#d0101a"/></svg></div>
<div class="inp" style="left:144.3px;top:608.3px">8</div>
<div class="lb" style="left:102.8px;top:629.3px;width:60px">days</div>
<div class="bi" style="left:172.2px;top:608.3px"><svg width="17.5" height="17" viewBox="0 0 17.5 17"><path d="M14.9,14.5 L14.9,4.5 L11.7,7.7 L5,1 L1.8,4.2 L8.5,10.9 L5.3,14.5z" fill="#1f9a2e"/></svg></div>
<div class="inp" style="left:193.5px;top:608.3px">8</div>
<div class="lb" style="left:152.0px;top:629.3px;width:60px">days</div>
<div class="bi" style="left:23.3px;top:648.5px"><svg width="17.5" height="17" viewBox="0 0 17.5 17"><text x="8.1" y="14.1" text-anchor="middle" style="font-family:Liberation Sans,sans-serif;font-weight:bold;font-size:16px" fill="#1a5fbf">E</text></svg></div>
<div class="inp" style="left:44.4px;top:648.5px">5</div>
<div class="lb" style="left:2.9px;top:668.5px;width:60px">in a day</div>
<div class="bi" style="left:73.0px;top:648.5px"><svg width="17.5" height="17" viewBox="0 0 17.5 17"><text x="8.1" y="14.1" text-anchor="middle" style="font-family:Liberation Sans,sans-serif;font-weight:bold;font-size:16px" fill="#e6c51e">B</text></svg></div>
<div class="inp" style="left:94.5px;top:648.5px">5</div>
<div class="lb" style="left:53.0px;top:668.5px;width:60px">in a day</div>
<div class="bi" style="left:123.2px;top:648.5px"><svg width="17.5" height="17" viewBox="0 0 17.5 17"><rect x="3.3" y="2.2" width="3.8" height="12" fill="#8b0a0a"/><rect x="9.6" y="2.2" width="3.8" height="12" fill="#8b0a0a"/></svg></div>
<div class="inp" style="left:144.3px;top:648.5px">30</div>
<div class="lb" style="left:102.8px;top:668.5px;width:60px">days</div>
<div class="bi" style="left:172.2px;top:648.5px"><svg width="17.5" height="17" viewBox="0 0 17.5 17"><path d="M1.8,8.9 h12.8 l-0.7,4.6 h-11.4z" fill="#5a5a5a"/><rect x="2.9" y="5.3" width="2.1" height="3.7" rx="0.6" fill="#808080"/><rect x="3.15" y="3.9" width="1.6" height="1.7" rx="0.5" fill="#3a3a3a"/><rect x="6.8" y="5.3" width="2.1" height="3.7" rx="0.6" fill="#808080"/><rect x="7.05" y="3.9" width="1.6" height="1.7" rx="0.5" fill="#3a3a3a"/><rect x="10.7" y="5.3" width="2.1" height="3.7" rx="0.6" fill="#808080"/><rect x="10.95" y="3.9" width="1.6" height="1.7" rx="0.5" fill="#3a3a3a"/></svg></div>
<div class="inp" style="left:193.5px;top:648.5px">50</div>
<div class="lb" style="left:152.0px;top:668.5px;width:60px">%</div>
<div class="abs" id="upd">Update</div>

<div class="abs" id="xbtn"><svg width="21" height="23" viewBox="0 0 21 23"><path d="M5,6.5 L15,16.5 M15,6.5 L5,16.5" stroke="#fff" stroke-width="3.2" stroke-linecap="square"/></svg></div>
<div class="abs" id="cam"><svg width="23" height="23" viewBox="1.9 1.7 23 23"><path d="M4.2,8 a1.5,1.5 0 0 1 1.5,-1.5 h2.8 l1,-1.6 h5.2 l1,1.6 h2.7 a1.5,1.5 0 0 1 1.5,1.5 v8.2 a1.5,1.5 0 0 1 -1.5,1.5 h-12.7 a1.5,1.5 0 0 1 -1.5,-1.5z" fill="#000"/><circle cx="11.9" cy="12.1" r="4" fill="#000" stroke="#a0a0a0" stroke-width="0.9"/><circle cx="6.4" cy="8.4" r="0.7" fill="#c8c8c8"/></svg></div>

<div class="abs" id="pres"><svg width="23" height="23" viewBox="0 1.8 23 23"><rect x="5.4" y="4" width="15.8" height="1.9" fill="#000"/><rect x="6.5" y="5.5" width="13.6" height="10.7" fill="#000"/><rect x="7.8" y="7" width="11" height="7.6" fill="#6a6a6a"/><rect x="8.4" y="7.6" width="3" height="3" fill="#000"/><rect x="12.3" y="7.9" width="5.8" height="1.1" fill="#000"/><rect x="12.3" y="9.7" width="5.8" height="1.1" fill="#000"/><rect x="8.4" y="11.8" width="9.7" height="1.1" fill="#000"/><rect x="12.6" y="16" width="1.5" height="3" fill="#000"/><rect x="10.2" y="18.6" width="6.2" height="1.4" fill="#000"/></svg></div>
</body></html>
